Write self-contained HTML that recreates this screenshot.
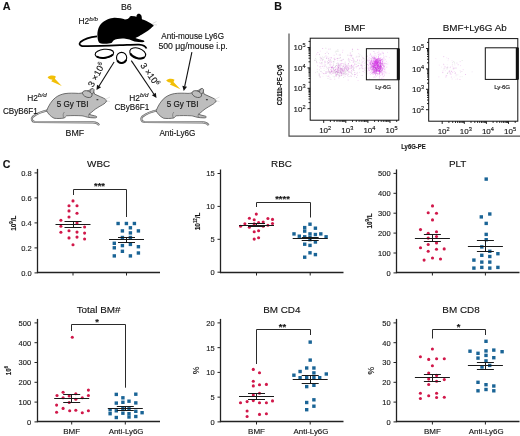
<!DOCTYPE html>
<html><head><meta charset="utf-8"><style>
html,body{margin:0;padding:0;background:#fff;}
svg{display:block;font-family:"Liberation Sans", sans-serif;-webkit-font-smoothing:antialiased;will-change:transform;}
svg text{stroke:#1a1a1a;stroke-width:0.14px;}
</style></head><body>
<svg width="520" height="436" viewBox="0 0 520 436">
<rect width="520" height="436" fill="#fff"/>
<text x="2.8" y="10.4" font-size="10.8" text-anchor="start" font-weight="bold" fill="#111" >A</text>
<text x="121" y="9.9" font-size="8.8" text-anchor="start" font-weight="normal" fill="#111" >B6</text>
<text x="78.5" y="24.0" font-size="8.4" text-anchor="start" font-weight="normal" fill="#111" >H2<tspan font-size="6.2" dy="-3.4" font-style="italic">b/b</tspan></text>
<path d="M99,42.5 C97,39 96.5,31 99.5,26 C102.5,21 108,18.6 113,17.9 C118,17.6 122,18.5 125,19.6
 C127,19.4 128.5,18.8 129.4,17.6 C129.8,16.6 130.3,16.2 131,16.1 L134.6,16.3 C135.4,16.4 135.9,16.6 136.3,16.9
 C136.4,15.8 136.8,14.9 137.4,14.3 C138,13.7 139.3,13.7 140.2,14.3 C141,14.8 141.6,15.8 141.7,17 L141.9,19.2
 C143.5,19.7 145,20.2 146,20.8 C148.5,22 151,23.5 153.1,24.8 C153.7,25.2 153.7,25.9 153.3,26.3
 C152.5,27 151.8,27.4 151.5,27.7 C150,29 149,29.9 147.5,30.9 C146,31.9 144.3,33 142.7,34.1 C141,35.2 139.8,35.8 138.6,36.5
 C137.5,37.1 136.3,37.6 135.4,38.1 C137,38.8 139.5,39.5 142,40 C143.5,40.3 144.5,40.8 144.4,41.6 C144.3,42.1 143.5,42.2 142.5,42.2
 C140,42.2 137,41.9 134.5,41.5 C131,40.2 128,39 124,38.6 C120,38.3 116,39 113.5,40.5 C112.5,41.5 112.2,42.5 111.5,43
 C109,43.8 104,43.8 101,43.5 C100,43.3 99.3,43 99,42.5 Z" fill="#000"/>
<path d="M97,36.3 C90,37 84,39 80.5,42 C78.8,43.8 79.5,45.6 82,46 C90,46.4 105,45.8 120,45.2 C128,44.9 135,44.4 139,44.6 C143,44.9 145.5,46.2 146.5,48.5" fill="none" stroke="#000" stroke-width="1.8"/>
<path d="M152.5,23.5 L156.5,21.5 M152.5,24.5 L157,25" stroke="#ccc" stroke-width="0.6"/>
<g transform="translate(104.4,53.6) rotate(-6)"><ellipse cx="0" cy="0" rx="9.3" ry="4.3" fill="#fff" stroke="#000" stroke-width="1.1"/><path d="M-7.905,2.15 A9.3,4.3 0 0 0 8.370000000000001,1.72" fill="none" stroke="#000" stroke-width="2"/></g>
<g transform="translate(121.6,57.8) rotate(0)"><ellipse cx="0" cy="0" rx="5.1" ry="5.4" fill="#fff" stroke="#000" stroke-width="1.1"/><path d="M-4.335,2.7 A5.1,5.4 0 0 0 4.59,2.16" fill="none" stroke="#000" stroke-width="2"/></g>
<g transform="translate(137.7,53.2) rotate(18)"><ellipse cx="0" cy="0" rx="8.2" ry="5.0" fill="#fff" stroke="#000" stroke-width="1.1"/><path d="M-6.969999999999999,2.5 A8.2,5.0 0 0 0 7.38,2.0" fill="none" stroke="#000" stroke-width="2"/></g>
<line x1="114.1" y1="62" x2="99.05442341704806" y2="85.93614456378718" stroke="#111" stroke-width="1.1"/>
<path d="M96.5,90 L97.02249569894164,84.65893285526315 L101.08635113515447,87.21335627231122 Z" fill="#111"/>
<line x1="131.3" y1="60.6" x2="153.81782162526298" y2="94.01930669781092" stroke="#111" stroke-width="1.1"/>
<path d="M156.5,98 L151.82747497416844,95.36039588517943 L155.80816827635752,92.67821751044241 Z" fill="#111"/>
<line x1="191.9" y1="52.1" x2="184.69006728292297" y2="86.30321740174345" stroke="#111" stroke-width="1.1"/>
<path d="M183.7,91 L182.3416759837947,85.80818376028196 L187.03845858205125,86.79825104320494 Z" fill="#111"/>
<text x="0" y="0" font-size="9" text-anchor="start" font-weight="normal" fill="#111" transform="translate(93,87.8) rotate(-62)">3 ×10<tspan font-size="6" dy="-3.4">6</tspan></text>
<text x="0" y="0" font-size="9" text-anchor="start" font-weight="normal" fill="#111" transform="translate(140,65.5) rotate(55)">3 ×10<tspan font-size="6" dy="-3.4">6</tspan></text>
<text transform="translate(161.2,38.8) scale(0.93,1)" font-size="8.8" text-anchor="start" font-weight="normal" fill="#111" >Anti-mouse Ly6G</text>
<text transform="translate(158.4,48.7) scale(0.99,1)" font-size="8.8" text-anchor="start" font-weight="normal" fill="#111" >500 μg/mouse i.p.</text>
<path transform="translate(47.6,75.8)" d="M0,1.6 C1.5,-0.4 6,-0.8 8.3,0.8 L7.3,2.9 L14.2,10.2 L3.6,5.5 L5,3.9 C3.3,3.7 1.4,3.1 0,1.6 Z" fill="#f2bf06"/>
<path transform="translate(166.2,79)" d="M0,1.6 C1.5,-0.4 6,-0.8 8.3,0.8 L7.3,2.9 L14.2,10.2 L3.6,5.5 L5,3.9 C3.3,3.7 1.4,3.1 0,1.6 Z" fill="#f2bf06"/>
<g><path d="M48,110.3 C41,111.8 36,114.2 33,116.6 C31,118.6 31.5,121.6 35,122 L93,122.4 C96,122.6 98.2,123.6 99,125.2" fill="none" stroke="#6a6a6a" stroke-width="2.1"/>
<path d="M48,110.3 C41,111.8 36,114.2 33,116.6 C31,118.6 31.5,121.6 35,122 L93,122.4 C96,122.6 98.2,123.6 99,125.2" fill="none" stroke="#c6c6c6" stroke-width="0.9"/>
<path d="M54,118.2 C50.5,116.5 48,113.5 46.6,110.8 C48.5,106 51.5,100.5 55.5,97.6 C58.5,95.3 62,94.1 65,93.6
 C69,93 74,93.1 78.5,93.4 C80.5,93.3 82,93 83,92.6 C86,91.5 88.5,90.5 89.6,90 C90,89.4 90.6,89.1 91.2,89.2
 C92.6,89.6 94,91.5 94.6,94.1 C96.5,95 98.5,95.8 100.6,96.8 C102.5,97.6 104,98.3 105.2,99.1
 C106.2,99.7 106.6,100.4 106.3,101.2 C105.9,102.6 104.5,103.6 102.8,104.6 C100.5,106 97.5,107.6 95.5,109
 C93.8,110.2 92.5,111.5 91.3,112.5 C90.5,113.2 89.6,113.7 88.9,114.2 C90.5,114.8 92.5,115.4 94.5,115.8
 C95.8,116 96.8,116.4 96.8,117 C96.8,117.6 95.8,117.9 94.5,117.9 C92,117.9 89.5,117.6 87.5,117.2
 C85,116.6 83.5,116 82,115.8 C77,115.5 71,115.5 66.5,115.8 C65.5,116.5 65.2,117.3 64.5,117.9
 C61,118.6 57,118.7 54,118.2 Z"
 fill="#bdbdbd" stroke="#4a4a4a" stroke-width="0.75"/>
<ellipse cx="92" cy="91.3" rx="1.9" ry="3" transform="rotate(20 92 91.3)" fill="#bdbdbd" stroke="#4a4a4a" stroke-width="0.7"/>
<ellipse cx="87.3" cy="94.1" rx="5" ry="3.1" transform="rotate(22 87.3 94.1)" fill="#bdbdbd" stroke="#4a4a4a" stroke-width="0.75"/>
<path d="M63.6,117.5 C62.8,115.5 63,113.5 64.4,112 M88.9,114.2 C88.3,115.4 88.5,116.6 89.5,117.5" fill="none" stroke="#555" stroke-width="0.5"/>
<ellipse cx="97.4" cy="99.7" rx="1.1" ry="0.65" fill="#333"/>
<path d="M105.8,100.6 L106.6,101.4" stroke="#222" stroke-width="1"/>
<path d="M105,99.5 L110,97 M105,100.5 L110,101.5" stroke="#c8c8c8" stroke-width="0.5"/></g>
<g transform="translate(109.5,0)"><path d="M48,110.3 C41,111.8 36,114.2 33,116.6 C31,118.6 31.5,121.6 35,122 L93,122.4 C96,122.6 98.2,123.6 99,125.2" fill="none" stroke="#6a6a6a" stroke-width="2.1"/>
<path d="M48,110.3 C41,111.8 36,114.2 33,116.6 C31,118.6 31.5,121.6 35,122 L93,122.4 C96,122.6 98.2,123.6 99,125.2" fill="none" stroke="#c6c6c6" stroke-width="0.9"/>
<path d="M54,118.2 C50.5,116.5 48,113.5 46.6,110.8 C48.5,106 51.5,100.5 55.5,97.6 C58.5,95.3 62,94.1 65,93.6
 C69,93 74,93.1 78.5,93.4 C80.5,93.3 82,93 83,92.6 C86,91.5 88.5,90.5 89.6,90 C90,89.4 90.6,89.1 91.2,89.2
 C92.6,89.6 94,91.5 94.6,94.1 C96.5,95 98.5,95.8 100.6,96.8 C102.5,97.6 104,98.3 105.2,99.1
 C106.2,99.7 106.6,100.4 106.3,101.2 C105.9,102.6 104.5,103.6 102.8,104.6 C100.5,106 97.5,107.6 95.5,109
 C93.8,110.2 92.5,111.5 91.3,112.5 C90.5,113.2 89.6,113.7 88.9,114.2 C90.5,114.8 92.5,115.4 94.5,115.8
 C95.8,116 96.8,116.4 96.8,117 C96.8,117.6 95.8,117.9 94.5,117.9 C92,117.9 89.5,117.6 87.5,117.2
 C85,116.6 83.5,116 82,115.8 C77,115.5 71,115.5 66.5,115.8 C65.5,116.5 65.2,117.3 64.5,117.9
 C61,118.6 57,118.7 54,118.2 Z"
 fill="#bdbdbd" stroke="#4a4a4a" stroke-width="0.75"/>
<ellipse cx="92" cy="91.3" rx="1.9" ry="3" transform="rotate(20 92 91.3)" fill="#bdbdbd" stroke="#4a4a4a" stroke-width="0.7"/>
<ellipse cx="87.3" cy="94.1" rx="5" ry="3.1" transform="rotate(22 87.3 94.1)" fill="#bdbdbd" stroke="#4a4a4a" stroke-width="0.75"/>
<path d="M63.6,117.5 C62.8,115.5 63,113.5 64.4,112 M88.9,114.2 C88.3,115.4 88.5,116.6 89.5,117.5" fill="none" stroke="#555" stroke-width="0.5"/>
<ellipse cx="97.4" cy="99.7" rx="1.1" ry="0.65" fill="#333"/>
<path d="M105.8,100.6 L106.6,101.4" stroke="#222" stroke-width="1"/>
<path d="M105,99.5 L110,97 M105,100.5 L110,101.5" stroke="#c8c8c8" stroke-width="0.5"/></g>
<text transform="translate(72.6,107.3) scale(0.91,1)" font-size="8.9" text-anchor="middle" font-weight="normal" fill="#111" >5 Gy TBI</text>
<text transform="translate(182.6,107.3) scale(0.91,1)" font-size="8.9" text-anchor="middle" font-weight="normal" fill="#111" >5 Gy TBI</text>
<text x="27.3" y="100.8" font-size="8.4" text-anchor="start" font-weight="normal" fill="#111" >H2<tspan font-size="6.2" dy="-3.4" font-style="italic">b/d</tspan></text>
<text transform="translate(2.9,113.6) scale(0.93,1)" font-size="8.8" text-anchor="start" font-weight="normal" fill="#111" >CByB6F1</text>
<text x="129.2" y="100.8" font-size="8.4" text-anchor="start" font-weight="normal" fill="#111" >H2<tspan font-size="6.2" dy="-3.4" font-style="italic">b/d</tspan></text>
<text transform="translate(114.4,110.4) scale(0.93,1)" font-size="8.8" text-anchor="start" font-weight="normal" fill="#111" >CByB6F1</text>
<text transform="translate(74.8,136.4) scale(1.0,1)" font-size="8.8" text-anchor="middle" font-weight="normal" fill="#111" >BMF</text>
<text transform="translate(177.4,136.4) scale(0.93,1)" font-size="8.8" text-anchor="middle" font-weight="normal" fill="#111" >Anti-Ly6G</text>
<text x="274.2" y="10.0" font-size="10.6" text-anchor="start" font-weight="bold" fill="#111" >B</text>
<text x="354.8" y="31.2" font-size="9.9" text-anchor="middle" font-weight="normal" fill="#111" >BMF</text>
<text x="474.7" y="31.2" font-size="9.9" text-anchor="middle" font-weight="normal" fill="#111" >BMF+Ly6G Ab</text>
<path d="M289,33.5 L289,136.2 L520,136.2" fill="none" stroke="#505050" stroke-width="1.2"/>
<text transform="translate(281.6,85) rotate(-90) scale(0.73,1)" font-size="8" text-anchor="middle" fill="#111" font-weight="bold">CD11b-PE-Cy5</text>
<text transform="translate(413.4,148.7) scale(0.74,1)" font-size="8" text-anchor="middle" fill="#111" font-weight="bold">Ly6G-PE</text>
<rect x="310.2" y="38.2" width="88.60000000000002" height="82.0" fill="#fff" stroke="#111" stroke-width="1"/>
<rect x="347.6" y="72.7" width="0.9" height="0.9" fill="#a08aa8" opacity="0.17"/>
<rect x="341.2" y="60.6" width="0.9" height="0.9" fill="#d24fd2" opacity="0.16"/>
<rect x="341.4" y="70.6" width="0.9" height="0.9" fill="#b070c0" opacity="0.28"/>
<rect x="320.8" y="63.5" width="0.9" height="0.9" fill="#d24fd2" opacity="0.22"/>
<rect x="335.3" y="70.9" width="0.9" height="0.9" fill="#d24fd2" opacity="0.44"/>
<rect x="342.4" y="68.2" width="0.9" height="0.9" fill="#b070c0" opacity="0.19"/>
<rect x="332.9" y="67.4" width="0.9" height="0.9" fill="#c040c8" opacity="0.20"/>
<rect x="348.2" y="74.2" width="0.9" height="0.9" fill="#b070c0" opacity="0.26"/>
<rect x="325.2" y="64.5" width="0.9" height="0.9" fill="#cc66cc" opacity="0.35"/>
<rect x="334.0" y="70.2" width="0.9" height="0.9" fill="#a08aa8" opacity="0.29"/>
<rect x="341.6" y="74.1" width="0.9" height="0.9" fill="#e28ae2" opacity="0.22"/>
<rect x="342.1" y="51.8" width="0.9" height="0.9" fill="#e28ae2" opacity="0.41"/>
<rect x="320.5" y="57.6" width="0.9" height="0.9" fill="#cc66cc" opacity="0.28"/>
<rect x="341.1" y="74.9" width="0.9" height="0.9" fill="#cc66cc" opacity="0.38"/>
<rect x="351.2" y="66.5" width="0.9" height="0.9" fill="#cc66cc" opacity="0.33"/>
<rect x="338.5" y="57.9" width="0.9" height="0.9" fill="#a08aa8" opacity="0.40"/>
<rect x="317.4" y="52.0" width="0.9" height="0.9" fill="#d24fd2" opacity="0.36"/>
<rect x="367.0" y="63.9" width="0.9" height="0.9" fill="#cc66cc" opacity="0.40"/>
<rect x="346.0" y="65.7" width="0.9" height="0.9" fill="#e070e0" opacity="0.16"/>
<rect x="341.7" y="70.6" width="0.9" height="0.9" fill="#d24fd2" opacity="0.17"/>
<rect x="335.0" y="65.8" width="0.9" height="0.9" fill="#a08aa8" opacity="0.41"/>
<rect x="328.6" y="71.7" width="0.9" height="0.9" fill="#9aa89a" opacity="0.42"/>
<rect x="360.2" y="65.0" width="0.9" height="0.9" fill="#e28ae2" opacity="0.23"/>
<rect x="351.1" y="65.0" width="0.9" height="0.9" fill="#c040c8" opacity="0.44"/>
<rect x="343.4" y="70.9" width="0.9" height="0.9" fill="#a08aa8" opacity="0.22"/>
<rect x="334.9" y="67.3" width="0.9" height="0.9" fill="#c040c8" opacity="0.15"/>
<rect x="345.8" y="66.5" width="0.9" height="0.9" fill="#c040c8" opacity="0.44"/>
<rect x="350.2" y="52.5" width="0.9" height="0.9" fill="#9aa89a" opacity="0.17"/>
<rect x="355.7" y="61.3" width="0.9" height="0.9" fill="#9aa89a" opacity="0.41"/>
<rect x="319.7" y="56.7" width="0.9" height="0.9" fill="#9aa89a" opacity="0.34"/>
<rect x="343.2" y="72.0" width="0.9" height="0.9" fill="#cc66cc" opacity="0.20"/>
<rect x="338.4" y="70.7" width="0.9" height="0.9" fill="#d24fd2" opacity="0.20"/>
<rect x="337.0" y="69.7" width="0.9" height="0.9" fill="#e28ae2" opacity="0.41"/>
<rect x="322.1" y="63.4" width="0.9" height="0.9" fill="#e28ae2" opacity="0.23"/>
<rect x="341.3" y="68.5" width="0.9" height="0.9" fill="#a08aa8" opacity="0.40"/>
<rect x="318.8" y="54.3" width="0.9" height="0.9" fill="#c040c8" opacity="0.18"/>
<rect x="336.8" y="70.6" width="0.9" height="0.9" fill="#b070c0" opacity="0.20"/>
<rect x="347.5" y="76.4" width="0.9" height="0.9" fill="#e070e0" opacity="0.19"/>
<rect x="315.6" y="59.6" width="0.9" height="0.9" fill="#9aa89a" opacity="0.31"/>
<rect x="328.1" y="69.3" width="0.9" height="0.9" fill="#b070c0" opacity="0.26"/>
<rect x="339.6" y="65.5" width="0.9" height="0.9" fill="#b070c0" opacity="0.38"/>
<rect x="340.7" y="65.3" width="0.9" height="0.9" fill="#cc66cc" opacity="0.45"/>
<rect x="357.1" y="74.8" width="0.9" height="0.9" fill="#e28ae2" opacity="0.40"/>
<rect x="333.1" y="63.4" width="0.9" height="0.9" fill="#cc66cc" opacity="0.16"/>
<rect x="337.1" y="74.0" width="0.9" height="0.9" fill="#c040c8" opacity="0.36"/>
<rect x="338.0" y="67.5" width="0.9" height="0.9" fill="#9aa89a" opacity="0.43"/>
<rect x="325.9" y="68.6" width="0.9" height="0.9" fill="#e070e0" opacity="0.22"/>
<rect x="341.4" y="68.7" width="0.9" height="0.9" fill="#a08aa8" opacity="0.42"/>
<rect x="339.7" y="71.6" width="0.9" height="0.9" fill="#cc66cc" opacity="0.35"/>
<rect x="362.6" y="71.1" width="0.9" height="0.9" fill="#c040c8" opacity="0.38"/>
<rect x="339.6" y="67.4" width="0.9" height="0.9" fill="#d24fd2" opacity="0.20"/>
<rect x="365.9" y="56.0" width="0.9" height="0.9" fill="#b070c0" opacity="0.27"/>
<rect x="350.3" y="75.3" width="0.9" height="0.9" fill="#cc66cc" opacity="0.20"/>
<rect x="348.3" y="67.8" width="0.9" height="0.9" fill="#cc66cc" opacity="0.39"/>
<rect x="348.6" y="76.1" width="0.9" height="0.9" fill="#a08aa8" opacity="0.35"/>
<rect x="334.2" y="60.8" width="0.9" height="0.9" fill="#cc66cc" opacity="0.15"/>
<rect x="348.8" y="61.1" width="0.9" height="0.9" fill="#a08aa8" opacity="0.31"/>
<rect x="358.2" y="49.2" width="0.9" height="0.9" fill="#d24fd2" opacity="0.21"/>
<rect x="336.6" y="72.6" width="0.9" height="0.9" fill="#d24fd2" opacity="0.33"/>
<rect x="334.5" y="72.3" width="0.9" height="0.9" fill="#c040c8" opacity="0.42"/>
<rect x="328.0" y="70.6" width="0.9" height="0.9" fill="#e28ae2" opacity="0.42"/>
<rect x="346.4" y="70.9" width="0.9" height="0.9" fill="#cc66cc" opacity="0.31"/>
<rect x="315.2" y="58.1" width="0.9" height="0.9" fill="#9aa89a" opacity="0.28"/>
<rect x="338.6" y="76.1" width="0.9" height="0.9" fill="#d24fd2" opacity="0.20"/>
<rect x="328.1" y="69.0" width="0.9" height="0.9" fill="#a08aa8" opacity="0.25"/>
<rect x="319.8" y="50.7" width="0.9" height="0.9" fill="#e28ae2" opacity="0.32"/>
<rect x="335.9" y="67.5" width="0.9" height="0.9" fill="#e070e0" opacity="0.30"/>
<rect x="354.6" y="74.1" width="0.9" height="0.9" fill="#e28ae2" opacity="0.42"/>
<rect x="332.0" y="66.5" width="0.9" height="0.9" fill="#e28ae2" opacity="0.30"/>
<rect x="339.6" y="53.9" width="0.9" height="0.9" fill="#a08aa8" opacity="0.43"/>
<rect x="360.8" y="64.7" width="0.9" height="0.9" fill="#c040c8" opacity="0.43"/>
<rect x="331.2" y="61.7" width="0.9" height="0.9" fill="#d24fd2" opacity="0.40"/>
<rect x="344.2" y="72.5" width="0.9" height="0.9" fill="#e070e0" opacity="0.17"/>
<rect x="343.5" y="74.5" width="0.9" height="0.9" fill="#e28ae2" opacity="0.39"/>
<rect x="349.3" y="68.5" width="0.9" height="0.9" fill="#9aa89a" opacity="0.19"/>
<rect x="365.7" y="71.4" width="0.9" height="0.9" fill="#d24fd2" opacity="0.22"/>
<rect x="366.9" y="55.7" width="0.9" height="0.9" fill="#b070c0" opacity="0.40"/>
<rect x="329.4" y="72.2" width="0.9" height="0.9" fill="#c040c8" opacity="0.25"/>
<rect x="332.9" y="71.5" width="0.9" height="0.9" fill="#e28ae2" opacity="0.16"/>
<rect x="337.6" y="72.4" width="0.9" height="0.9" fill="#c040c8" opacity="0.16"/>
<rect x="331.5" y="66.6" width="0.9" height="0.9" fill="#e070e0" opacity="0.17"/>
<rect x="319.8" y="66.7" width="0.9" height="0.9" fill="#e28ae2" opacity="0.23"/>
<rect x="339.4" y="60.4" width="0.9" height="0.9" fill="#b070c0" opacity="0.19"/>
<rect x="350.8" y="66.9" width="0.9" height="0.9" fill="#b070c0" opacity="0.23"/>
<rect x="347.3" y="66.2" width="0.9" height="0.9" fill="#c040c8" opacity="0.36"/>
<rect x="349.6" y="67.4" width="0.9" height="0.9" fill="#e28ae2" opacity="0.28"/>
<rect x="348.7" y="71.6" width="0.9" height="0.9" fill="#e28ae2" opacity="0.39"/>
<rect x="340.0" y="67.8" width="0.9" height="0.9" fill="#b070c0" opacity="0.41"/>
<rect x="332.8" y="68.7" width="0.9" height="0.9" fill="#e070e0" opacity="0.43"/>
<rect x="344.9" y="73.6" width="0.9" height="0.9" fill="#c040c8" opacity="0.22"/>
<rect x="339.6" y="72.9" width="0.9" height="0.9" fill="#a08aa8" opacity="0.21"/>
<rect x="333.6" y="70.7" width="0.9" height="0.9" fill="#9aa89a" opacity="0.24"/>
<rect x="323.7" y="73.3" width="0.9" height="0.9" fill="#cc66cc" opacity="0.25"/>
<rect x="339.6" y="69.7" width="0.9" height="0.9" fill="#e28ae2" opacity="0.37"/>
<rect x="363.9" y="65.1" width="0.9" height="0.9" fill="#a08aa8" opacity="0.18"/>
<rect x="337.2" y="69.6" width="0.9" height="0.9" fill="#d24fd2" opacity="0.30"/>
<rect x="350.8" y="55.7" width="0.9" height="0.9" fill="#cc66cc" opacity="0.44"/>
<rect x="344.4" y="72.4" width="0.9" height="0.9" fill="#a08aa8" opacity="0.34"/>
<rect x="336.7" y="64.8" width="0.9" height="0.9" fill="#9aa89a" opacity="0.19"/>
<rect x="337.8" y="70.7" width="0.9" height="0.9" fill="#9aa89a" opacity="0.20"/>
<rect x="347.0" y="66.9" width="0.9" height="0.9" fill="#e070e0" opacity="0.35"/>
<rect x="338.5" y="63.6" width="0.9" height="0.9" fill="#9aa89a" opacity="0.29"/>
<rect x="332.3" y="72.7" width="0.9" height="0.9" fill="#e070e0" opacity="0.44"/>
<rect x="343.3" y="64.0" width="0.9" height="0.9" fill="#e070e0" opacity="0.22"/>
<rect x="314.3" y="59.8" width="0.9" height="0.9" fill="#d24fd2" opacity="0.26"/>
<rect x="332.8" y="72.8" width="0.9" height="0.9" fill="#c040c8" opacity="0.30"/>
<rect x="337.9" y="69.7" width="0.9" height="0.9" fill="#cc66cc" opacity="0.27"/>
<rect x="344.9" y="71.3" width="0.9" height="0.9" fill="#9aa89a" opacity="0.22"/>
<rect x="342.4" y="63.0" width="0.9" height="0.9" fill="#d24fd2" opacity="0.38"/>
<rect x="334.9" y="59.1" width="0.9" height="0.9" fill="#d24fd2" opacity="0.25"/>
<rect x="322.2" y="48.1" width="0.9" height="0.9" fill="#c040c8" opacity="0.37"/>
<rect x="361.7" y="75.0" width="0.9" height="0.9" fill="#b070c0" opacity="0.34"/>
<rect x="357.4" y="65.8" width="0.9" height="0.9" fill="#d24fd2" opacity="0.19"/>
<rect x="357.0" y="48.9" width="0.9" height="0.9" fill="#cc66cc" opacity="0.40"/>
<rect x="361.7" y="61.8" width="0.9" height="0.9" fill="#c040c8" opacity="0.35"/>
<rect x="321.3" y="62.4" width="0.9" height="0.9" fill="#e28ae2" opacity="0.26"/>
<rect x="343.5" y="70.6" width="0.9" height="0.9" fill="#e28ae2" opacity="0.34"/>
<rect x="350.4" y="54.5" width="0.9" height="0.9" fill="#b070c0" opacity="0.30"/>
<rect x="325.5" y="71.5" width="0.9" height="0.9" fill="#b070c0" opacity="0.30"/>
<rect x="353.4" y="60.8" width="0.9" height="0.9" fill="#cc66cc" opacity="0.23"/>
<rect x="336.9" y="68.6" width="0.9" height="0.9" fill="#d24fd2" opacity="0.21"/>
<rect x="366.1" y="73.5" width="0.9" height="0.9" fill="#cc66cc" opacity="0.30"/>
<rect x="339.8" y="64.3" width="0.9" height="0.9" fill="#cc66cc" opacity="0.38"/>
<rect x="322.0" y="60.4" width="0.9" height="0.9" fill="#e28ae2" opacity="0.23"/>
<rect x="330.4" y="60.0" width="0.9" height="0.9" fill="#9aa89a" opacity="0.32"/>
<rect x="340.6" y="72.3" width="0.9" height="0.9" fill="#c040c8" opacity="0.35"/>
<rect x="341.7" y="59.6" width="0.9" height="0.9" fill="#c040c8" opacity="0.29"/>
<rect x="350.7" y="67.0" width="0.9" height="0.9" fill="#e070e0" opacity="0.21"/>
<rect x="364.0" y="72.2" width="0.9" height="0.9" fill="#cc66cc" opacity="0.16"/>
<rect x="319.2" y="73.7" width="0.9" height="0.9" fill="#b070c0" opacity="0.28"/>
<rect x="356.9" y="71.9" width="0.9" height="0.9" fill="#b070c0" opacity="0.21"/>
<rect x="364.9" y="67.6" width="0.9" height="0.9" fill="#b070c0" opacity="0.19"/>
<rect x="341.3" y="68.8" width="0.9" height="0.9" fill="#c040c8" opacity="0.42"/>
<rect x="340.1" y="63.9" width="0.9" height="0.9" fill="#d24fd2" opacity="0.16"/>
<rect x="329.5" y="77.3" width="0.9" height="0.9" fill="#b070c0" opacity="0.24"/>
<rect x="334.3" y="69.9" width="0.9" height="0.9" fill="#e070e0" opacity="0.40"/>
<rect x="338.3" y="72.3" width="0.9" height="0.9" fill="#9aa89a" opacity="0.19"/>
<rect x="352.1" y="48.8" width="0.9" height="0.9" fill="#cc66cc" opacity="0.42"/>
<rect x="343.9" y="67.2" width="0.9" height="0.9" fill="#b070c0" opacity="0.45"/>
<rect x="328.8" y="57.5" width="0.9" height="0.9" fill="#b070c0" opacity="0.16"/>
<rect x="341.5" y="72.6" width="0.9" height="0.9" fill="#e070e0" opacity="0.43"/>
<rect x="337.3" y="67.2" width="0.9" height="0.9" fill="#c040c8" opacity="0.21"/>
<rect x="354.2" y="74.0" width="0.9" height="0.9" fill="#b070c0" opacity="0.39"/>
<rect x="362.8" y="58.2" width="0.9" height="0.9" fill="#9aa89a" opacity="0.43"/>
<rect x="353.2" y="61.8" width="0.9" height="0.9" fill="#c040c8" opacity="0.29"/>
<rect x="348.5" y="60.0" width="0.9" height="0.9" fill="#cc66cc" opacity="0.24"/>
<rect x="336.3" y="71.4" width="0.9" height="0.9" fill="#cc66cc" opacity="0.29"/>
<rect x="350.7" y="68.0" width="0.9" height="0.9" fill="#d24fd2" opacity="0.44"/>
<rect x="332.6" y="68.0" width="0.9" height="0.9" fill="#9aa89a" opacity="0.32"/>
<rect x="342.3" y="70.8" width="0.9" height="0.9" fill="#cc66cc" opacity="0.21"/>
<rect x="362.4" y="57.3" width="0.9" height="0.9" fill="#d24fd2" opacity="0.45"/>
<rect x="341.5" y="69.7" width="0.9" height="0.9" fill="#cc66cc" opacity="0.18"/>
<rect x="343.2" y="71.5" width="0.9" height="0.9" fill="#c040c8" opacity="0.23"/>
<rect x="361.4" y="65.0" width="0.9" height="0.9" fill="#cc66cc" opacity="0.37"/>
<rect x="343.2" y="65.9" width="0.9" height="0.9" fill="#d24fd2" opacity="0.26"/>
<rect x="340.7" y="72.4" width="0.9" height="0.9" fill="#d24fd2" opacity="0.44"/>
<rect x="338.0" y="64.6" width="0.9" height="0.9" fill="#b070c0" opacity="0.41"/>
<rect x="344.2" y="69.3" width="0.9" height="0.9" fill="#d24fd2" opacity="0.27"/>
<rect x="333.8" y="76.4" width="0.9" height="0.9" fill="#9aa89a" opacity="0.41"/>
<rect x="340.7" y="75.2" width="0.9" height="0.9" fill="#cc66cc" opacity="0.42"/>
<rect x="338.1" y="69.6" width="0.9" height="0.9" fill="#cc66cc" opacity="0.27"/>
<rect x="365.9" y="68.5" width="0.9" height="0.9" fill="#d24fd2" opacity="0.22"/>
<rect x="343.7" y="63.4" width="0.9" height="0.9" fill="#9aa89a" opacity="0.35"/>
<rect x="352.6" y="69.2" width="0.9" height="0.9" fill="#a08aa8" opacity="0.34"/>
<rect x="316.3" y="53.7" width="0.9" height="0.9" fill="#d24fd2" opacity="0.38"/>
<rect x="348.3" y="70.9" width="0.9" height="0.9" fill="#e070e0" opacity="0.24"/>
<rect x="338.1" y="67.2" width="0.9" height="0.9" fill="#b070c0" opacity="0.36"/>
<rect x="347.0" y="74.8" width="0.9" height="0.9" fill="#d24fd2" opacity="0.32"/>
<rect x="340.0" y="71.6" width="0.9" height="0.9" fill="#b070c0" opacity="0.15"/>
<rect x="318.6" y="74.5" width="0.9" height="0.9" fill="#c040c8" opacity="0.34"/>
<rect x="339.5" y="66.5" width="0.9" height="0.9" fill="#c040c8" opacity="0.22"/>
<rect x="335.1" y="75.2" width="0.9" height="0.9" fill="#e070e0" opacity="0.24"/>
<rect x="338.3" y="64.3" width="0.9" height="0.9" fill="#e070e0" opacity="0.28"/>
<rect x="322.4" y="65.6" width="0.9" height="0.9" fill="#e070e0" opacity="0.22"/>
<rect x="345.3" y="67.7" width="0.9" height="0.9" fill="#e28ae2" opacity="0.35"/>
<rect x="325.7" y="71.4" width="0.9" height="0.9" fill="#c040c8" opacity="0.30"/>
<rect x="336.9" y="72.8" width="0.9" height="0.9" fill="#9aa89a" opacity="0.40"/>
<rect x="351.5" y="70.8" width="0.9" height="0.9" fill="#d24fd2" opacity="0.24"/>
<rect x="326.1" y="57.7" width="0.9" height="0.9" fill="#c040c8" opacity="0.28"/>
<rect x="364.7" y="62.3" width="0.9" height="0.9" fill="#d24fd2" opacity="0.19"/>
<rect x="359.2" y="71.9" width="0.9" height="0.9" fill="#c040c8" opacity="0.19"/>
<rect x="341.2" y="73.0" width="0.9" height="0.9" fill="#c040c8" opacity="0.42"/>
<rect x="363.8" y="59.6" width="0.9" height="0.9" fill="#d24fd2" opacity="0.25"/>
<rect x="350.4" y="57.3" width="0.9" height="0.9" fill="#a08aa8" opacity="0.16"/>
<rect x="334.3" y="57.7" width="0.9" height="0.9" fill="#b070c0" opacity="0.26"/>
<rect x="338.7" y="69.8" width="0.9" height="0.9" fill="#9aa89a" opacity="0.23"/>
<rect x="337.1" y="71.5" width="0.9" height="0.9" fill="#d24fd2" opacity="0.44"/>
<rect x="349.8" y="65.5" width="0.9" height="0.9" fill="#cc66cc" opacity="0.40"/>
<rect x="341.0" y="73.6" width="0.9" height="0.9" fill="#d24fd2" opacity="0.26"/>
<rect x="361.9" y="64.5" width="0.9" height="0.9" fill="#e070e0" opacity="0.16"/>
<rect x="343.4" y="72.9" width="0.9" height="0.9" fill="#b070c0" opacity="0.16"/>
<rect x="354.8" y="64.0" width="0.9" height="0.9" fill="#cc66cc" opacity="0.23"/>
<rect x="362.0" y="68.2" width="0.9" height="0.9" fill="#c040c8" opacity="0.25"/>
<rect x="335.3" y="74.5" width="0.9" height="0.9" fill="#cc66cc" opacity="0.23"/>
<rect x="314.4" y="59.9" width="0.9" height="0.9" fill="#9aa89a" opacity="0.38"/>
<rect x="347.9" y="67.3" width="0.9" height="0.9" fill="#c040c8" opacity="0.43"/>
<rect x="347.2" y="70.1" width="0.9" height="0.9" fill="#c040c8" opacity="0.44"/>
<rect x="337.1" y="58.2" width="0.9" height="0.9" fill="#e28ae2" opacity="0.30"/>
<rect x="323.9" y="65.7" width="0.9" height="0.9" fill="#c040c8" opacity="0.39"/>
<rect x="346.5" y="67.5" width="0.9" height="0.9" fill="#c040c8" opacity="0.25"/>
<rect x="329.2" y="64.1" width="0.9" height="0.9" fill="#cc66cc" opacity="0.17"/>
<rect x="338.3" y="74.5" width="0.9" height="0.9" fill="#c040c8" opacity="0.17"/>
<rect x="331.5" y="67.0" width="0.9" height="0.9" fill="#c040c8" opacity="0.44"/>
<rect x="366.8" y="60.2" width="0.9" height="0.9" fill="#e28ae2" opacity="0.23"/>
<rect x="343.6" y="73.2" width="0.9" height="0.9" fill="#a08aa8" opacity="0.36"/>
<rect x="346.5" y="70.1" width="0.9" height="0.9" fill="#a08aa8" opacity="0.34"/>
<rect x="349.5" y="62.0" width="0.9" height="0.9" fill="#a08aa8" opacity="0.19"/>
<rect x="329.8" y="48.6" width="0.9" height="0.9" fill="#a08aa8" opacity="0.32"/>
<rect x="332.9" y="69.5" width="0.9" height="0.9" fill="#e070e0" opacity="0.22"/>
<rect x="351.8" y="74.0" width="0.9" height="0.9" fill="#b070c0" opacity="0.32"/>
<rect x="353.4" y="60.8" width="0.9" height="0.9" fill="#e28ae2" opacity="0.30"/>
<rect x="327.3" y="71.6" width="0.9" height="0.9" fill="#cc66cc" opacity="0.45"/>
<rect x="340.5" y="63.1" width="0.9" height="0.9" fill="#d24fd2" opacity="0.40"/>
<rect x="320.5" y="67.9" width="0.9" height="0.9" fill="#c040c8" opacity="0.21"/>
<rect x="345.2" y="63.7" width="0.9" height="0.9" fill="#c040c8" opacity="0.43"/>
<rect x="331.7" y="72.3" width="0.9" height="0.9" fill="#d24fd2" opacity="0.23"/>
<rect x="345.9" y="65.3" width="0.9" height="0.9" fill="#c040c8" opacity="0.34"/>
<rect x="335.2" y="69.1" width="0.9" height="0.9" fill="#cc66cc" opacity="0.21"/>
<rect x="328.8" y="71.2" width="0.9" height="0.9" fill="#9aa89a" opacity="0.21"/>
<rect x="332.6" y="66.6" width="0.9" height="0.9" fill="#b070c0" opacity="0.21"/>
<rect x="342.3" y="74.5" width="0.9" height="0.9" fill="#9aa89a" opacity="0.31"/>
<rect x="344.7" y="75.8" width="0.9" height="0.9" fill="#cc66cc" opacity="0.32"/>
<rect x="319.0" y="66.4" width="0.9" height="0.9" fill="#c040c8" opacity="0.20"/>
<rect x="330.6" y="57.4" width="0.9" height="0.9" fill="#d24fd2" opacity="0.44"/>
<rect x="331.3" y="71.3" width="0.9" height="0.9" fill="#d24fd2" opacity="0.27"/>
<rect x="367.2" y="59.5" width="0.9" height="0.9" fill="#d24fd2" opacity="0.26"/>
<rect x="332.9" y="69.4" width="0.9" height="0.9" fill="#e070e0" opacity="0.15"/>
<rect x="335.8" y="50.7" width="0.9" height="0.9" fill="#9aa89a" opacity="0.41"/>
<rect x="338.9" y="72.8" width="0.9" height="0.9" fill="#d24fd2" opacity="0.32"/>
<rect x="362.6" y="63.2" width="0.9" height="0.9" fill="#e070e0" opacity="0.18"/>
<rect x="322.0" y="56.5" width="0.9" height="0.9" fill="#a08aa8" opacity="0.23"/>
<rect x="363.4" y="68.2" width="0.9" height="0.9" fill="#b070c0" opacity="0.18"/>
<rect x="318.5" y="72.9" width="0.9" height="0.9" fill="#a08aa8" opacity="0.21"/>
<rect x="330.6" y="78.9" width="0.9" height="0.9" fill="#e070e0" opacity="0.29"/>
<rect x="334.7" y="72.9" width="0.9" height="0.9" fill="#a08aa8" opacity="0.42"/>
<rect x="356.0" y="64.1" width="0.9" height="0.9" fill="#a08aa8" opacity="0.22"/>
<rect x="346.8" y="67.8" width="0.9" height="0.9" fill="#e28ae2" opacity="0.20"/>
<rect x="330.4" y="64.1" width="0.9" height="0.9" fill="#d24fd2" opacity="0.27"/>
<rect x="338.4" y="72.3" width="0.9" height="0.9" fill="#e28ae2" opacity="0.42"/>
<rect x="325.8" y="75.5" width="0.9" height="0.9" fill="#9aa89a" opacity="0.16"/>
<rect x="320.5" y="57.7" width="0.9" height="0.9" fill="#c040c8" opacity="0.33"/>
<rect x="336.5" y="58.0" width="0.9" height="0.9" fill="#e070e0" opacity="0.32"/>
<rect x="333.5" y="67.5" width="0.9" height="0.9" fill="#b070c0" opacity="0.28"/>
<rect x="331.4" y="66.4" width="0.9" height="0.9" fill="#e070e0" opacity="0.22"/>
<rect x="355.7" y="56.7" width="0.9" height="0.9" fill="#b070c0" opacity="0.29"/>
<rect x="338.8" y="68.0" width="0.9" height="0.9" fill="#e28ae2" opacity="0.19"/>
<rect x="342.9" y="73.0" width="0.9" height="0.9" fill="#a08aa8" opacity="0.30"/>
<rect x="335.7" y="68.7" width="0.9" height="0.9" fill="#cc66cc" opacity="0.37"/>
<rect x="341.0" y="59.9" width="0.9" height="0.9" fill="#d24fd2" opacity="0.26"/>
<rect x="321.4" y="62.0" width="0.9" height="0.9" fill="#9aa89a" opacity="0.41"/>
<rect x="324.5" y="60.8" width="0.9" height="0.9" fill="#d24fd2" opacity="0.44"/>
<rect x="355.4" y="63.1" width="0.9" height="0.9" fill="#e28ae2" opacity="0.20"/>
<rect x="363.7" y="58.0" width="0.9" height="0.9" fill="#cc66cc" opacity="0.17"/>
<rect x="333.5" y="69.8" width="0.9" height="0.9" fill="#e28ae2" opacity="0.42"/>
<rect x="334.1" y="70.5" width="0.9" height="0.9" fill="#e28ae2" opacity="0.30"/>
<rect x="341.1" y="63.6" width="0.9" height="0.9" fill="#d24fd2" opacity="0.25"/>
<rect x="340.2" y="72.4" width="0.9" height="0.9" fill="#cc66cc" opacity="0.43"/>
<rect x="361.8" y="66.0" width="0.9" height="0.9" fill="#e28ae2" opacity="0.20"/>
<rect x="348.1" y="68.7" width="0.9" height="0.9" fill="#c040c8" opacity="0.26"/>
<rect x="343.7" y="67.9" width="0.9" height="0.9" fill="#e070e0" opacity="0.32"/>
<rect x="347.7" y="79.6" width="0.9" height="0.9" fill="#c040c8" opacity="0.27"/>
<rect x="328.3" y="75.7" width="0.9" height="0.9" fill="#d24fd2" opacity="0.45"/>
<rect x="337.7" y="54.6" width="0.9" height="0.9" fill="#e28ae2" opacity="0.20"/>
<rect x="316.8" y="71.4" width="0.9" height="0.9" fill="#9aa89a" opacity="0.40"/>
<rect x="320.5" y="63.1" width="0.9" height="0.9" fill="#e28ae2" opacity="0.33"/>
<rect x="316.0" y="62.0" width="0.9" height="0.9" fill="#e28ae2" opacity="0.19"/>
<rect x="337.2" y="62.6" width="0.9" height="0.9" fill="#c040c8" opacity="0.30"/>
<rect x="348.9" y="65.6" width="0.9" height="0.9" fill="#c040c8" opacity="0.16"/>
<rect x="335.9" y="71.6" width="0.9" height="0.9" fill="#b070c0" opacity="0.26"/>
<rect x="329.0" y="71.0" width="0.9" height="0.9" fill="#e070e0" opacity="0.21"/>
<rect x="339.5" y="57.5" width="0.9" height="0.9" fill="#cc66cc" opacity="0.19"/>
<rect x="319.3" y="62.4" width="0.9" height="0.9" fill="#d24fd2" opacity="0.34"/>
<rect x="355.8" y="66.2" width="0.9" height="0.9" fill="#cc66cc" opacity="0.27"/>
<rect x="339.0" y="74.9" width="0.9" height="0.9" fill="#9aa89a" opacity="0.32"/>
<rect x="331.3" y="67.3" width="0.9" height="0.9" fill="#c040c8" opacity="0.43"/>
<rect x="316.5" y="62.3" width="0.9" height="0.9" fill="#cc66cc" opacity="0.31"/>
<rect x="338.4" y="77.5" width="0.9" height="0.9" fill="#cc66cc" opacity="0.38"/>
<rect x="320.1" y="70.9" width="0.9" height="0.9" fill="#a08aa8" opacity="0.19"/>
<rect x="330.8" y="67.0" width="0.9" height="0.9" fill="#d24fd2" opacity="0.34"/>
<rect x="323.5" y="57.0" width="0.9" height="0.9" fill="#a08aa8" opacity="0.24"/>
<rect x="343.2" y="76.9" width="0.9" height="0.9" fill="#9aa89a" opacity="0.38"/>
<rect x="353.8" y="75.7" width="0.9" height="0.9" fill="#c040c8" opacity="0.29"/>
<rect x="338.3" y="62.7" width="0.9" height="0.9" fill="#e070e0" opacity="0.22"/>
<rect x="340.4" y="69.8" width="0.9" height="0.9" fill="#b070c0" opacity="0.25"/>
<rect x="352.1" y="57.6" width="0.9" height="0.9" fill="#e070e0" opacity="0.23"/>
<rect x="337.4" y="49.5" width="0.9" height="0.9" fill="#a08aa8" opacity="0.39"/>
<rect x="365.5" y="61.2" width="0.9" height="0.9" fill="#9aa89a" opacity="0.22"/>
<rect x="315.0" y="72.2" width="0.9" height="0.9" fill="#cc66cc" opacity="0.23"/>
<rect x="319.0" y="69.4" width="0.9" height="0.9" fill="#e28ae2" opacity="0.37"/>
<rect x="333.3" y="72.0" width="0.9" height="0.9" fill="#a08aa8" opacity="0.22"/>
<rect x="349.6" y="54.9" width="0.9" height="0.9" fill="#d24fd2" opacity="0.44"/>
<rect x="344.8" y="65.7" width="0.9" height="0.9" fill="#c040c8" opacity="0.41"/>
<rect x="336.5" y="65.0" width="0.9" height="0.9" fill="#cc66cc" opacity="0.24"/>
<rect x="335.9" y="65.1" width="0.9" height="0.9" fill="#a08aa8" opacity="0.42"/>
<rect x="341.9" y="68.7" width="0.9" height="0.9" fill="#e070e0" opacity="0.43"/>
<rect x="339.4" y="70.0" width="0.9" height="0.9" fill="#c040c8" opacity="0.16"/>
<rect x="347.9" y="63.5" width="0.9" height="0.9" fill="#c040c8" opacity="0.36"/>
<rect x="333.5" y="70.8" width="0.9" height="0.9" fill="#9aa89a" opacity="0.40"/>
<rect x="361.6" y="66.0" width="0.9" height="0.9" fill="#a08aa8" opacity="0.17"/>
<rect x="319.9" y="76.6" width="0.9" height="0.9" fill="#c040c8" opacity="0.21"/>
<rect x="353.4" y="65.3" width="0.9" height="0.9" fill="#c040c8" opacity="0.39"/>
<rect x="358.1" y="65.1" width="0.9" height="0.9" fill="#c040c8" opacity="0.34"/>
<rect x="340.3" y="71.0" width="0.9" height="0.9" fill="#d24fd2" opacity="0.38"/>
<rect x="345.8" y="68.1" width="0.9" height="0.9" fill="#c040c8" opacity="0.16"/>
<rect x="350.6" y="68.5" width="0.9" height="0.9" fill="#e28ae2" opacity="0.26"/>
<rect x="336.1" y="73.9" width="0.9" height="0.9" fill="#c040c8" opacity="0.41"/>
<rect x="337.4" y="69.3" width="0.9" height="0.9" fill="#e070e0" opacity="0.38"/>
<rect x="335.4" y="70.4" width="0.9" height="0.9" fill="#c040c8" opacity="0.21"/>
<rect x="319.0" y="53.9" width="0.9" height="0.9" fill="#b070c0" opacity="0.40"/>
<rect x="338.2" y="72.1" width="0.9" height="0.9" fill="#a08aa8" opacity="0.38"/>
<rect x="340.3" y="70.3" width="0.9" height="0.9" fill="#b070c0" opacity="0.39"/>
<rect x="330.8" y="69.8" width="0.9" height="0.9" fill="#e070e0" opacity="0.40"/>
<rect x="344.3" y="69.8" width="0.9" height="0.9" fill="#c040c8" opacity="0.21"/>
<rect x="340.7" y="60.2" width="0.9" height="0.9" fill="#a08aa8" opacity="0.18"/>
<rect x="351.3" y="73.0" width="0.9" height="0.9" fill="#a08aa8" opacity="0.39"/>
<rect x="333.1" y="68.2" width="0.9" height="0.9" fill="#9aa89a" opacity="0.27"/>
<rect x="336.0" y="70.9" width="0.9" height="0.9" fill="#9aa89a" opacity="0.42"/>
<rect x="344.2" y="70.5" width="0.9" height="0.9" fill="#e070e0" opacity="0.42"/>
<rect x="326.6" y="51.7" width="0.9" height="0.9" fill="#b070c0" opacity="0.29"/>
<rect x="354.3" y="72.2" width="0.9" height="0.9" fill="#c040c8" opacity="0.38"/>
<rect x="322.5" y="58.6" width="0.9" height="0.9" fill="#b070c0" opacity="0.40"/>
<rect x="353.7" y="67.3" width="0.9" height="0.9" fill="#e28ae2" opacity="0.20"/>
<rect x="327.8" y="70.4" width="0.9" height="0.9" fill="#e28ae2" opacity="0.19"/>
<rect x="334.3" y="71.7" width="0.9" height="0.9" fill="#cc66cc" opacity="0.21"/>
<rect x="323.5" y="67.7" width="0.9" height="0.9" fill="#d24fd2" opacity="0.20"/>
<rect x="345.3" y="69.7" width="0.9" height="0.9" fill="#9aa89a" opacity="0.31"/>
<rect x="342.8" y="68.6" width="0.9" height="0.9" fill="#cc66cc" opacity="0.44"/>
<rect x="319.6" y="76.6" width="0.9" height="0.9" fill="#c040c8" opacity="0.27"/>
<rect x="356.5" y="72.9" width="0.9" height="0.9" fill="#cc66cc" opacity="0.37"/>
<rect x="349.0" y="71.4" width="0.9" height="0.9" fill="#e28ae2" opacity="0.18"/>
<rect x="339.6" y="69.0" width="0.9" height="0.9" fill="#e28ae2" opacity="0.27"/>
<rect x="347.8" y="59.3" width="0.9" height="0.9" fill="#a08aa8" opacity="0.29"/>
<rect x="331.7" y="65.7" width="0.9" height="0.9" fill="#d24fd2" opacity="0.37"/>
<rect x="337.1" y="57.9" width="0.9" height="0.9" fill="#cc66cc" opacity="0.32"/>
<rect x="352.6" y="57.8" width="0.9" height="0.9" fill="#c040c8" opacity="0.41"/>
<rect x="351.4" y="64.6" width="0.9" height="0.9" fill="#c040c8" opacity="0.41"/>
<rect x="330.9" y="57.3" width="0.9" height="0.9" fill="#e070e0" opacity="0.34"/>
<rect x="326.0" y="66.6" width="0.9" height="0.9" fill="#a08aa8" opacity="0.36"/>
<rect x="327.5" y="68.1" width="0.9" height="0.9" fill="#a08aa8" opacity="0.28"/>
<rect x="332.5" y="67.0" width="0.9" height="0.9" fill="#e070e0" opacity="0.35"/>
<rect x="355.6" y="66.4" width="0.9" height="0.9" fill="#d24fd2" opacity="0.27"/>
<rect x="340.4" y="74.5" width="0.9" height="0.9" fill="#e070e0" opacity="0.31"/>
<rect x="342.0" y="69.5" width="0.9" height="0.9" fill="#b070c0" opacity="0.31"/>
<rect x="329.3" y="61.3" width="0.9" height="0.9" fill="#c040c8" opacity="0.37"/>
<rect x="348.2" y="58.3" width="0.9" height="0.9" fill="#d24fd2" opacity="0.40"/>
<rect x="325.4" y="47.8" width="0.9" height="0.9" fill="#9aa89a" opacity="0.36"/>
<rect x="338.5" y="74.4" width="0.9" height="0.9" fill="#a08aa8" opacity="0.45"/>
<rect x="344.2" y="67.9" width="0.9" height="0.9" fill="#c040c8" opacity="0.27"/>
<rect x="330.9" y="70.7" width="0.9" height="0.9" fill="#cc66cc" opacity="0.36"/>
<rect x="337.7" y="71.5" width="0.9" height="0.9" fill="#d24fd2" opacity="0.37"/>
<rect x="342.2" y="67.2" width="0.9" height="0.9" fill="#c040c8" opacity="0.22"/>
<rect x="321.1" y="58.4" width="0.9" height="0.9" fill="#a08aa8" opacity="0.38"/>
<rect x="347.9" y="65.2" width="0.9" height="0.9" fill="#d24fd2" opacity="0.29"/>
<rect x="333.0" y="64.9" width="0.9" height="0.9" fill="#a08aa8" opacity="0.34"/>
<rect x="357.6" y="80.0" width="0.9" height="0.9" fill="#e070e0" opacity="0.29"/>
<rect x="337.0" y="67.9" width="0.9" height="0.9" fill="#e28ae2" opacity="0.40"/>
<rect x="333.1" y="71.4" width="0.9" height="0.9" fill="#e28ae2" opacity="0.26"/>
<rect x="340.5" y="67.6" width="0.9" height="0.9" fill="#e070e0" opacity="0.15"/>
<rect x="330.3" y="61.2" width="0.9" height="0.9" fill="#e070e0" opacity="0.29"/>
<rect x="330.6" y="72.3" width="0.9" height="0.9" fill="#e28ae2" opacity="0.26"/>
<rect x="359.7" y="54.4" width="0.9" height="0.9" fill="#a08aa8" opacity="0.17"/>
<rect x="321.7" y="72.4" width="0.9" height="0.9" fill="#e28ae2" opacity="0.40"/>
<rect x="315.0" y="55.4" width="0.9" height="0.9" fill="#e28ae2" opacity="0.15"/>
<rect x="319.6" y="59.2" width="0.9" height="0.9" fill="#e070e0" opacity="0.19"/>
<rect x="339.4" y="67.4" width="0.9" height="0.9" fill="#c040c8" opacity="0.20"/>
<rect x="356.3" y="55.8" width="0.9" height="0.9" fill="#cc66cc" opacity="0.20"/>
<rect x="349.8" y="52.7" width="0.9" height="0.9" fill="#e070e0" opacity="0.42"/>
<rect x="358.8" y="54.5" width="0.9" height="0.9" fill="#a08aa8" opacity="0.21"/>
<rect x="337.5" y="50.9" width="0.9" height="0.9" fill="#9aa89a" opacity="0.41"/>
<rect x="328.3" y="60.0" width="0.9" height="0.9" fill="#d24fd2" opacity="0.22"/>
<rect x="338.3" y="68.5" width="0.9" height="0.9" fill="#cc66cc" opacity="0.29"/>
<rect x="338.7" y="65.5" width="0.9" height="0.9" fill="#cc66cc" opacity="0.31"/>
<rect x="339.1" y="75.6" width="0.9" height="0.9" fill="#cc66cc" opacity="0.32"/>
<rect x="358.9" y="62.8" width="0.9" height="0.9" fill="#9aa89a" opacity="0.26"/>
<rect x="337.4" y="71.1" width="0.9" height="0.9" fill="#e28ae2" opacity="0.34"/>
<rect x="350.5" y="71.6" width="0.9" height="0.9" fill="#cc66cc" opacity="0.43"/>
<rect x="347.7" y="70.6" width="0.9" height="0.9" fill="#b070c0" opacity="0.30"/>
<rect x="316.0" y="61.2" width="0.9" height="0.9" fill="#a08aa8" opacity="0.37"/>
<rect x="333.7" y="54.8" width="0.9" height="0.9" fill="#d24fd2" opacity="0.29"/>
<rect x="355.2" y="74.0" width="0.9" height="0.9" fill="#d24fd2" opacity="0.21"/>
<rect x="343.0" y="65.7" width="0.9" height="0.9" fill="#c040c8" opacity="0.40"/>
<rect x="331.0" y="71.4" width="0.9" height="0.9" fill="#9aa89a" opacity="0.30"/>
<rect x="337.3" y="59.9" width="0.9" height="0.9" fill="#e28ae2" opacity="0.35"/>
<rect x="330.1" y="59.2" width="0.9" height="0.9" fill="#cc66cc" opacity="0.33"/>
<rect x="355.9" y="67.5" width="0.9" height="0.9" fill="#a08aa8" opacity="0.16"/>
<rect x="316.8" y="68.8" width="0.9" height="0.9" fill="#d24fd2" opacity="0.24"/>
<rect x="344.8" y="66.7" width="0.9" height="0.9" fill="#b070c0" opacity="0.33"/>
<rect x="356.2" y="76.9" width="0.9" height="0.9" fill="#b070c0" opacity="0.42"/>
<rect x="351.2" y="54.9" width="0.9" height="0.9" fill="#b070c0" opacity="0.33"/>
<rect x="325.5" y="55.6" width="0.9" height="0.9" fill="#c040c8" opacity="0.35"/>
<rect x="334.5" y="69.8" width="0.9" height="0.9" fill="#c040c8" opacity="0.20"/>
<rect x="320.7" y="70.9" width="0.9" height="0.9" fill="#b070c0" opacity="0.35"/>
<rect x="325.6" y="72.5" width="0.9" height="0.9" fill="#b070c0" opacity="0.32"/>
<rect x="346.1" y="68.5" width="0.9" height="0.9" fill="#c040c8" opacity="0.25"/>
<rect x="323.7" y="64.4" width="0.9" height="0.9" fill="#9aa89a" opacity="0.17"/>
<rect x="357.3" y="65.6" width="0.9" height="0.9" fill="#c040c8" opacity="0.32"/>
<rect x="338.0" y="63.1" width="0.9" height="0.9" fill="#b070c0" opacity="0.15"/>
<rect x="327.9" y="62.6" width="0.9" height="0.9" fill="#b070c0" opacity="0.44"/>
<rect x="340.1" y="68.3" width="0.9" height="0.9" fill="#e070e0" opacity="0.34"/>
<rect x="339.4" y="70.1" width="0.9" height="0.9" fill="#cc66cc" opacity="0.15"/>
<rect x="318.9" y="75.4" width="0.9" height="0.9" fill="#9aa89a" opacity="0.41"/>
<rect x="350.9" y="76.2" width="0.9" height="0.9" fill="#b070c0" opacity="0.22"/>
<rect x="324.2" y="63.4" width="0.9" height="0.9" fill="#d24fd2" opacity="0.17"/>
<rect x="353.0" y="59.1" width="0.9" height="0.9" fill="#c040c8" opacity="0.18"/>
<rect x="351.9" y="48.8" width="0.9" height="0.9" fill="#cc66cc" opacity="0.29"/>
<rect x="352.4" y="61.7" width="0.9" height="0.9" fill="#c040c8" opacity="0.15"/>
<rect x="329.6" y="79.0" width="0.9" height="0.9" fill="#a08aa8" opacity="0.17"/>
<rect x="337.6" y="64.3" width="0.9" height="0.9" fill="#e28ae2" opacity="0.41"/>
<rect x="345.3" y="67.5" width="0.9" height="0.9" fill="#b070c0" opacity="0.32"/>
<rect x="336.2" y="71.0" width="0.9" height="0.9" fill="#b070c0" opacity="0.39"/>
<rect x="331.3" y="67.9" width="0.9" height="0.9" fill="#cc66cc" opacity="0.28"/>
<rect x="342.5" y="65.7" width="0.9" height="0.9" fill="#e28ae2" opacity="0.39"/>
<rect x="336.2" y="75.2" width="0.9" height="0.9" fill="#d24fd2" opacity="0.40"/>
<rect x="324.6" y="61.9" width="0.9" height="0.9" fill="#c040c8" opacity="0.40"/>
<rect x="361.4" y="59.5" width="0.9" height="0.9" fill="#cc66cc" opacity="0.26"/>
<rect x="346.2" y="69.1" width="0.9" height="0.9" fill="#b070c0" opacity="0.42"/>
<rect x="328.2" y="62.1" width="0.9" height="0.9" fill="#cc66cc" opacity="0.28"/>
<rect x="357.6" y="62.6" width="0.9" height="0.9" fill="#9aa89a" opacity="0.42"/>
<rect x="325.5" y="73.0" width="0.9" height="0.9" fill="#c040c8" opacity="0.41"/>
<rect x="357.1" y="60.2" width="0.9" height="0.9" fill="#d24fd2" opacity="0.36"/>
<rect x="332.7" y="75.7" width="0.9" height="0.9" fill="#9aa89a" opacity="0.18"/>
<rect x="354.1" y="63.6" width="0.9" height="0.9" fill="#d24fd2" opacity="0.43"/>
<rect x="328.8" y="67.4" width="0.9" height="0.9" fill="#cc66cc" opacity="0.29"/>
<rect x="337.8" y="66.3" width="0.9" height="0.9" fill="#e070e0" opacity="0.39"/>
<rect x="350.6" y="75.7" width="0.9" height="0.9" fill="#e28ae2" opacity="0.38"/>
<rect x="323.2" y="73.1" width="0.9" height="0.9" fill="#cc66cc" opacity="0.42"/>
<rect x="339.6" y="55.0" width="0.9" height="0.9" fill="#c040c8" opacity="0.33"/>
<rect x="342.9" y="70.5" width="0.9" height="0.9" fill="#c040c8" opacity="0.36"/>
<rect x="335.0" y="66.3" width="0.9" height="0.9" fill="#b070c0" opacity="0.31"/>
<rect x="345.2" y="73.7" width="0.9" height="0.9" fill="#a08aa8" opacity="0.39"/>
<rect x="334.0" y="67.0" width="0.9" height="0.9" fill="#b070c0" opacity="0.31"/>
<rect x="328.1" y="53.2" width="0.9" height="0.9" fill="#b070c0" opacity="0.38"/>
<rect x="351.1" y="70.1" width="0.9" height="0.9" fill="#e070e0" opacity="0.40"/>
<rect x="327.7" y="58.3" width="0.9" height="0.9" fill="#c040c8" opacity="0.16"/>
<rect x="341.2" y="70.3" width="0.9" height="0.9" fill="#b070c0" opacity="0.17"/>
<rect x="364.6" y="67.5" width="0.9" height="0.9" fill="#e28ae2" opacity="0.42"/>
<rect x="331.6" y="66.8" width="0.9" height="0.9" fill="#c040c8" opacity="0.19"/>
<rect x="327.9" y="58.1" width="0.9" height="0.9" fill="#cc66cc" opacity="0.32"/>
<rect x="335.1" y="72.2" width="0.9" height="0.9" fill="#a08aa8" opacity="0.28"/>
<rect x="362.4" y="68.3" width="0.9" height="0.9" fill="#e28ae2" opacity="0.22"/>
<rect x="337.9" y="67.3" width="0.9" height="0.9" fill="#c040c8" opacity="0.42"/>
<rect x="358.7" y="68.7" width="0.9" height="0.9" fill="#c040c8" opacity="0.16"/>
<rect x="366.6" y="59.7" width="0.9" height="0.9" fill="#b070c0" opacity="0.17"/>
<rect x="338.8" y="64.7" width="0.9" height="0.9" fill="#b070c0" opacity="0.35"/>
<rect x="326.9" y="61.2" width="0.9" height="0.9" fill="#a08aa8" opacity="0.18"/>
<rect x="338.0" y="66.4" width="0.9" height="0.9" fill="#e070e0" opacity="0.29"/>
<rect x="338.5" y="71.6" width="0.9" height="0.9" fill="#d24fd2" opacity="0.35"/>
<rect x="337.1" y="71.7" width="0.9" height="0.9" fill="#d24fd2" opacity="0.16"/>
<rect x="325.9" y="57.7" width="0.9" height="0.9" fill="#b070c0" opacity="0.43"/>
<rect x="338.0" y="65.1" width="0.9" height="0.9" fill="#d24fd2" opacity="0.18"/>
<rect x="359.0" y="59.7" width="0.9" height="0.9" fill="#cc66cc" opacity="0.34"/>
<rect x="350.8" y="66.1" width="0.9" height="0.9" fill="#b070c0" opacity="0.29"/>
<rect x="317.2" y="65.3" width="0.9" height="0.9" fill="#e070e0" opacity="0.36"/>
<rect x="321.9" y="66.1" width="0.9" height="0.9" fill="#e28ae2" opacity="0.41"/>
<rect x="340.6" y="67.9" width="0.9" height="0.9" fill="#e070e0" opacity="0.23"/>
<rect x="340.3" y="60.1" width="0.9" height="0.9" fill="#9aa89a" opacity="0.25"/>
<rect x="320.3" y="65.9" width="0.9" height="0.9" fill="#e28ae2" opacity="0.44"/>
<rect x="330.9" y="73.9" width="0.9" height="0.9" fill="#d24fd2" opacity="0.21"/>
<rect x="344.2" y="69.1" width="0.9" height="0.9" fill="#e28ae2" opacity="0.21"/>
<rect x="361.9" y="66.9" width="0.9" height="0.9" fill="#e070e0" opacity="0.17"/>
<rect x="329.8" y="65.5" width="0.9" height="0.9" fill="#cc66cc" opacity="0.44"/>
<rect x="331.4" y="70.9" width="0.9" height="0.9" fill="#d24fd2" opacity="0.19"/>
<rect x="329.7" y="71.9" width="0.9" height="0.9" fill="#b070c0" opacity="0.21"/>
<rect x="335.3" y="71.8" width="0.9" height="0.9" fill="#c040c8" opacity="0.32"/>
<rect x="350.6" y="72.3" width="0.9" height="0.9" fill="#b070c0" opacity="0.36"/>
<rect x="339.8" y="71.1" width="0.9" height="0.9" fill="#cc66cc" opacity="0.33"/>
<rect x="343.6" y="69.3" width="0.9" height="0.9" fill="#d24fd2" opacity="0.33"/>
<rect x="325.0" y="65.7" width="0.9" height="0.9" fill="#a08aa8" opacity="0.17"/>
<rect x="335.9" y="53.6" width="0.9" height="0.9" fill="#b070c0" opacity="0.37"/>
<rect x="331.5" y="70.9" width="0.9" height="0.9" fill="#e070e0" opacity="0.40"/>
<rect x="362.6" y="61.0" width="0.9" height="0.9" fill="#cc66cc" opacity="0.29"/>
<rect x="328.4" y="62.3" width="0.9" height="0.9" fill="#a08aa8" opacity="0.21"/>
<rect x="333.9" y="59.4" width="0.9" height="0.9" fill="#e28ae2" opacity="0.33"/>
<rect x="329.6" y="71.3" width="0.9" height="0.9" fill="#cc66cc" opacity="0.30"/>
<rect x="334.9" y="69.2" width="0.9" height="0.9" fill="#c040c8" opacity="0.41"/>
<rect x="336.3" y="63.2" width="0.9" height="0.9" fill="#9aa89a" opacity="0.38"/>
<rect x="352.0" y="66.3" width="0.9" height="0.9" fill="#d24fd2" opacity="0.30"/>
<rect x="342.4" y="49.7" width="0.9" height="0.9" fill="#e070e0" opacity="0.31"/>
<rect x="337.0" y="72.2" width="0.9" height="0.9" fill="#d24fd2" opacity="0.20"/>
<rect x="352.9" y="69.7" width="0.9" height="0.9" fill="#e28ae2" opacity="0.16"/>
<rect x="333.2" y="69.0" width="0.9" height="0.9" fill="#b070c0" opacity="0.16"/>
<rect x="351.6" y="54.6" width="0.9" height="0.9" fill="#cc66cc" opacity="0.18"/>
<rect x="352.3" y="58.3" width="0.9" height="0.9" fill="#c040c8" opacity="0.16"/>
<rect x="338.6" y="65.5" width="0.9" height="0.9" fill="#b070c0" opacity="0.23"/>
<rect x="340.6" y="68.1" width="0.9" height="0.9" fill="#e28ae2" opacity="0.33"/>
<rect x="353.9" y="67.7" width="0.9" height="0.9" fill="#b070c0" opacity="0.20"/>
<rect x="364.1" y="69.5" width="0.9" height="0.9" fill="#cc66cc" opacity="0.27"/>
<rect x="329.9" y="72.0" width="0.9" height="0.9" fill="#cc66cc" opacity="0.27"/>
<rect x="327.0" y="63.3" width="0.9" height="0.9" fill="#cc66cc" opacity="0.25"/>
<rect x="352.6" y="66.5" width="0.9" height="0.9" fill="#b070c0" opacity="0.42"/>
<rect x="359.3" y="60.7" width="0.9" height="0.9" fill="#cc66cc" opacity="0.17"/>
<rect x="327.5" y="78.0" width="0.9" height="0.9" fill="#a08aa8" opacity="0.28"/>
<rect x="333.6" y="57.9" width="0.9" height="0.9" fill="#b070c0" opacity="0.31"/>
<rect x="342.1" y="65.8" width="0.9" height="0.9" fill="#a08aa8" opacity="0.16"/>
<rect x="335.6" y="75.8" width="0.9" height="0.9" fill="#cc66cc" opacity="0.43"/>
<rect x="361.3" y="67.5" width="0.9" height="0.9" fill="#e28ae2" opacity="0.16"/>
<rect x="328.3" y="48.7" width="0.9" height="0.9" fill="#d24fd2" opacity="0.35"/>
<rect x="333.4" y="61.8" width="0.9" height="0.9" fill="#9aa89a" opacity="0.34"/>
<rect x="337.1" y="65.9" width="0.9" height="0.9" fill="#e070e0" opacity="0.44"/>
<rect x="349.1" y="67.9" width="0.9" height="0.9" fill="#e28ae2" opacity="0.19"/>
<rect x="328.5" y="70.3" width="0.9" height="0.9" fill="#9aa89a" opacity="0.29"/>
<rect x="322.1" y="59.9" width="0.9" height="0.9" fill="#d24fd2" opacity="0.19"/>
<rect x="346.1" y="68.7" width="0.9" height="0.9" fill="#e28ae2" opacity="0.24"/>
<rect x="343.5" y="73.6" width="0.9" height="0.9" fill="#e070e0" opacity="0.40"/>
<rect x="324.9" y="53.0" width="0.9" height="0.9" fill="#cc66cc" opacity="0.36"/>
<rect x="327.7" y="67.5" width="0.9" height="0.9" fill="#d24fd2" opacity="0.29"/>
<rect x="338.5" y="68.2" width="0.9" height="0.9" fill="#e070e0" opacity="0.30"/>
<rect x="337.1" y="72.2" width="0.9" height="0.9" fill="#a08aa8" opacity="0.26"/>
<rect x="326.9" y="61.6" width="0.9" height="0.9" fill="#b070c0" opacity="0.32"/>
<rect x="361.3" y="67.4" width="0.9" height="0.9" fill="#b070c0" opacity="0.24"/>
<rect x="360.6" y="63.6" width="0.9" height="0.9" fill="#9aa89a" opacity="0.28"/>
<rect x="331.6" y="70.8" width="0.9" height="0.9" fill="#e070e0" opacity="0.37"/>
<rect x="341.3" y="72.2" width="0.9" height="0.9" fill="#a08aa8" opacity="0.37"/>
<rect x="334.3" y="78.7" width="0.9" height="0.9" fill="#cc66cc" opacity="0.35"/>
<rect x="359.4" y="67.8" width="0.9" height="0.9" fill="#c040c8" opacity="0.40"/>
<rect x="354.6" y="61.4" width="0.9" height="0.9" fill="#a08aa8" opacity="0.29"/>
<rect x="351.9" y="50.7" width="0.9" height="0.9" fill="#9aa89a" opacity="0.42"/>
<rect x="337.7" y="69.9" width="0.9" height="0.9" fill="#e070e0" opacity="0.38"/>
<rect x="341.6" y="69.8" width="0.9" height="0.9" fill="#e070e0" opacity="0.33"/>
<rect x="329.7" y="62.6" width="0.9" height="0.9" fill="#e070e0" opacity="0.37"/>
<rect x="330.3" y="70.9" width="0.9" height="0.9" fill="#e28ae2" opacity="0.27"/>
<rect x="341.8" y="72.6" width="0.9" height="0.9" fill="#d24fd2" opacity="0.30"/>
<rect x="340.9" y="62.9" width="0.9" height="0.9" fill="#e070e0" opacity="0.19"/>
<rect x="345.1" y="67.7" width="0.9" height="0.9" fill="#cc66cc" opacity="0.18"/>
<rect x="358.8" y="56.2" width="0.9" height="0.9" fill="#9aa89a" opacity="0.44"/>
<rect x="322.5" y="75.9" width="0.9" height="0.9" fill="#e070e0" opacity="0.15"/>
<rect x="329.6" y="73.2" width="0.9" height="0.9" fill="#c040c8" opacity="0.43"/>
<rect x="342.8" y="58.9" width="0.9" height="0.9" fill="#b070c0" opacity="0.45"/>
<rect x="334.9" y="51.6" width="0.9" height="0.9" fill="#9aa89a" opacity="0.26"/>
<rect x="332.9" y="61.0" width="0.9" height="0.9" fill="#a08aa8" opacity="0.43"/>
<rect x="334.1" y="59.0" width="0.9" height="0.9" fill="#cc66cc" opacity="0.27"/>
<rect x="344.7" y="61.7" width="0.9" height="0.9" fill="#e070e0" opacity="0.41"/>
<rect x="347.4" y="54.7" width="0.9" height="0.9" fill="#a08aa8" opacity="0.45"/>
<rect x="323.7" y="70.0" width="0.9" height="0.9" fill="#9aa89a" opacity="0.20"/>
<rect x="353.0" y="68.5" width="0.9" height="0.9" fill="#c040c8" opacity="0.30"/>
<rect x="347.8" y="68.8" width="0.9" height="0.9" fill="#d24fd2" opacity="0.40"/>
<rect x="361.4" y="55.6" width="0.9" height="0.9" fill="#9aa89a" opacity="0.28"/>
<rect x="347.5" y="68.6" width="0.9" height="0.9" fill="#c040c8" opacity="0.30"/>
<rect x="348.5" y="71.8" width="0.9" height="0.9" fill="#d24fd2" opacity="0.33"/>
<rect x="337.8" y="74.8" width="0.9" height="0.9" fill="#a08aa8" opacity="0.16"/>
<rect x="331.5" y="70.4" width="0.9" height="0.9" fill="#c040c8" opacity="0.36"/>
<rect x="352.7" y="67.4" width="0.9" height="0.9" fill="#a08aa8" opacity="0.33"/>
<rect x="343.6" y="64.9" width="0.9" height="0.9" fill="#e070e0" opacity="0.23"/>
<rect x="342.5" y="70.0" width="0.9" height="0.9" fill="#e070e0" opacity="0.45"/>
<rect x="322.5" y="59.2" width="0.9" height="0.9" fill="#9aa89a" opacity="0.38"/>
<rect x="342.2" y="70.7" width="0.9" height="0.9" fill="#c040c8" opacity="0.31"/>
<rect x="346.8" y="64.7" width="0.9" height="0.9" fill="#9aa89a" opacity="0.39"/>
<rect x="339.3" y="75.9" width="0.9" height="0.9" fill="#a08aa8" opacity="0.25"/>
<rect x="328.4" y="59.6" width="0.9" height="0.9" fill="#c040c8" opacity="0.18"/>
<rect x="345.2" y="65.6" width="0.9" height="0.9" fill="#b070c0" opacity="0.25"/>
<rect x="340.0" y="68.8" width="0.9" height="0.9" fill="#cc66cc" opacity="0.42"/>
<rect x="347.2" y="69.5" width="0.9" height="0.9" fill="#b070c0" opacity="0.22"/>
<rect x="352.5" y="68.7" width="0.9" height="0.9" fill="#e28ae2" opacity="0.24"/>
<rect x="357.6" y="56.4" width="0.9" height="0.9" fill="#cc66cc" opacity="0.24"/>
<rect x="364.7" y="70.1" width="0.9" height="0.9" fill="#9aa89a" opacity="0.22"/>
<rect x="337.1" y="68.7" width="0.9" height="0.9" fill="#c040c8" opacity="0.24"/>
<rect x="340.0" y="57.3" width="0.9" height="0.9" fill="#a08aa8" opacity="0.39"/>
<rect x="344.9" y="71.3" width="0.9" height="0.9" fill="#9aa89a" opacity="0.21"/>
<rect x="320.3" y="59.9" width="0.9" height="0.9" fill="#e070e0" opacity="0.31"/>
<rect x="335.8" y="74.2" width="0.9" height="0.9" fill="#a08aa8" opacity="0.19"/>
<rect x="332.9" y="63.7" width="0.9" height="0.9" fill="#cc66cc" opacity="0.22"/>
<rect x="344.0" y="69.1" width="0.9" height="0.9" fill="#9aa89a" opacity="0.16"/>
<rect x="351.8" y="60.0" width="0.9" height="0.9" fill="#e28ae2" opacity="0.18"/>
<rect x="340.3" y="71.5" width="0.9" height="0.9" fill="#a08aa8" opacity="0.28"/>
<rect x="357.0" y="59.0" width="0.9" height="0.9" fill="#c040c8" opacity="0.20"/>
<rect x="330.5" y="69.1" width="0.9" height="0.9" fill="#d24fd2" opacity="0.44"/>
<rect x="335.3" y="73.8" width="0.9" height="0.9" fill="#b070c0" opacity="0.22"/>
<rect x="347.4" y="73.5" width="0.9" height="0.9" fill="#cc66cc" opacity="0.23"/>
<rect x="327.3" y="56.5" width="0.9" height="0.9" fill="#e28ae2" opacity="0.33"/>
<rect x="341.0" y="67.9" width="0.9" height="0.9" fill="#d24fd2" opacity="0.30"/>
<rect x="328.6" y="59.6" width="0.9" height="0.9" fill="#b070c0" opacity="0.38"/>
<rect x="329.5" y="67.1" width="0.9" height="0.9" fill="#b070c0" opacity="0.24"/>
<rect x="340.8" y="71.6" width="0.9" height="0.9" fill="#e28ae2" opacity="0.41"/>
<rect x="334.9" y="68.8" width="0.9" height="0.9" fill="#e070e0" opacity="0.32"/>
<rect x="338.2" y="66.7" width="0.9" height="0.9" fill="#b070c0" opacity="0.17"/>
<rect x="342.3" y="70.0" width="0.9" height="0.9" fill="#e28ae2" opacity="0.37"/>
<rect x="348.2" y="63.2" width="0.9" height="0.9" fill="#cc66cc" opacity="0.38"/>
<rect x="328.9" y="64.6" width="0.9" height="0.9" fill="#9aa89a" opacity="0.16"/>
<rect x="349.5" y="59.3" width="0.9" height="0.9" fill="#c040c8" opacity="0.26"/>
<rect x="327.8" y="66.7" width="0.9" height="0.9" fill="#cc66cc" opacity="0.22"/>
<rect x="323.9" y="56.3" width="0.9" height="0.9" fill="#9aa89a" opacity="0.18"/>
<rect x="353.3" y="70.1" width="0.9" height="0.9" fill="#9aa89a" opacity="0.36"/>
<rect x="339.4" y="71.8" width="0.9" height="0.9" fill="#e070e0" opacity="0.21"/>
<rect x="339.7" y="69.0" width="0.9" height="0.9" fill="#cc66cc" opacity="0.24"/>
<rect x="344.5" y="67.9" width="0.9" height="0.9" fill="#e28ae2" opacity="0.36"/>
<rect x="327.1" y="75.9" width="0.9" height="0.9" fill="#e28ae2" opacity="0.25"/>
<rect x="345.2" y="71.9" width="0.9" height="0.9" fill="#9aa89a" opacity="0.24"/>
<rect x="344.9" y="64.3" width="0.9" height="0.9" fill="#b070c0" opacity="0.16"/>
<rect x="349.0" y="65.8" width="0.9" height="0.9" fill="#e28ae2" opacity="0.21"/>
<rect x="354.1" y="70.2" width="0.9" height="0.9" fill="#e070e0" opacity="0.18"/>
<rect x="358.3" y="53.1" width="0.9" height="0.9" fill="#cc66cc" opacity="0.23"/>
<rect x="346.1" y="73.4" width="0.9" height="0.9" fill="#cc66cc" opacity="0.43"/>
<rect x="353.5" y="59.8" width="0.9" height="0.9" fill="#a08aa8" opacity="0.40"/>
<rect x="351.3" y="60.0" width="0.9" height="0.9" fill="#c040c8" opacity="0.28"/>
<rect x="376.8" y="52.4" width="0.9" height="0.9" fill="#d630e6" opacity="0.20"/>
<rect x="375.6" y="71.8" width="0.9" height="0.9" fill="#b848c8" opacity="0.49"/>
<rect x="381.8" y="73.6" width="0.9" height="0.9" fill="#e040f0" opacity="0.20"/>
<rect x="378.3" y="66.7" width="0.9" height="0.9" fill="#e060f0" opacity="0.66"/>
<rect x="373.2" y="51.0" width="0.9" height="0.9" fill="#b848c8" opacity="0.20"/>
<rect x="373.1" y="60.6" width="0.9" height="0.9" fill="#e060f0" opacity="0.51"/>
<rect x="372.2" y="65.2" width="0.9" height="0.9" fill="#d630e6" opacity="0.56"/>
<rect x="377.9" y="61.6" width="0.9" height="0.9" fill="#e060f0" opacity="0.62"/>
<rect x="379.9" y="66.7" width="0.9" height="0.9" fill="#b848c8" opacity="0.59"/>
<rect x="380.0" y="70.9" width="0.9" height="0.9" fill="#e060f0" opacity="0.44"/>
<rect x="381.6" y="63.2" width="0.9" height="0.9" fill="#c838d8" opacity="0.47"/>
<rect x="373.6" y="65.6" width="0.9" height="0.9" fill="#b848c8" opacity="0.64"/>
<rect x="381.7" y="52.9" width="0.9" height="0.9" fill="#b848c8" opacity="0.20"/>
<rect x="379.9" y="62.4" width="0.9" height="0.9" fill="#c838d8" opacity="0.57"/>
<rect x="379.4" y="67.5" width="0.9" height="0.9" fill="#c838d8" opacity="0.61"/>
<rect x="374.8" y="60.5" width="0.9" height="0.9" fill="#e060f0" opacity="0.58"/>
<rect x="374.9" y="68.0" width="0.9" height="0.9" fill="#c838d8" opacity="0.64"/>
<rect x="371.3" y="65.4" width="0.9" height="0.9" fill="#e040f0" opacity="0.50"/>
<rect x="373.7" y="61.4" width="0.9" height="0.9" fill="#e060f0" opacity="0.58"/>
<rect x="371.3" y="55.9" width="0.9" height="0.9" fill="#d630e6" opacity="0.20"/>
<rect x="378.2" y="66.5" width="0.9" height="0.9" fill="#e040f0" opacity="0.67"/>
<rect x="374.5" y="63.9" width="0.9" height="0.9" fill="#e060f0" opacity="0.66"/>
<rect x="380.4" y="65.7" width="0.9" height="0.9" fill="#c838d8" opacity="0.57"/>
<rect x="377.9" y="64.5" width="0.9" height="0.9" fill="#d630e6" opacity="0.68"/>
<rect x="379.3" y="63.4" width="0.9" height="0.9" fill="#c838d8" opacity="0.62"/>
<rect x="371.8" y="69.0" width="0.9" height="0.9" fill="#b848c8" opacity="0.47"/>
<rect x="378.9" y="60.0" width="0.9" height="0.9" fill="#e040f0" opacity="0.52"/>
<rect x="377.2" y="66.3" width="0.9" height="0.9" fill="#e040f0" opacity="0.69"/>
<rect x="377.3" y="65.2" width="0.9" height="0.9" fill="#b848c8" opacity="0.69"/>
<rect x="374.6" y="62.0" width="0.9" height="0.9" fill="#e040f0" opacity="0.62"/>
<rect x="364.3" y="62.7" width="0.9" height="0.9" fill="#c838d8" opacity="0.20"/>
<rect x="375.6" y="59.2" width="0.9" height="0.9" fill="#c838d8" opacity="0.52"/>
<rect x="376.7" y="67.8" width="0.9" height="0.9" fill="#c838d8" opacity="0.67"/>
<rect x="381.5" y="77.8" width="0.9" height="0.9" fill="#e040f0" opacity="0.20"/>
<rect x="376.9" y="60.4" width="0.9" height="0.9" fill="#d630e6" opacity="0.59"/>
<rect x="371.5" y="72.7" width="0.9" height="0.9" fill="#b848c8" opacity="0.25"/>
<rect x="373.9" y="65.2" width="0.9" height="0.9" fill="#e060f0" opacity="0.65"/>
<rect x="379.7" y="66.1" width="0.9" height="0.9" fill="#b848c8" opacity="0.61"/>
<rect x="377.2" y="66.8" width="0.9" height="0.9" fill="#d630e6" opacity="0.68"/>
<rect x="368.1" y="64.2" width="0.9" height="0.9" fill="#e040f0" opacity="0.20"/>
<rect x="379.1" y="58.2" width="0.9" height="0.9" fill="#d630e6" opacity="0.41"/>
<rect x="369.9" y="68.2" width="0.9" height="0.9" fill="#b848c8" opacity="0.33"/>
<rect x="375.2" y="67.5" width="0.9" height="0.9" fill="#b848c8" opacity="0.66"/>
<rect x="368.3" y="65.0" width="0.9" height="0.9" fill="#e060f0" opacity="0.20"/>
<rect x="372.5" y="69.4" width="0.9" height="0.9" fill="#b848c8" opacity="0.50"/>
<rect x="383.9" y="62.9" width="0.9" height="0.9" fill="#c838d8" opacity="0.24"/>
<rect x="380.2" y="60.1" width="0.9" height="0.9" fill="#d630e6" opacity="0.46"/>
<rect x="375.1" y="67.2" width="0.9" height="0.9" fill="#d630e6" opacity="0.67"/>
<rect x="373.6" y="72.2" width="0.9" height="0.9" fill="#d630e6" opacity="0.40"/>
<rect x="377.9" y="58.0" width="0.9" height="0.9" fill="#e040f0" opacity="0.44"/>
<rect x="370.5" y="61.9" width="0.9" height="0.9" fill="#d630e6" opacity="0.38"/>
<rect x="367.2" y="71.4" width="0.9" height="0.9" fill="#e040f0" opacity="0.20"/>
<rect x="374.7" y="61.9" width="0.9" height="0.9" fill="#d630e6" opacity="0.63"/>
<rect x="376.4" y="62.9" width="0.9" height="0.9" fill="#e040f0" opacity="0.68"/>
<rect x="381.9" y="72.7" width="0.9" height="0.9" fill="#e040f0" opacity="0.20"/>
<rect x="379.6" y="68.3" width="0.9" height="0.9" fill="#e040f0" opacity="0.57"/>
<rect x="380.5" y="67.6" width="0.9" height="0.9" fill="#c838d8" opacity="0.54"/>
<rect x="376.0" y="71.0" width="0.9" height="0.9" fill="#e040f0" opacity="0.54"/>
<rect x="377.6" y="68.5" width="0.9" height="0.9" fill="#d630e6" opacity="0.64"/>
<rect x="383.0" y="75.9" width="0.9" height="0.9" fill="#d630e6" opacity="0.20"/>
<rect x="376.5" y="71.3" width="0.9" height="0.9" fill="#d630e6" opacity="0.52"/>
<rect x="370.3" y="61.1" width="0.9" height="0.9" fill="#d630e6" opacity="0.33"/>
<rect x="378.0" y="61.7" width="0.9" height="0.9" fill="#d630e6" opacity="0.62"/>
<rect x="371.9" y="60.7" width="0.9" height="0.9" fill="#e040f0" opacity="0.45"/>
<rect x="378.3" y="57.5" width="0.9" height="0.9" fill="#e040f0" opacity="0.39"/>
<rect x="378.8" y="70.8" width="0.9" height="0.9" fill="#e060f0" opacity="0.50"/>
<rect x="367.9" y="67.6" width="0.9" height="0.9" fill="#c838d8" opacity="0.20"/>
<rect x="379.6" y="58.4" width="0.9" height="0.9" fill="#d630e6" opacity="0.40"/>
<rect x="378.4" y="63.1" width="0.9" height="0.9" fill="#b848c8" opacity="0.65"/>
<rect x="378.8" y="69.5" width="0.9" height="0.9" fill="#c838d8" opacity="0.57"/>
<rect x="378.4" y="50.7" width="0.9" height="0.9" fill="#c838d8" opacity="0.20"/>
<rect x="379.3" y="74.6" width="0.9" height="0.9" fill="#c838d8" opacity="0.21"/>
<rect x="374.6" y="57.7" width="0.9" height="0.9" fill="#e060f0" opacity="0.41"/>
<rect x="370.9" y="73.0" width="0.9" height="0.9" fill="#e060f0" opacity="0.20"/>
<rect x="378.8" y="61.6" width="0.9" height="0.9" fill="#c838d8" opacity="0.59"/>
<rect x="374.1" y="52.7" width="0.9" height="0.9" fill="#c838d8" opacity="0.20"/>
<rect x="371.7" y="57.2" width="0.9" height="0.9" fill="#d630e6" opacity="0.22"/>
<rect x="377.2" y="63.6" width="0.9" height="0.9" fill="#d630e6" opacity="0.68"/>
<rect x="380.2" y="66.2" width="0.9" height="0.9" fill="#c838d8" opacity="0.58"/>
<rect x="375.7" y="68.4" width="0.9" height="0.9" fill="#e040f0" opacity="0.65"/>
<rect x="382.5" y="63.0" width="0.9" height="0.9" fill="#c838d8" opacity="0.38"/>
<rect x="377.0" y="62.3" width="0.9" height="0.9" fill="#d630e6" opacity="0.66"/>
<rect x="372.8" y="60.1" width="0.9" height="0.9" fill="#d630e6" opacity="0.48"/>
<rect x="374.2" y="58.1" width="0.9" height="0.9" fill="#b848c8" opacity="0.42"/>
<rect x="375.3" y="63.0" width="0.9" height="0.9" fill="#d630e6" opacity="0.67"/>
<rect x="377.7" y="70.2" width="0.9" height="0.9" fill="#c838d8" opacity="0.57"/>
<rect x="384.8" y="62.6" width="0.9" height="0.9" fill="#e040f0" opacity="0.20"/>
<rect x="375.8" y="68.0" width="0.9" height="0.9" fill="#c838d8" opacity="0.66"/>
<rect x="373.8" y="70.9" width="0.9" height="0.9" fill="#c838d8" opacity="0.49"/>
<rect x="379.4" y="65.1" width="0.9" height="0.9" fill="#b848c8" opacity="0.63"/>
<rect x="381.5" y="61.4" width="0.9" height="0.9" fill="#e060f0" opacity="0.43"/>
<rect x="375.3" y="62.7" width="0.9" height="0.9" fill="#e040f0" opacity="0.66"/>
<rect x="375.4" y="57.8" width="0.9" height="0.9" fill="#e040f0" opacity="0.43"/>
<rect x="375.9" y="70.2" width="0.9" height="0.9" fill="#b848c8" opacity="0.58"/>
<rect x="378.6" y="70.6" width="0.9" height="0.9" fill="#b848c8" opacity="0.52"/>
<rect x="378.5" y="69.8" width="0.9" height="0.9" fill="#d630e6" opacity="0.56"/>
<rect x="372.2" y="63.1" width="0.9" height="0.9" fill="#e040f0" opacity="0.54"/>
<rect x="369.2" y="78.1" width="0.9" height="0.9" fill="#e060f0" opacity="0.20"/>
<rect x="385.3" y="64.7" width="0.9" height="0.9" fill="#e060f0" opacity="0.20"/>
<rect x="374.4" y="67.9" width="0.9" height="0.9" fill="#c838d8" opacity="0.63"/>
<rect x="372.6" y="71.9" width="0.9" height="0.9" fill="#d630e6" opacity="0.37"/>
<rect x="386.2" y="56.3" width="0.9" height="0.9" fill="#e040f0" opacity="0.20"/>
<rect x="373.5" y="71.5" width="0.9" height="0.9" fill="#c838d8" opacity="0.44"/>
<rect x="382.2" y="69.1" width="0.9" height="0.9" fill="#d630e6" opacity="0.37"/>
<rect x="377.5" y="64.5" width="0.9" height="0.9" fill="#e060f0" opacity="0.69"/>
<rect x="377.0" y="62.0" width="0.9" height="0.9" fill="#d630e6" opacity="0.65"/>
<rect x="374.7" y="62.5" width="0.9" height="0.9" fill="#d630e6" opacity="0.64"/>
<rect x="383.0" y="54.7" width="0.9" height="0.9" fill="#b848c8" opacity="0.20"/>
<rect x="380.5" y="57.0" width="0.9" height="0.9" fill="#e040f0" opacity="0.24"/>
<rect x="370.2" y="53.7" width="0.9" height="0.9" fill="#e040f0" opacity="0.20"/>
<rect x="372.6" y="67.5" width="0.9" height="0.9" fill="#e060f0" opacity="0.56"/>
<rect x="374.5" y="65.1" width="0.9" height="0.9" fill="#e060f0" opacity="0.67"/>
<rect x="372.4" y="65.9" width="0.9" height="0.9" fill="#e040f0" opacity="0.57"/>
<rect x="369.8" y="66.5" width="0.9" height="0.9" fill="#b848c8" opacity="0.35"/>
<rect x="374.4" y="58.8" width="0.9" height="0.9" fill="#d630e6" opacity="0.47"/>
<rect x="381.5" y="73.7" width="0.9" height="0.9" fill="#e060f0" opacity="0.20"/>
<rect x="374.1" y="72.5" width="0.9" height="0.9" fill="#b848c8" opacity="0.40"/>
<rect x="378.0" y="70.9" width="0.9" height="0.9" fill="#e060f0" opacity="0.52"/>
<rect x="379.7" y="66.1" width="0.9" height="0.9" fill="#e040f0" opacity="0.61"/>
<rect x="374.4" y="72.7" width="0.9" height="0.9" fill="#d630e6" opacity="0.40"/>
<rect x="373.4" y="65.1" width="0.9" height="0.9" fill="#e040f0" opacity="0.63"/>
<rect x="379.3" y="55.1" width="0.9" height="0.9" fill="#b848c8" opacity="0.20"/>
<rect x="379.2" y="62.8" width="0.9" height="0.9" fill="#e040f0" opacity="0.61"/>
<rect x="375.3" y="67.9" width="0.9" height="0.9" fill="#d630e6" opacity="0.66"/>
<rect x="376.7" y="66.3" width="0.9" height="0.9" fill="#e060f0" opacity="0.69"/>
<rect x="373.7" y="60.8" width="0.9" height="0.9" fill="#e040f0" opacity="0.55"/>
<rect x="375.2" y="63.1" width="0.9" height="0.9" fill="#c838d8" opacity="0.67"/>
<rect x="372.4" y="72.2" width="0.9" height="0.9" fill="#b848c8" opacity="0.34"/>
<rect x="383.5" y="56.9" width="0.9" height="0.9" fill="#e060f0" opacity="0.20"/>
<rect x="374.8" y="70.1" width="0.9" height="0.9" fill="#b848c8" opacity="0.57"/>
<rect x="366.4" y="70.3" width="0.9" height="0.9" fill="#b848c8" opacity="0.20"/>
<rect x="376.7" y="69.1" width="0.9" height="0.9" fill="#c838d8" opacity="0.63"/>
<rect x="380.6" y="72.2" width="0.9" height="0.9" fill="#d630e6" opacity="0.33"/>
<rect x="370.7" y="68.7" width="0.9" height="0.9" fill="#d630e6" opacity="0.39"/>
<rect x="377.0" y="68.7" width="0.9" height="0.9" fill="#e040f0" opacity="0.64"/>
<rect x="370.4" y="60.2" width="0.9" height="0.9" fill="#d630e6" opacity="0.30"/>
<rect x="379.5" y="71.1" width="0.9" height="0.9" fill="#e040f0" opacity="0.46"/>
<rect x="383.5" y="56.3" width="0.9" height="0.9" fill="#b848c8" opacity="0.20"/>
<rect x="381.9" y="63.5" width="0.9" height="0.9" fill="#c838d8" opacity="0.45"/>
<rect x="375.3" y="63.3" width="0.9" height="0.9" fill="#e040f0" opacity="0.67"/>
<rect x="379.1" y="71.1" width="0.9" height="0.9" fill="#e060f0" opacity="0.48"/>
<rect x="372.8" y="68.5" width="0.9" height="0.9" fill="#b848c8" opacity="0.55"/>
<rect x="377.1" y="61.2" width="0.9" height="0.9" fill="#e040f0" opacity="0.62"/>
<rect x="380.2" y="60.3" width="0.9" height="0.9" fill="#e040f0" opacity="0.47"/>
<rect x="374.4" y="64.8" width="0.9" height="0.9" fill="#e040f0" opacity="0.67"/>
<rect x="376.8" y="60.8" width="0.9" height="0.9" fill="#c838d8" opacity="0.60"/>
<rect x="374.5" y="71.4" width="0.9" height="0.9" fill="#c838d8" opacity="0.49"/>
<rect x="377.0" y="66.9" width="0.9" height="0.9" fill="#e040f0" opacity="0.68"/>
<rect x="376.3" y="70.3" width="0.9" height="0.9" fill="#e040f0" opacity="0.58"/>
<rect x="381.6" y="64.6" width="0.9" height="0.9" fill="#d630e6" opacity="0.49"/>
<rect x="379.9" y="60.8" width="0.9" height="0.9" fill="#e040f0" opacity="0.51"/>
<rect x="376.4" y="59.0" width="0.9" height="0.9" fill="#e060f0" opacity="0.51"/>
<rect x="372.7" y="72.2" width="0.9" height="0.9" fill="#c838d8" opacity="0.36"/>
<rect x="377.6" y="66.7" width="0.9" height="0.9" fill="#c838d8" opacity="0.68"/>
<rect x="367.5" y="66.4" width="0.9" height="0.9" fill="#e060f0" opacity="0.20"/>
<rect x="370.2" y="61.7" width="0.9" height="0.9" fill="#c838d8" opacity="0.35"/>
<rect x="373.3" y="63.2" width="0.9" height="0.9" fill="#b848c8" opacity="0.61"/>
<rect x="384.1" y="74.4" width="0.9" height="0.9" fill="#c838d8" opacity="0.20"/>
<rect x="368.9" y="63.2" width="0.9" height="0.9" fill="#d630e6" opacity="0.25"/>
<rect x="373.0" y="66.0" width="0.9" height="0.9" fill="#b848c8" opacity="0.61"/>
<rect x="369.2" y="57.3" width="0.9" height="0.9" fill="#c838d8" opacity="0.20"/>
<rect x="376.1" y="61.0" width="0.9" height="0.9" fill="#d630e6" opacity="0.62"/>
<rect x="380.9" y="63.6" width="0.9" height="0.9" fill="#c838d8" opacity="0.53"/>
<rect x="377.3" y="62.6" width="0.9" height="0.9" fill="#d630e6" opacity="0.66"/>
<rect x="379.7" y="71.6" width="0.9" height="0.9" fill="#c838d8" opacity="0.42"/>
<rect x="376.0" y="62.4" width="0.9" height="0.9" fill="#b848c8" opacity="0.66"/>
<rect x="378.8" y="65.7" width="0.9" height="0.9" fill="#e040f0" opacity="0.65"/>
<rect x="380.5" y="65.6" width="0.9" height="0.9" fill="#e040f0" opacity="0.57"/>
<rect x="376.8" y="69.4" width="0.9" height="0.9" fill="#e040f0" opacity="0.61"/>
<rect x="372.9" y="58.4" width="0.9" height="0.9" fill="#e040f0" opacity="0.38"/>
<rect x="378.3" y="64.1" width="0.9" height="0.9" fill="#e060f0" opacity="0.67"/>
<rect x="378.9" y="69.5" width="0.9" height="0.9" fill="#d630e6" opacity="0.56"/>
<rect x="377.9" y="62.0" width="0.9" height="0.9" fill="#e040f0" opacity="0.63"/>
<rect x="383.0" y="52.7" width="0.9" height="0.9" fill="#c838d8" opacity="0.20"/>
<rect x="373.1" y="58.4" width="0.9" height="0.9" fill="#d630e6" opacity="0.40"/>
<rect x="384.8" y="63.2" width="0.9" height="0.9" fill="#b848c8" opacity="0.20"/>
<rect x="375.5" y="68.4" width="0.9" height="0.9" fill="#b848c8" opacity="0.64"/>
<rect x="381.6" y="70.4" width="0.9" height="0.9" fill="#c838d8" opacity="0.36"/>
<rect x="376.1" y="66.1" width="0.9" height="0.9" fill="#e060f0" opacity="0.70"/>
<rect x="371.8" y="66.6" width="0.9" height="0.9" fill="#b848c8" opacity="0.53"/>
<rect x="375.2" y="53.3" width="0.9" height="0.9" fill="#c838d8" opacity="0.20"/>
<rect x="377.3" y="64.5" width="0.9" height="0.9" fill="#d630e6" opacity="0.69"/>
<rect x="379.8" y="68.5" width="0.9" height="0.9" fill="#d630e6" opacity="0.56"/>
<rect x="376.8" y="64.2" width="0.9" height="0.9" fill="#d630e6" opacity="0.69"/>
<rect x="383.2" y="66.3" width="0.9" height="0.9" fill="#b848c8" opacity="0.33"/>
<rect x="380.8" y="67.5" width="0.9" height="0.9" fill="#e060f0" opacity="0.53"/>
<rect x="382.1" y="70.5" width="0.9" height="0.9" fill="#e060f0" opacity="0.31"/>
<rect x="371.6" y="68.2" width="0.9" height="0.9" fill="#e060f0" opacity="0.48"/>
<rect x="383.2" y="72.6" width="0.9" height="0.9" fill="#d630e6" opacity="0.20"/>
<rect x="375.0" y="74.2" width="0.9" height="0.9" fill="#c838d8" opacity="0.30"/>
<rect x="380.2" y="68.8" width="0.9" height="0.9" fill="#b848c8" opacity="0.52"/>
<rect x="373.6" y="67.6" width="0.9" height="0.9" fill="#e040f0" opacity="0.61"/>
<rect x="378.6" y="54.1" width="0.9" height="0.9" fill="#e060f0" opacity="0.20"/>
<rect x="374.3" y="57.1" width="0.9" height="0.9" fill="#c838d8" opacity="0.35"/>
<rect x="368.7" y="66.4" width="0.9" height="0.9" fill="#e060f0" opacity="0.24"/>
<rect x="380.2" y="65.2" width="0.9" height="0.9" fill="#e060f0" opacity="0.59"/>
<rect x="370.0" y="58.2" width="0.9" height="0.9" fill="#c838d8" opacity="0.20"/>
<rect x="380.1" y="64.2" width="0.9" height="0.9" fill="#b848c8" opacity="0.59"/>
<rect x="377.7" y="63.7" width="0.9" height="0.9" fill="#e060f0" opacity="0.68"/>
<rect x="377.1" y="61.7" width="0.9" height="0.9" fill="#c838d8" opacity="0.64"/>
<rect x="373.6" y="57.6" width="0.9" height="0.9" fill="#b848c8" opacity="0.36"/>
<rect x="376.6" y="64.9" width="0.9" height="0.9" fill="#d630e6" opacity="0.70"/>
<rect x="381.3" y="77.9" width="0.9" height="0.9" fill="#d630e6" opacity="0.20"/>
<rect x="371.3" y="72.5" width="0.9" height="0.9" fill="#e060f0" opacity="0.25"/>
<rect x="378.5" y="64.4" width="0.9" height="0.9" fill="#d630e6" opacity="0.66"/>
<rect x="372.5" y="67.9" width="0.9" height="0.9" fill="#c838d8" opacity="0.55"/>
<rect x="377.8" y="71.2" width="0.9" height="0.9" fill="#e040f0" opacity="0.51"/>
<rect x="382.3" y="73.9" width="0.9" height="0.9" fill="#d630e6" opacity="0.20"/>
<rect x="380.7" y="59.0" width="0.9" height="0.9" fill="#b848c8" opacity="0.37"/>
<rect x="378.9" y="59.1" width="0.9" height="0.9" fill="#e040f0" opacity="0.47"/>
<rect x="373.4" y="61.0" width="0.9" height="0.9" fill="#d630e6" opacity="0.55"/>
<rect x="371.4" y="60.7" width="0.9" height="0.9" fill="#e060f0" opacity="0.41"/>
<rect x="382.7" y="64.8" width="0.9" height="0.9" fill="#b848c8" opacity="0.39"/>
<rect x="383.3" y="66.0" width="0.9" height="0.9" fill="#d630e6" opacity="0.32"/>
<rect x="368.8" y="61.7" width="0.9" height="0.9" fill="#c838d8" opacity="0.20"/>
<rect x="383.5" y="71.3" width="0.9" height="0.9" fill="#d630e6" opacity="0.20"/>
<rect x="375.7" y="64.0" width="0.9" height="0.9" fill="#c838d8" opacity="0.69"/>
<rect x="381.7" y="68.0" width="0.9" height="0.9" fill="#e060f0" opacity="0.45"/>
<rect x="375.6" y="71.6" width="0.9" height="0.9" fill="#b848c8" opacity="0.50"/>
<rect x="376.7" y="59.8" width="0.9" height="0.9" fill="#d630e6" opacity="0.56"/>
<rect x="370.1" y="54.2" width="0.9" height="0.9" fill="#e040f0" opacity="0.20"/>
<rect x="386.5" y="66.5" width="0.9" height="0.9" fill="#e060f0" opacity="0.20"/>
<rect x="383.7" y="66.3" width="0.9" height="0.9" fill="#d630e6" opacity="0.28"/>
<rect x="377.0" y="66.5" width="0.9" height="0.9" fill="#d630e6" opacity="0.69"/>
<rect x="377.6" y="58.1" width="0.9" height="0.9" fill="#d630e6" opacity="0.45"/>
<rect x="376.3" y="70.7" width="0.9" height="0.9" fill="#c838d8" opacity="0.55"/>
<rect x="385.9" y="63.1" width="0.9" height="0.9" fill="#e040f0" opacity="0.20"/>
<rect x="378.3" y="69.2" width="0.9" height="0.9" fill="#b848c8" opacity="0.60"/>
<rect x="382.9" y="68.1" width="0.9" height="0.9" fill="#d630e6" opacity="0.34"/>
<rect x="375.2" y="74.8" width="0.9" height="0.9" fill="#d630e6" opacity="0.25"/>
<rect x="377.8" y="65.9" width="0.9" height="0.9" fill="#c838d8" opacity="0.68"/>
<rect x="388.9" y="57.2" width="0.9" height="0.9" fill="#e040f0" opacity="0.20"/>
<rect x="376.4" y="59.6" width="0.9" height="0.9" fill="#b848c8" opacity="0.55"/>
<rect x="383.0" y="60.4" width="0.9" height="0.9" fill="#b848c8" opacity="0.26"/>
<rect x="377.4" y="67.4" width="0.9" height="0.9" fill="#e060f0" opacity="0.67"/>
<rect x="375.2" y="65.0" width="0.9" height="0.9" fill="#e040f0" opacity="0.69"/>
<rect x="374.8" y="61.7" width="0.9" height="0.9" fill="#e040f0" opacity="0.62"/>
<rect x="372.9" y="66.5" width="0.9" height="0.9" fill="#e040f0" opacity="0.60"/>
<rect x="375.2" y="59.9" width="0.9" height="0.9" fill="#e060f0" opacity="0.56"/>
<rect x="374.6" y="77.0" width="0.9" height="0.9" fill="#e060f0" opacity="0.20"/>
<rect x="371.2" y="62.4" width="0.9" height="0.9" fill="#c838d8" opacity="0.46"/>
<rect x="374.2" y="65.1" width="0.9" height="0.9" fill="#c838d8" opacity="0.66"/>
<rect x="379.8" y="61.5" width="0.9" height="0.9" fill="#d630e6" opacity="0.54"/>
<rect x="377.7" y="67.9" width="0.9" height="0.9" fill="#e040f0" opacity="0.65"/>
<rect x="383.5" y="62.3" width="0.9" height="0.9" fill="#e060f0" opacity="0.27"/>
<rect x="373.5" y="69.1" width="0.9" height="0.9" fill="#b848c8" opacity="0.56"/>
<rect x="376.3" y="62.2" width="0.9" height="0.9" fill="#d630e6" opacity="0.66"/>
<rect x="375.3" y="72.6" width="0.9" height="0.9" fill="#d630e6" opacity="0.43"/>
<rect x="369.7" y="64.2" width="0.9" height="0.9" fill="#c838d8" opacity="0.34"/>
<rect x="383.7" y="67.2" width="0.9" height="0.9" fill="#e060f0" opacity="0.27"/>
<rect x="373.2" y="62.0" width="0.9" height="0.9" fill="#e060f0" opacity="0.57"/>
<rect x="380.8" y="67.8" width="0.9" height="0.9" fill="#e040f0" opacity="0.52"/>
<rect x="374.7" y="62.1" width="0.9" height="0.9" fill="#e040f0" opacity="0.63"/>
<rect x="371.0" y="58.1" width="0.9" height="0.9" fill="#b848c8" opacity="0.24"/>
<rect x="378.1" y="68.0" width="0.9" height="0.9" fill="#c838d8" opacity="0.64"/>
<rect x="374.4" y="69.1" width="0.9" height="0.9" fill="#e060f0" opacity="0.59"/>
<rect x="373.6" y="67.3" width="0.9" height="0.9" fill="#e060f0" opacity="0.62"/>
<rect x="367.8" y="69.8" width="0.9" height="0.9" fill="#e040f0" opacity="0.20"/>
<rect x="384.4" y="69.9" width="0.9" height="0.9" fill="#e040f0" opacity="0.20"/>
<rect x="376.3" y="67.9" width="0.9" height="0.9" fill="#e040f0" opacity="0.67"/>
<rect x="376.7" y="66.0" width="0.9" height="0.9" fill="#e060f0" opacity="0.70"/>
<rect x="376.3" y="67.9" width="0.9" height="0.9" fill="#d630e6" opacity="0.66"/>
<rect x="375.1" y="65.0" width="0.9" height="0.9" fill="#b848c8" opacity="0.69"/>
<rect x="374.4" y="69.3" width="0.9" height="0.9" fill="#c838d8" opacity="0.59"/>
<rect x="382.2" y="69.5" width="0.9" height="0.9" fill="#e040f0" opacity="0.35"/>
<rect x="378.6" y="72.9" width="0.9" height="0.9" fill="#d630e6" opacity="0.38"/>
<rect x="373.0" y="76.7" width="0.9" height="0.9" fill="#c838d8" opacity="0.20"/>
<rect x="368.1" y="69.2" width="0.9" height="0.9" fill="#b848c8" opacity="0.20"/>
<rect x="377.1" y="67.4" width="0.9" height="0.9" fill="#e060f0" opacity="0.67"/>
<rect x="369.9" y="71.7" width="0.9" height="0.9" fill="#e040f0" opacity="0.20"/>
<rect x="377.6" y="65.9" width="0.9" height="0.9" fill="#b848c8" opacity="0.69"/>
<rect x="381.0" y="66.1" width="0.9" height="0.9" fill="#c838d8" opacity="0.53"/>
<rect x="376.9" y="70.1" width="0.9" height="0.9" fill="#c838d8" opacity="0.58"/>
<rect x="376.2" y="67.3" width="0.9" height="0.9" fill="#e040f0" opacity="0.68"/>
<rect x="374.9" y="62.2" width="0.9" height="0.9" fill="#c838d8" opacity="0.64"/>
<rect x="376.6" y="62.0" width="0.9" height="0.9" fill="#e040f0" opacity="0.65"/>
<rect x="377.6" y="63.9" width="0.9" height="0.9" fill="#e060f0" opacity="0.68"/>
<rect x="374.1" y="64.7" width="0.9" height="0.9" fill="#d630e6" opacity="0.66"/>
<rect x="371.2" y="69.2" width="0.9" height="0.9" fill="#d630e6" opacity="0.42"/>
<rect x="379.1" y="52.7" width="0.9" height="0.9" fill="#e040f0" opacity="0.20"/>
<rect x="376.6" y="62.9" width="0.9" height="0.9" fill="#b848c8" opacity="0.67"/>
<rect x="378.9" y="76.6" width="0.9" height="0.9" fill="#c838d8" opacity="0.20"/>
<rect x="374.6" y="64.7" width="0.9" height="0.9" fill="#d630e6" opacity="0.67"/>
<rect x="372.9" y="67.1" width="0.9" height="0.9" fill="#c838d8" opacity="0.59"/>
<rect x="379.5" y="66.7" width="0.9" height="0.9" fill="#b848c8" opacity="0.61"/>
<rect x="376.9" y="59.5" width="0.9" height="0.9" fill="#d630e6" opacity="0.54"/>
<rect x="376.2" y="60.2" width="0.9" height="0.9" fill="#d630e6" opacity="0.58"/>
<rect x="374.9" y="73.7" width="0.9" height="0.9" fill="#c838d8" opacity="0.34"/>
<rect x="376.8" y="61.2" width="0.9" height="0.9" fill="#e040f0" opacity="0.62"/>
<rect x="371.9" y="57.0" width="0.9" height="0.9" fill="#c838d8" opacity="0.22"/>
<rect x="374.4" y="76.5" width="0.9" height="0.9" fill="#c838d8" opacity="0.20"/>
<rect x="375.4" y="64.1" width="0.9" height="0.9" fill="#c838d8" opacity="0.69"/>
<rect x="372.0" y="62.8" width="0.9" height="0.9" fill="#c838d8" opacity="0.53"/>
<rect x="380.6" y="70.7" width="0.9" height="0.9" fill="#c838d8" opacity="0.42"/>
<rect x="375.7" y="60.9" width="0.9" height="0.9" fill="#b848c8" opacity="0.61"/>
<rect x="379.4" y="77.7" width="0.9" height="0.9" fill="#c838d8" opacity="0.20"/>
<rect x="388.7" y="72.9" width="0.9" height="0.9" fill="#e060f0" opacity="0.20"/>
<rect x="376.6" y="69.0" width="0.9" height="0.9" fill="#e060f0" opacity="0.63"/>
<rect x="374.9" y="61.0" width="0.9" height="0.9" fill="#c838d8" opacity="0.60"/>
<rect x="373.7" y="65.4" width="0.9" height="0.9" fill="#d630e6" opacity="0.64"/>
<rect x="379.3" y="73.2" width="0.9" height="0.9" fill="#e040f0" opacity="0.33"/>
<rect x="382.0" y="67.8" width="0.9" height="0.9" fill="#d630e6" opacity="0.42"/>
<rect x="367.0" y="73.4" width="0.9" height="0.9" fill="#e060f0" opacity="0.20"/>
<rect x="378.5" y="61.6" width="0.9" height="0.9" fill="#b848c8" opacity="0.60"/>
<rect x="382.1" y="60.6" width="0.9" height="0.9" fill="#e040f0" opacity="0.35"/>
<rect x="375.2" y="65.4" width="0.9" height="0.9" fill="#d630e6" opacity="0.69"/>
<rect x="376.4" y="64.9" width="0.9" height="0.9" fill="#e040f0" opacity="0.70"/>
<rect x="367.8" y="57.7" width="0.9" height="0.9" fill="#e040f0" opacity="0.20"/>
<rect x="376.0" y="69.3" width="0.9" height="0.9" fill="#c838d8" opacity="0.62"/>
<rect x="376.3" y="58.9" width="0.9" height="0.9" fill="#c838d8" opacity="0.51"/>
<rect x="371.1" y="58.8" width="0.9" height="0.9" fill="#b848c8" opacity="0.29"/>
<rect x="381.2" y="59.8" width="0.9" height="0.9" fill="#c838d8" opacity="0.38"/>
<rect x="379.7" y="58.8" width="0.9" height="0.9" fill="#e060f0" opacity="0.42"/>
<rect x="372.1" y="61.7" width="0.9" height="0.9" fill="#e060f0" opacity="0.50"/>
<rect x="382.0" y="61.4" width="0.9" height="0.9" fill="#c838d8" opacity="0.39"/>
<rect x="375.6" y="61.9" width="0.9" height="0.9" fill="#e040f0" opacity="0.64"/>
<rect x="374.2" y="70.5" width="0.9" height="0.9" fill="#e040f0" opacity="0.53"/>
<rect x="373.7" y="64.0" width="0.9" height="0.9" fill="#b848c8" opacity="0.64"/>
<rect x="371.1" y="61.3" width="0.9" height="0.9" fill="#c838d8" opacity="0.41"/>
<rect x="376.9" y="73.2" width="0.9" height="0.9" fill="#d630e6" opacity="0.39"/>
<rect x="384.2" y="58.5" width="0.9" height="0.9" fill="#c838d8" opacity="0.20"/>
<rect x="375.4" y="55.1" width="0.9" height="0.9" fill="#e040f0" opacity="0.20"/>
<rect x="375.0" y="65.4" width="0.9" height="0.9" fill="#c838d8" opacity="0.68"/>
<rect x="379.1" y="67.9" width="0.9" height="0.9" fill="#e040f0" opacity="0.61"/>
<rect x="372.0" y="58.5" width="0.9" height="0.9" fill="#b848c8" opacity="0.34"/>
<rect x="370.0" y="74.1" width="0.9" height="0.9" fill="#d630e6" opacity="0.20"/>
<rect x="370.9" y="70.5" width="0.9" height="0.9" fill="#b848c8" opacity="0.33"/>
<rect x="377.6" y="70.3" width="0.9" height="0.9" fill="#e060f0" opacity="0.57"/>
<rect x="369.3" y="67.5" width="0.9" height="0.9" fill="#c838d8" opacity="0.29"/>
<rect x="378.2" y="65.2" width="0.9" height="0.9" fill="#e060f0" opacity="0.68"/>
<rect x="378.4" y="58.9" width="0.9" height="0.9" fill="#e060f0" opacity="0.48"/>
<rect x="382.6" y="59.1" width="0.9" height="0.9" fill="#e040f0" opacity="0.22"/>
<rect x="375.8" y="70.0" width="0.9" height="0.9" fill="#c838d8" opacity="0.59"/>
<rect x="378.7" y="73.8" width="0.9" height="0.9" fill="#c838d8" opacity="0.30"/>
<rect x="376.3" y="59.1" width="0.9" height="0.9" fill="#e040f0" opacity="0.52"/>
<rect x="378.0" y="68.0" width="0.9" height="0.9" fill="#d630e6" opacity="0.64"/>
<rect x="369.3" y="70.2" width="0.9" height="0.9" fill="#d630e6" opacity="0.20"/>
<rect x="381.8" y="60.6" width="0.9" height="0.9" fill="#d630e6" opacity="0.38"/>
<rect x="380.4" y="65.6" width="0.9" height="0.9" fill="#c838d8" opacity="0.58"/>
<rect x="380.6" y="62.3" width="0.9" height="0.9" fill="#d630e6" opacity="0.52"/>
<rect x="380.0" y="68.9" width="0.9" height="0.9" fill="#d630e6" opacity="0.53"/>
<rect x="376.7" y="63.5" width="0.9" height="0.9" fill="#e040f0" opacity="0.68"/>
<rect x="375.7" y="69.1" width="0.9" height="0.9" fill="#c838d8" opacity="0.62"/>
<rect x="382.7" y="64.4" width="0.9" height="0.9" fill="#d630e6" opacity="0.39"/>
<rect x="380.2" y="65.7" width="0.9" height="0.9" fill="#b848c8" opacity="0.58"/>
<rect x="384.7" y="71.9" width="0.9" height="0.9" fill="#d630e6" opacity="0.20"/>
<rect x="379.8" y="67.6" width="0.9" height="0.9" fill="#e060f0" opacity="0.58"/>
<rect x="374.1" y="56.4" width="0.9" height="0.9" fill="#d630e6" opacity="0.29"/>
<rect x="380.0" y="61.2" width="0.9" height="0.9" fill="#e040f0" opacity="0.52"/>
<rect x="373.5" y="71.0" width="0.9" height="0.9" fill="#e060f0" opacity="0.47"/>
<rect x="377.7" y="59.3" width="0.9" height="0.9" fill="#e060f0" opacity="0.52"/>
<rect x="381.5" y="63.6" width="0.9" height="0.9" fill="#c838d8" opacity="0.48"/>
<rect x="380.7" y="59.1" width="0.9" height="0.9" fill="#e060f0" opacity="0.38"/>
<rect x="370.0" y="61.9" width="0.9" height="0.9" fill="#e060f0" opacity="0.33"/>
<rect x="379.9" y="54.0" width="0.9" height="0.9" fill="#c838d8" opacity="0.20"/>
<rect x="371.6" y="70.6" width="0.9" height="0.9" fill="#b848c8" opacity="0.39"/>
<rect x="387.3" y="63.9" width="0.9" height="0.9" fill="#e060f0" opacity="0.20"/>
<rect x="372.3" y="62.7" width="0.9" height="0.9" fill="#c838d8" opacity="0.54"/>
<rect x="373.0" y="73.7" width="0.9" height="0.9" fill="#c838d8" opacity="0.27"/>
<rect x="379.6" y="60.2" width="0.9" height="0.9" fill="#c838d8" opacity="0.50"/>
<rect x="380.1" y="53.2" width="0.9" height="0.9" fill="#c838d8" opacity="0.20"/>
<rect x="376.6" y="65.3" width="0.9" height="0.9" fill="#b848c8" opacity="0.70"/>
<rect x="375.4" y="60.0" width="0.9" height="0.9" fill="#d630e6" opacity="0.56"/>
<rect x="373.7" y="54.8" width="0.9" height="0.9" fill="#b848c8" opacity="0.20"/>
<rect x="378.4" y="59.7" width="0.9" height="0.9" fill="#b848c8" opacity="0.53"/>
<rect x="378.9" y="69.9" width="0.9" height="0.9" fill="#b848c8" opacity="0.55"/>
<rect x="373.4" y="58.5" width="0.9" height="0.9" fill="#d630e6" opacity="0.42"/>
<rect x="376.7" y="69.0" width="0.9" height="0.9" fill="#e060f0" opacity="0.63"/>
<rect x="370.6" y="64.9" width="0.9" height="0.9" fill="#e060f0" opacity="0.43"/>
<rect x="371.9" y="73.4" width="0.9" height="0.9" fill="#e060f0" opacity="0.23"/>
<rect x="378.1" y="56.2" width="0.9" height="0.9" fill="#d630e6" opacity="0.29"/>
<rect x="373.9" y="65.5" width="0.9" height="0.9" fill="#e040f0" opacity="0.65"/>
<rect x="374.2" y="65.6" width="0.9" height="0.9" fill="#e040f0" opacity="0.66"/>
<rect x="378.1" y="66.3" width="0.9" height="0.9" fill="#e040f0" opacity="0.67"/>
<rect x="374.5" y="73.2" width="0.9" height="0.9" fill="#c838d8" opacity="0.37"/>
<rect x="380.3" y="63.5" width="0.9" height="0.9" fill="#b848c8" opacity="0.57"/>
<rect x="375.8" y="61.5" width="0.9" height="0.9" fill="#c838d8" opacity="0.63"/>
<rect x="370.1" y="63.3" width="0.9" height="0.9" fill="#d630e6" opacity="0.38"/>
<rect x="376.6" y="63.1" width="0.9" height="0.9" fill="#b848c8" opacity="0.68"/>
<rect x="368.6" y="69.8" width="0.9" height="0.9" fill="#d630e6" opacity="0.20"/>
<rect x="368.3" y="68.3" width="0.9" height="0.9" fill="#e060f0" opacity="0.20"/>
<rect x="379.5" y="64.6" width="0.9" height="0.9" fill="#b848c8" opacity="0.62"/>
<rect x="376.3" y="69.7" width="0.9" height="0.9" fill="#b848c8" opacity="0.60"/>
<rect x="376.1" y="64.8" width="0.9" height="0.9" fill="#e060f0" opacity="0.70"/>
<rect x="380.2" y="64.9" width="0.9" height="0.9" fill="#d630e6" opacity="0.59"/>
<rect x="385.1" y="58.9" width="0.9" height="0.9" fill="#e040f0" opacity="0.20"/>
<rect x="374.6" y="63.6" width="0.9" height="0.9" fill="#e060f0" opacity="0.66"/>
<rect x="377.1" y="61.4" width="0.9" height="0.9" fill="#d630e6" opacity="0.63"/>
<rect x="384.7" y="68.7" width="0.9" height="0.9" fill="#e040f0" opacity="0.20"/>
<rect x="368.2" y="65.0" width="0.9" height="0.9" fill="#b848c8" opacity="0.20"/>
<rect x="379.4" y="71.8" width="0.9" height="0.9" fill="#c838d8" opacity="0.43"/>
<rect x="378.2" y="60.8" width="0.9" height="0.9" fill="#b848c8" opacity="0.58"/>
<rect x="379.9" y="57.8" width="0.9" height="0.9" fill="#c838d8" opacity="0.34"/>
<rect x="376.8" y="58.5" width="0.9" height="0.9" fill="#d630e6" opacity="0.48"/>
<rect x="382.3" y="69.1" width="0.9" height="0.9" fill="#e040f0" opacity="0.36"/>
<rect x="385.8" y="63.5" width="0.9" height="0.9" fill="#b848c8" opacity="0.20"/>
<rect x="375.9" y="62.5" width="0.9" height="0.9" fill="#d630e6" opacity="0.66"/>
<rect x="381.4" y="59.1" width="0.9" height="0.9" fill="#e040f0" opacity="0.33"/>
<rect x="379.5" y="63.2" width="0.9" height="0.9" fill="#c838d8" opacity="0.61"/>
<rect x="379.5" y="66.5" width="0.9" height="0.9" fill="#e060f0" opacity="0.61"/>
<rect x="372.9" y="62.7" width="0.9" height="0.9" fill="#e040f0" opacity="0.58"/>
<rect x="368.7" y="60.0" width="0.9" height="0.9" fill="#e060f0" opacity="0.20"/>
<rect x="373.8" y="70.8" width="0.9" height="0.9" fill="#d630e6" opacity="0.50"/>
<rect x="374.5" y="66.6" width="0.9" height="0.9" fill="#e060f0" opacity="0.66"/>
<rect x="375.3" y="57.9" width="0.9" height="0.9" fill="#e040f0" opacity="0.44"/>
<rect x="378.9" y="75.8" width="0.9" height="0.9" fill="#c838d8" opacity="0.20"/>
<rect x="379.1" y="72.0" width="0.9" height="0.9" fill="#c838d8" opacity="0.43"/>
<rect x="379.0" y="70.6" width="0.9" height="0.9" fill="#c838d8" opacity="0.51"/>
<rect x="385.4" y="55.9" width="0.9" height="0.9" fill="#b848c8" opacity="0.20"/>
<rect x="373.4" y="56.8" width="0.9" height="0.9" fill="#e040f0" opacity="0.30"/>
<rect x="376.5" y="63.1" width="0.9" height="0.9" fill="#e060f0" opacity="0.68"/>
<rect x="373.1" y="67.8" width="0.9" height="0.9" fill="#b848c8" opacity="0.58"/>
<rect x="384.5" y="72.8" width="0.9" height="0.9" fill="#b848c8" opacity="0.20"/>
<rect x="384.2" y="65.9" width="0.9" height="0.9" fill="#d630e6" opacity="0.23"/>
<rect x="378.4" y="73.3" width="0.9" height="0.9" fill="#e040f0" opacity="0.36"/>
<rect x="380.7" y="70.7" width="0.9" height="0.9" fill="#b848c8" opacity="0.41"/>
<rect x="375.0" y="62.9" width="0.9" height="0.9" fill="#e060f0" opacity="0.66"/>
<rect x="373.5" y="72.3" width="0.9" height="0.9" fill="#b848c8" opacity="0.40"/>
<rect x="372.7" y="66.3" width="0.9" height="0.9" fill="#e040f0" opacity="0.59"/>
<rect x="377.6" y="64.7" width="0.9" height="0.9" fill="#e040f0" opacity="0.69"/>
<rect x="375.2" y="67.6" width="0.9" height="0.9" fill="#d630e6" opacity="0.66"/>
<rect x="373.3" y="66.0" width="0.9" height="0.9" fill="#b848c8" opacity="0.62"/>
<rect x="382.2" y="62.2" width="0.9" height="0.9" fill="#d630e6" opacity="0.40"/>
<rect x="381.5" y="72.2" width="0.9" height="0.9" fill="#b848c8" opacity="0.26"/>
<rect x="384.4" y="60.4" width="0.9" height="0.9" fill="#c838d8" opacity="0.20"/>
<rect x="383.9" y="71.0" width="0.9" height="0.9" fill="#d630e6" opacity="0.20"/>
<rect x="382.8" y="70.7" width="0.9" height="0.9" fill="#d630e6" opacity="0.23"/>
<rect x="375.9" y="70.6" width="0.9" height="0.9" fill="#e040f0" opacity="0.56"/>
<rect x="377.3" y="62.7" width="0.9" height="0.9" fill="#b848c8" opacity="0.66"/>
<rect x="374.0" y="62.8" width="0.9" height="0.9" fill="#d630e6" opacity="0.63"/>
<rect x="375.8" y="56.4" width="0.9" height="0.9" fill="#b848c8" opacity="0.33"/>
<rect x="378.0" y="57.6" width="0.9" height="0.9" fill="#e040f0" opacity="0.40"/>
<rect x="379.2" y="73.1" width="0.9" height="0.9" fill="#b848c8" opacity="0.34"/>
<rect x="381.8" y="74.3" width="0.9" height="0.9" fill="#e060f0" opacity="0.20"/>
<rect x="383.3" y="78.5" width="0.9" height="0.9" fill="#e040f0" opacity="0.20"/>
<rect x="376.1" y="60.6" width="0.9" height="0.9" fill="#b848c8" opacity="0.60"/>
<rect x="375.8" y="59.8" width="0.9" height="0.9" fill="#e040f0" opacity="0.56"/>
<rect x="382.4" y="52.3" width="0.9" height="0.9" fill="#e040f0" opacity="0.20"/>
<rect x="376.6" y="70.6" width="0.9" height="0.9" fill="#e040f0" opacity="0.56"/>
<rect x="379.2" y="70.2" width="0.9" height="0.9" fill="#e060f0" opacity="0.52"/>
<rect x="371.9" y="62.9" width="0.9" height="0.9" fill="#d630e6" opacity="0.52"/>
<rect x="375.9" y="68.0" width="0.9" height="0.9" fill="#e060f0" opacity="0.66"/>
<rect x="379.1" y="73.7" width="0.9" height="0.9" fill="#e040f0" opacity="0.30"/>
<rect x="371.1" y="67.0" width="0.9" height="0.9" fill="#b848c8" opacity="0.47"/>
<rect x="386.3" y="72.6" width="0.9" height="0.9" fill="#c838d8" opacity="0.20"/>
<rect x="377.6" y="70.2" width="0.9" height="0.9" fill="#b848c8" opacity="0.57"/>
<rect x="375.6" y="72.9" width="0.9" height="0.9" fill="#c838d8" opacity="0.41"/>
<rect x="374.2" y="70.0" width="0.9" height="0.9" fill="#e040f0" opacity="0.55"/>
<rect x="377.6" y="61.2" width="0.9" height="0.9" fill="#e060f0" opacity="0.61"/>
<rect x="377.4" y="65.0" width="0.9" height="0.9" fill="#e040f0" opacity="0.69"/>
<rect x="373.6" y="66.3" width="0.9" height="0.9" fill="#b848c8" opacity="0.64"/>
<rect x="372.8" y="71.7" width="0.9" height="0.9" fill="#e060f0" opacity="0.40"/>
<rect x="378.8" y="71.0" width="0.9" height="0.9" fill="#d630e6" opacity="0.49"/>
<rect x="379.6" y="67.0" width="0.9" height="0.9" fill="#d630e6" opacity="0.61"/>
<rect x="370.6" y="63.8" width="0.9" height="0.9" fill="#d630e6" opacity="0.43"/>
<rect x="376.7" y="62.7" width="0.9" height="0.9" fill="#c838d8" opacity="0.67"/>
<rect x="376.2" y="63.4" width="0.9" height="0.9" fill="#e040f0" opacity="0.68"/>
<rect x="374.5" y="60.6" width="0.9" height="0.9" fill="#e040f0" opacity="0.57"/>
<rect x="374.5" y="59.4" width="0.9" height="0.9" fill="#b848c8" opacity="0.51"/>
<rect x="381.0" y="67.0" width="0.9" height="0.9" fill="#c838d8" opacity="0.52"/>
<rect x="378.7" y="69.9" width="0.9" height="0.9" fill="#e040f0" opacity="0.55"/>
<rect x="375.0" y="71.4" width="0.9" height="0.9" fill="#b848c8" opacity="0.50"/>
<rect x="368.9" y="62.0" width="0.9" height="0.9" fill="#e040f0" opacity="0.22"/>
<rect x="376.7" y="74.8" width="0.9" height="0.9" fill="#e040f0" opacity="0.26"/>
<rect x="381.4" y="70.1" width="0.9" height="0.9" fill="#b848c8" opacity="0.39"/>
<rect x="379.9" y="62.5" width="0.9" height="0.9" fill="#e040f0" opacity="0.57"/>
<rect x="375.9" y="61.9" width="0.9" height="0.9" fill="#e040f0" opacity="0.65"/>
<rect x="376.9" y="58.7" width="0.9" height="0.9" fill="#b848c8" opacity="0.50"/>
<rect x="375.2" y="62.7" width="0.9" height="0.9" fill="#d630e6" opacity="0.66"/>
<rect x="378.6" y="62.1" width="0.9" height="0.9" fill="#e060f0" opacity="0.62"/>
<rect x="378.1" y="68.1" width="0.9" height="0.9" fill="#b848c8" opacity="0.64"/>
<rect x="378.7" y="69.8" width="0.9" height="0.9" fill="#e040f0" opacity="0.56"/>
<rect x="372.6" y="66.0" width="0.9" height="0.9" fill="#c838d8" opacity="0.59"/>
<rect x="375.9" y="71.3" width="0.9" height="0.9" fill="#e060f0" opacity="0.52"/>
<rect x="374.6" y="67.1" width="0.9" height="0.9" fill="#b848c8" opacity="0.66"/>
<rect x="370.9" y="63.7" width="0.9" height="0.9" fill="#d630e6" opacity="0.45"/>
<rect x="373.5" y="65.2" width="0.9" height="0.9" fill="#e060f0" opacity="0.63"/>
<rect x="373.9" y="65.1" width="0.9" height="0.9" fill="#d630e6" opacity="0.65"/>
<rect x="377.5" y="59.9" width="0.9" height="0.9" fill="#e060f0" opacity="0.56"/>
<rect x="379.7" y="62.1" width="0.9" height="0.9" fill="#d630e6" opacity="0.57"/>
<rect x="385.3" y="71.6" width="0.9" height="0.9" fill="#d630e6" opacity="0.20"/>
<rect x="379.3" y="66.0" width="0.9" height="0.9" fill="#b848c8" opacity="0.63"/>
<rect x="382.3" y="67.1" width="0.9" height="0.9" fill="#e060f0" opacity="0.41"/>
<rect x="369.6" y="69.1" width="0.9" height="0.9" fill="#e040f0" opacity="0.27"/>
<rect x="377.7" y="52.2" width="0.9" height="0.9" fill="#c838d8" opacity="0.20"/>
<rect x="369.1" y="72.7" width="0.9" height="0.9" fill="#e060f0" opacity="0.20"/>
<rect x="378.0" y="61.5" width="0.9" height="0.9" fill="#e040f0" opacity="0.62"/>
<rect x="368.9" y="59.6" width="0.9" height="0.9" fill="#e040f0" opacity="0.20"/>
<rect x="383.1" y="52.9" width="0.9" height="0.9" fill="#b848c8" opacity="0.20"/>
<rect x="378.8" y="78.5" width="0.9" height="0.9" fill="#c838d8" opacity="0.20"/>
<rect x="377.1" y="60.3" width="0.9" height="0.9" fill="#e060f0" opacity="0.58"/>
<rect x="378.8" y="68.8" width="0.9" height="0.9" fill="#e040f0" opacity="0.60"/>
<rect x="378.1" y="64.3" width="0.9" height="0.9" fill="#e040f0" opacity="0.67"/>
<rect x="369.8" y="68.2" width="0.9" height="0.9" fill="#e040f0" opacity="0.32"/>
<rect x="379.7" y="67.6" width="0.9" height="0.9" fill="#e040f0" opacity="0.59"/>
<rect x="378.7" y="66.2" width="0.9" height="0.9" fill="#e060f0" opacity="0.66"/>
<rect x="374.1" y="66.9" width="0.9" height="0.9" fill="#c838d8" opacity="0.65"/>
<rect x="371.5" y="55.5" width="0.9" height="0.9" fill="#b848c8" opacity="0.20"/>
<rect x="376.5" y="73.0" width="0.9" height="0.9" fill="#e060f0" opacity="0.41"/>
<rect x="372.4" y="62.8" width="0.9" height="0.9" fill="#c838d8" opacity="0.55"/>
<rect x="374.2" y="57.6" width="0.9" height="0.9" fill="#c838d8" opacity="0.38"/>
<rect x="370.4" y="65.8" width="0.9" height="0.9" fill="#e040f0" opacity="0.42"/>
<rect x="374.5" y="64.1" width="0.9" height="0.9" fill="#e040f0" opacity="0.67"/>
<rect x="372.4" y="72.8" width="0.9" height="0.9" fill="#e060f0" opacity="0.30"/>
<rect x="386.1" y="60.9" width="0.9" height="0.9" fill="#d630e6" opacity="0.20"/>
<rect x="370.0" y="72.2" width="0.9" height="0.9" fill="#e040f0" opacity="0.20"/>
<rect x="382.6" y="76.4" width="0.9" height="0.9" fill="#e040f0" opacity="0.20"/>
<rect x="372.7" y="64.9" width="0.9" height="0.9" fill="#b848c8" opacity="0.59"/>
<rect x="368.1" y="67.6" width="0.9" height="0.9" fill="#c838d8" opacity="0.20"/>
<rect x="370.8" y="55.6" width="0.9" height="0.9" fill="#d630e6" opacity="0.20"/>
<rect x="379.6" y="67.6" width="0.9" height="0.9" fill="#b848c8" opacity="0.59"/>
<rect x="367.7" y="60.9" width="0.9" height="0.9" fill="#c838d8" opacity="0.20"/>
<rect x="387.1" y="51.9" width="0.9" height="0.9" fill="#e040f0" opacity="0.20"/>
<rect x="374.3" y="76.2" width="0.9" height="0.9" fill="#e060f0" opacity="0.20"/>
<rect x="384.1" y="66.2" width="0.9" height="0.9" fill="#e060f0" opacity="0.24"/>
<rect x="373.1" y="67.3" width="0.9" height="0.9" fill="#e060f0" opacity="0.60"/>
<rect x="373.7" y="67.2" width="0.9" height="0.9" fill="#b848c8" opacity="0.62"/>
<rect x="381.0" y="65.7" width="0.9" height="0.9" fill="#e060f0" opacity="0.53"/>
<rect x="381.5" y="72.3" width="0.9" height="0.9" fill="#e060f0" opacity="0.25"/>
<rect x="372.7" y="63.8" width="0.9" height="0.9" fill="#c838d8" opacity="0.59"/>
<rect x="372.1" y="67.3" width="0.9" height="0.9" fill="#e060f0" opacity="0.54"/>
<rect x="368.8" y="59.7" width="0.9" height="0.9" fill="#b848c8" opacity="0.20"/>
<rect x="366.8" y="67.8" width="0.9" height="0.9" fill="#e040f0" opacity="0.20"/>
<rect x="372.4" y="72.2" width="0.9" height="0.9" fill="#e060f0" opacity="0.35"/>
<rect x="379.7" y="67.8" width="0.9" height="0.9" fill="#b848c8" opacity="0.58"/>
<rect x="373.0" y="56.4" width="0.9" height="0.9" fill="#b848c8" opacity="0.24"/>
<rect x="371.7" y="65.3" width="0.9" height="0.9" fill="#e040f0" opacity="0.53"/>
<rect x="376.0" y="64.2" width="0.9" height="0.9" fill="#b848c8" opacity="0.69"/>
<rect x="376.5" y="73.1" width="0.9" height="0.9" fill="#e040f0" opacity="0.40"/>
<rect x="381.6" y="58.5" width="0.9" height="0.9" fill="#e040f0" opacity="0.28"/>
<rect x="379.3" y="60.3" width="0.9" height="0.9" fill="#d630e6" opacity="0.52"/>
<rect x="377.4" y="66.4" width="0.9" height="0.9" fill="#c838d8" opacity="0.68"/>
<rect x="380.4" y="69.6" width="0.9" height="0.9" fill="#e060f0" opacity="0.49"/>
<rect x="371.3" y="64.6" width="0.9" height="0.9" fill="#d630e6" opacity="0.50"/>
<rect x="378.2" y="64.1" width="0.9" height="0.9" fill="#e060f0" opacity="0.67"/>
<rect x="383.2" y="57.5" width="0.9" height="0.9" fill="#d630e6" opacity="0.20"/>
<rect x="378.7" y="66.2" width="0.9" height="0.9" fill="#c838d8" opacity="0.65"/>
<rect x="374.3" y="64.5" width="0.9" height="0.9" fill="#e060f0" opacity="0.66"/>
<rect x="375.2" y="66.8" width="0.9" height="0.9" fill="#c838d8" opacity="0.68"/>
<rect x="373.9" y="63.3" width="0.9" height="0.9" fill="#c838d8" opacity="0.63"/>
<rect x="387.4" y="62.6" width="0.9" height="0.9" fill="#e060f0" opacity="0.20"/>
<rect x="378.8" y="71.1" width="0.9" height="0.9" fill="#e040f0" opacity="0.49"/>
<rect x="372.5" y="69.6" width="0.9" height="0.9" fill="#e060f0" opacity="0.49"/>
<rect x="373.7" y="51.2" width="0.9" height="0.9" fill="#b848c8" opacity="0.20"/>
<rect x="375.8" y="69.1" width="0.9" height="0.9" fill="#b848c8" opacity="0.62"/>
<rect x="384.1" y="68.8" width="0.9" height="0.9" fill="#d630e6" opacity="0.20"/>
<rect x="381.0" y="68.7" width="0.9" height="0.9" fill="#d630e6" opacity="0.48"/>
<rect x="376.4" y="71.0" width="0.9" height="0.9" fill="#e060f0" opacity="0.54"/>
<rect x="374.8" y="66.8" width="0.9" height="0.9" fill="#c838d8" opacity="0.67"/>
<rect x="373.3" y="63.7" width="0.9" height="0.9" fill="#b848c8" opacity="0.61"/>
<rect x="378.0" y="54.7" width="0.9" height="0.9" fill="#e060f0" opacity="0.20"/>
<rect x="373.6" y="59.8" width="0.9" height="0.9" fill="#e060f0" opacity="0.50"/>
<rect x="376.0" y="75.9" width="0.9" height="0.9" fill="#b848c8" opacity="0.20"/>
<rect x="372.4" y="64.1" width="0.9" height="0.9" fill="#c838d8" opacity="0.57"/>
<rect x="374.9" y="60.9" width="0.9" height="0.9" fill="#e040f0" opacity="0.59"/>
<rect x="373.0" y="70.3" width="0.9" height="0.9" fill="#b848c8" opacity="0.49"/>
<rect x="375.3" y="61.0" width="0.9" height="0.9" fill="#d630e6" opacity="0.61"/>
<rect x="371.1" y="60.4" width="0.9" height="0.9" fill="#e040f0" opacity="0.37"/>
<rect x="380.2" y="59.8" width="0.9" height="0.9" fill="#c838d8" opacity="0.45"/>
<rect x="367.8" y="59.9" width="0.9" height="0.9" fill="#e060f0" opacity="0.20"/>
<rect x="376.4" y="67.1" width="0.9" height="0.9" fill="#c838d8" opacity="0.68"/>
<rect x="376.2" y="69.5" width="0.9" height="0.9" fill="#b848c8" opacity="0.61"/>
<rect x="370.7" y="59.5" width="0.9" height="0.9" fill="#b848c8" opacity="0.29"/>
<rect x="374.7" y="65.3" width="0.9" height="0.9" fill="#e040f0" opacity="0.68"/>
<rect x="367.1" y="64.0" width="0.9" height="0.9" fill="#c838d8" opacity="0.20"/>
<rect x="369.1" y="70.0" width="0.9" height="0.9" fill="#e040f0" opacity="0.20"/>
<rect x="377.3" y="74.2" width="0.9" height="0.9" fill="#b848c8" opacity="0.30"/>
<rect x="384.7" y="67.6" width="0.9" height="0.9" fill="#b848c8" opacity="0.20"/>
<rect x="374.8" y="58.9" width="0.9" height="0.9" fill="#e060f0" opacity="0.49"/>
<rect x="373.4" y="70.5" width="0.9" height="0.9" fill="#e040f0" opacity="0.49"/>
<rect x="377.7" y="65.1" width="0.9" height="0.9" fill="#c838d8" opacity="0.69"/>
<rect x="370.1" y="63.4" width="0.9" height="0.9" fill="#d630e6" opacity="0.38"/>
<rect x="383.7" y="63.4" width="0.9" height="0.9" fill="#e040f0" opacity="0.27"/>
<rect x="381.7" y="51.6" width="0.9" height="0.9" fill="#d630e6" opacity="0.20"/>
<rect x="382.2" y="59.2" width="0.9" height="0.9" fill="#b848c8" opacity="0.27"/>
<rect x="370.0" y="62.8" width="0.9" height="0.9" fill="#c838d8" opacity="0.35"/>
<rect x="372.5" y="73.8" width="0.9" height="0.9" fill="#e060f0" opacity="0.23"/>
<rect x="374.8" y="63.6" width="0.9" height="0.9" fill="#e060f0" opacity="0.67"/>
<rect x="373.1" y="69.1" width="0.9" height="0.9" fill="#e060f0" opacity="0.54"/>
<rect x="381.3" y="69.8" width="0.9" height="0.9" fill="#c838d8" opacity="0.41"/>
<rect x="369.5" y="63.4" width="0.9" height="0.9" fill="#c838d8" opacity="0.31"/>
<rect x="378.4" y="53.8" width="0.9" height="0.9" fill="#b848c8" opacity="0.20"/>
<rect x="375.5" y="70.0" width="0.9" height="0.9" fill="#d630e6" opacity="0.58"/>
<rect x="382.5" y="67.5" width="0.9" height="0.9" fill="#c838d8" opacity="0.38"/>
<rect x="379.7" y="69.6" width="0.9" height="0.9" fill="#b848c8" opacity="0.52"/>
<rect x="377.6" y="54.4" width="0.9" height="0.9" fill="#b848c8" opacity="0.20"/>
<rect x="384.1" y="68.7" width="0.9" height="0.9" fill="#c838d8" opacity="0.20"/>
<rect x="375.7" y="60.3" width="0.9" height="0.9" fill="#e060f0" opacity="0.58"/>
<rect x="386.2" y="66.8" width="0.9" height="0.9" fill="#d630e6" opacity="0.20"/>
<rect x="380.1" y="62.7" width="0.9" height="0.9" fill="#c838d8" opacity="0.57"/>
<rect x="377.2" y="64.8" width="0.9" height="0.9" fill="#c838d8" opacity="0.69"/>
<rect x="380.8" y="54.4" width="0.9" height="0.9" fill="#e060f0" opacity="0.20"/>
<rect x="383.9" y="64.8" width="0.9" height="0.9" fill="#b848c8" opacity="0.27"/>
<rect x="379.4" y="70.3" width="0.9" height="0.9" fill="#b848c8" opacity="0.51"/>
<rect x="373.8" y="69.3" width="0.9" height="0.9" fill="#b848c8" opacity="0.56"/>
<rect x="371.1" y="66.1" width="0.9" height="0.9" fill="#c838d8" opacity="0.47"/>
<rect x="372.6" y="70.6" width="0.9" height="0.9" fill="#d630e6" opacity="0.45"/>
<rect x="382.4" y="58.2" width="0.9" height="0.9" fill="#c838d8" opacity="0.20"/>
<rect x="377.4" y="60.7" width="0.9" height="0.9" fill="#e060f0" opacity="0.60"/>
<rect x="369.9" y="64.4" width="0.9" height="0.9" fill="#d630e6" opacity="0.37"/>
<rect x="380.5" y="71.2" width="0.9" height="0.9" fill="#c838d8" opacity="0.40"/>
<rect x="373.7" y="63.3" width="0.9" height="0.9" fill="#b848c8" opacity="0.63"/>
<rect x="382.4" y="64.6" width="0.9" height="0.9" fill="#d630e6" opacity="0.42"/>
<rect x="383.9" y="75.3" width="0.9" height="0.9" fill="#c838d8" opacity="0.20"/>
<rect x="378.5" y="60.4" width="0.9" height="0.9" fill="#c838d8" opacity="0.56"/>
<rect x="374.7" y="69.3" width="0.9" height="0.9" fill="#c838d8" opacity="0.60"/>
<rect x="375.1" y="65.3" width="0.9" height="0.9" fill="#e060f0" opacity="0.69"/>
<rect x="378.1" y="56.3" width="0.9" height="0.9" fill="#e040f0" opacity="0.30"/>
<rect x="374.2" y="62.7" width="0.9" height="0.9" fill="#e060f0" opacity="0.63"/>
<rect x="372.3" y="66.2" width="0.9" height="0.9" fill="#d630e6" opacity="0.57"/>
<rect x="374.4" y="62.4" width="0.9" height="0.9" fill="#d630e6" opacity="0.63"/>
<rect x="382.3" y="73.0" width="0.9" height="0.9" fill="#e040f0" opacity="0.20"/>
<rect x="375.1" y="61.8" width="0.9" height="0.9" fill="#e040f0" opacity="0.63"/>
<rect x="369.3" y="54.7" width="0.9" height="0.9" fill="#d630e6" opacity="0.20"/>
<rect x="382.8" y="65.0" width="0.9" height="0.9" fill="#e040f0" opacity="0.38"/>
<rect x="372.4" y="57.3" width="0.9" height="0.9" fill="#e040f0" opacity="0.28"/>
<rect x="381.4" y="63.1" width="0.9" height="0.9" fill="#c838d8" opacity="0.49"/>
<rect x="378.7" y="70.0" width="0.9" height="0.9" fill="#e040f0" opacity="0.55"/>
<rect x="372.5" y="56.9" width="0.9" height="0.9" fill="#e040f0" opacity="0.26"/>
<rect x="375.5" y="67.6" width="0.9" height="0.9" fill="#d630e6" opacity="0.67"/>
<rect x="375.0" y="64.1" width="0.9" height="0.9" fill="#e060f0" opacity="0.68"/>
<rect x="377.8" y="59.5" width="0.9" height="0.9" fill="#c838d8" opacity="0.53"/>
<rect x="379.1" y="70.2" width="0.9" height="0.9" fill="#d630e6" opacity="0.53"/>
<rect x="371.2" y="60.2" width="0.9" height="0.9" fill="#d630e6" opacity="0.37"/>
<rect x="374.3" y="61.2" width="0.9" height="0.9" fill="#e040f0" opacity="0.59"/>
<rect x="374.8" y="70.7" width="0.9" height="0.9" fill="#b848c8" opacity="0.53"/>
<rect x="370.0" y="66.9" width="0.9" height="0.9" fill="#b848c8" opacity="0.37"/>
<rect x="374.3" y="60.8" width="0.9" height="0.9" fill="#d630e6" opacity="0.57"/>
<rect x="369.9" y="53.2" width="0.9" height="0.9" fill="#e040f0" opacity="0.20"/>
<rect x="376.4" y="72.6" width="0.9" height="0.9" fill="#e060f0" opacity="0.44"/>
<rect x="372.1" y="68.7" width="0.9" height="0.9" fill="#e040f0" opacity="0.50"/>
<rect x="370.7" y="67.3" width="0.9" height="0.9" fill="#d630e6" opacity="0.42"/>
<rect x="374.8" y="62.7" width="0.9" height="0.9" fill="#e060f0" opacity="0.65"/>
<rect x="369.8" y="61.8" width="0.9" height="0.9" fill="#e060f0" opacity="0.31"/>
<rect x="374.1" y="72.1" width="0.9" height="0.9" fill="#e060f0" opacity="0.43"/>
<rect x="378.9" y="67.2" width="0.9" height="0.9" fill="#d630e6" opacity="0.63"/>
<rect x="373.3" y="66.1" width="0.9" height="0.9" fill="#e040f0" opacity="0.62"/>
<rect x="379.4" y="72.2" width="0.9" height="0.9" fill="#b848c8" opacity="0.39"/>
<rect x="380.1" y="75.2" width="0.9" height="0.9" fill="#e040f0" opacity="0.20"/>
<rect x="375.2" y="59.7" width="0.9" height="0.9" fill="#c838d8" opacity="0.54"/>
<rect x="381.7" y="74.8" width="0.9" height="0.9" fill="#d630e6" opacity="0.20"/>
<rect x="380.1" y="65.0" width="0.9" height="0.9" fill="#d630e6" opacity="0.59"/>
<rect x="376.7" y="63.1" width="0.9" height="0.9" fill="#d630e6" opacity="0.68"/>
<rect x="366.4" y="48.7" width="32.400000000000034" height="31.099999999999994" fill="none" stroke="#111" stroke-width="1"/>
<rect x="396.8" y="48.7" width="3" height="31.099999999999994" fill="#111"/>
<text x="383.1" y="89.3" font-size="6.2" text-anchor="middle" font-weight="normal" fill="#111" style="letter-spacing:-0.2px">Ly-6G</text>
<line x1="307.5" y1="108.7" x2="310.2" y2="108.7" stroke="#111" stroke-width="0.95"/>
<line x1="308.5" y1="102.6" x2="310.2" y2="102.6" stroke="#111" stroke-width="0.95"/>
<line x1="308.5" y1="99.0" x2="310.2" y2="99.0" stroke="#111" stroke-width="0.95"/>
<line x1="308.5" y1="96.4" x2="310.2" y2="96.4" stroke="#111" stroke-width="0.95"/>
<line x1="308.5" y1="94.4" x2="310.2" y2="94.4" stroke="#111" stroke-width="0.95"/>
<line x1="308.5" y1="92.8" x2="310.2" y2="92.8" stroke="#111" stroke-width="0.95"/>
<line x1="308.5" y1="91.5" x2="310.2" y2="91.5" stroke="#111" stroke-width="0.95"/>
<line x1="308.5" y1="90.3" x2="310.2" y2="90.3" stroke="#111" stroke-width="0.95"/>
<line x1="308.5" y1="89.2" x2="310.2" y2="89.2" stroke="#111" stroke-width="0.95"/>
<line x1="307.5" y1="88.3" x2="310.2" y2="88.3" stroke="#111" stroke-width="0.95"/>
<line x1="308.5" y1="82.2" x2="310.2" y2="82.2" stroke="#111" stroke-width="0.95"/>
<line x1="308.5" y1="78.6" x2="310.2" y2="78.6" stroke="#111" stroke-width="0.95"/>
<line x1="308.5" y1="76.0" x2="310.2" y2="76.0" stroke="#111" stroke-width="0.95"/>
<line x1="308.5" y1="74.0" x2="310.2" y2="74.0" stroke="#111" stroke-width="0.95"/>
<line x1="308.5" y1="72.4" x2="310.2" y2="72.4" stroke="#111" stroke-width="0.95"/>
<line x1="308.5" y1="71.1" x2="310.2" y2="71.1" stroke="#111" stroke-width="0.95"/>
<line x1="308.5" y1="69.9" x2="310.2" y2="69.9" stroke="#111" stroke-width="0.95"/>
<line x1="308.5" y1="68.8" x2="310.2" y2="68.8" stroke="#111" stroke-width="0.95"/>
<line x1="307.5" y1="67.9" x2="310.2" y2="67.9" stroke="#111" stroke-width="0.95"/>
<line x1="308.5" y1="61.8" x2="310.2" y2="61.8" stroke="#111" stroke-width="0.95"/>
<line x1="308.5" y1="58.2" x2="310.2" y2="58.2" stroke="#111" stroke-width="0.95"/>
<line x1="308.5" y1="55.6" x2="310.2" y2="55.6" stroke="#111" stroke-width="0.95"/>
<line x1="308.5" y1="53.6" x2="310.2" y2="53.6" stroke="#111" stroke-width="0.95"/>
<line x1="308.5" y1="52.0" x2="310.2" y2="52.0" stroke="#111" stroke-width="0.95"/>
<line x1="308.5" y1="50.7" x2="310.2" y2="50.7" stroke="#111" stroke-width="0.95"/>
<line x1="308.5" y1="49.5" x2="310.2" y2="49.5" stroke="#111" stroke-width="0.95"/>
<line x1="308.5" y1="48.4" x2="310.2" y2="48.4" stroke="#111" stroke-width="0.95"/>
<line x1="307.5" y1="47.5" x2="310.2" y2="47.5" stroke="#111" stroke-width="0.95"/>
<line x1="308.5" y1="41.4" x2="310.2" y2="41.4" stroke="#111" stroke-width="0.95"/>
<line x1="323.7" y1="120.2" x2="323.7" y2="122.9" stroke="#111" stroke-width="0.95"/>
<line x1="330.4" y1="120.2" x2="330.4" y2="121.9" stroke="#111" stroke-width="0.95"/>
<line x1="334.2" y1="120.2" x2="334.2" y2="121.9" stroke="#111" stroke-width="0.95"/>
<line x1="337.0" y1="120.2" x2="337.0" y2="121.9" stroke="#111" stroke-width="0.95"/>
<line x1="339.1" y1="120.2" x2="339.1" y2="121.9" stroke="#111" stroke-width="0.95"/>
<line x1="340.9" y1="120.2" x2="340.9" y2="121.9" stroke="#111" stroke-width="0.95"/>
<line x1="342.4" y1="120.2" x2="342.4" y2="121.9" stroke="#111" stroke-width="0.95"/>
<line x1="343.7" y1="120.2" x2="343.7" y2="121.9" stroke="#111" stroke-width="0.95"/>
<line x1="344.8" y1="120.2" x2="344.8" y2="121.9" stroke="#111" stroke-width="0.95"/>
<line x1="345.8" y1="120.2" x2="345.8" y2="122.9" stroke="#111" stroke-width="0.95"/>
<line x1="352.5" y1="120.2" x2="352.5" y2="121.9" stroke="#111" stroke-width="0.95"/>
<line x1="356.3" y1="120.2" x2="356.3" y2="121.9" stroke="#111" stroke-width="0.95"/>
<line x1="359.1" y1="120.2" x2="359.1" y2="121.9" stroke="#111" stroke-width="0.95"/>
<line x1="361.2" y1="120.2" x2="361.2" y2="121.9" stroke="#111" stroke-width="0.95"/>
<line x1="363.0" y1="120.2" x2="363.0" y2="121.9" stroke="#111" stroke-width="0.95"/>
<line x1="364.5" y1="120.2" x2="364.5" y2="121.9" stroke="#111" stroke-width="0.95"/>
<line x1="365.8" y1="120.2" x2="365.8" y2="121.9" stroke="#111" stroke-width="0.95"/>
<line x1="366.9" y1="120.2" x2="366.9" y2="121.9" stroke="#111" stroke-width="0.95"/>
<line x1="367.9" y1="120.2" x2="367.9" y2="122.9" stroke="#111" stroke-width="0.95"/>
<line x1="374.6" y1="120.2" x2="374.6" y2="121.9" stroke="#111" stroke-width="0.95"/>
<line x1="378.4" y1="120.2" x2="378.4" y2="121.9" stroke="#111" stroke-width="0.95"/>
<line x1="381.2" y1="120.2" x2="381.2" y2="121.9" stroke="#111" stroke-width="0.95"/>
<line x1="383.3" y1="120.2" x2="383.3" y2="121.9" stroke="#111" stroke-width="0.95"/>
<line x1="385.1" y1="120.2" x2="385.1" y2="121.9" stroke="#111" stroke-width="0.95"/>
<line x1="386.6" y1="120.2" x2="386.6" y2="121.9" stroke="#111" stroke-width="0.95"/>
<line x1="387.9" y1="120.2" x2="387.9" y2="121.9" stroke="#111" stroke-width="0.95"/>
<line x1="389.0" y1="120.2" x2="389.0" y2="121.9" stroke="#111" stroke-width="0.95"/>
<line x1="390.0" y1="120.2" x2="390.0" y2="122.9" stroke="#111" stroke-width="0.95"/>
<line x1="396.7" y1="120.2" x2="396.7" y2="121.9" stroke="#111" stroke-width="0.95"/>
<text x="305.59999999999997" y="111.5" font-size="8" text-anchor="end" font-weight="normal" fill="#111" >10<tspan font-size="5.6" dy="-3">2</tspan></text>
<text x="325.2" y="133.2" font-size="8" text-anchor="middle" font-weight="normal" fill="#111" >10<tspan font-size="5.6" dy="-3">2</tspan></text>
<text x="305.59999999999997" y="91.10000000000001" font-size="8" text-anchor="end" font-weight="normal" fill="#111" >10<tspan font-size="5.6" dy="-3">3</tspan></text>
<text x="347.3" y="133.2" font-size="8" text-anchor="middle" font-weight="normal" fill="#111" >10<tspan font-size="5.6" dy="-3">3</tspan></text>
<text x="305.59999999999997" y="70.7" font-size="8" text-anchor="end" font-weight="normal" fill="#111" >10<tspan font-size="5.6" dy="-3">4</tspan></text>
<text x="369.4" y="133.2" font-size="8" text-anchor="middle" font-weight="normal" fill="#111" >10<tspan font-size="5.6" dy="-3">4</tspan></text>
<text x="305.59999999999997" y="50.300000000000004" font-size="8" text-anchor="end" font-weight="normal" fill="#111" >10<tspan font-size="5.6" dy="-3">5</tspan></text>
<text x="391.5" y="133.2" font-size="8" text-anchor="middle" font-weight="normal" fill="#111" >10<tspan font-size="5.6" dy="-3">5</tspan></text>
<rect x="428.7" y="38.6" width="89.09999999999997" height="82.6" fill="#fff" stroke="#111" stroke-width="1"/>
<rect x="448.9" y="70.4" width="0.9" height="0.9" fill="#e28ae2" opacity="0.20"/>
<rect x="453.4" y="68.6" width="0.9" height="0.9" fill="#e28ae2" opacity="0.23"/>
<rect x="447.7" y="72.2" width="0.9" height="0.9" fill="#e070e0" opacity="0.20"/>
<rect x="454.6" y="72.7" width="0.9" height="0.9" fill="#e28ae2" opacity="0.15"/>
<rect x="450.0" y="72.4" width="0.9" height="0.9" fill="#e28ae2" opacity="0.21"/>
<rect x="446.8" y="64.2" width="0.9" height="0.9" fill="#a08aa8" opacity="0.13"/>
<rect x="454.4" y="64.6" width="0.9" height="0.9" fill="#e070e0" opacity="0.16"/>
<rect x="438.4" y="76.5" width="0.9" height="0.9" fill="#e070e0" opacity="0.26"/>
<rect x="443.9" y="66.6" width="0.9" height="0.9" fill="#e070e0" opacity="0.26"/>
<rect x="445.4" y="76.8" width="0.9" height="0.9" fill="#e070e0" opacity="0.25"/>
<rect x="444.8" y="70.2" width="0.9" height="0.9" fill="#e070e0" opacity="0.22"/>
<rect x="450.9" y="76.6" width="0.9" height="0.9" fill="#c040c8" opacity="0.27"/>
<rect x="453.1" y="66.8" width="0.9" height="0.9" fill="#c040c8" opacity="0.13"/>
<rect x="451.4" y="71.0" width="0.9" height="0.9" fill="#e070e0" opacity="0.23"/>
<rect x="443.5" y="68.5" width="0.9" height="0.9" fill="#a08aa8" opacity="0.27"/>
<rect x="447.9" y="58.3" width="0.9" height="0.9" fill="#c040c8" opacity="0.28"/>
<rect x="451.7" y="78.5" width="0.9" height="0.9" fill="#b070c0" opacity="0.20"/>
<rect x="446.6" y="68.7" width="0.9" height="0.9" fill="#9aa89a" opacity="0.21"/>
<rect x="447.3" y="67.3" width="0.9" height="0.9" fill="#b070c0" opacity="0.23"/>
<rect x="446.3" y="57.4" width="0.9" height="0.9" fill="#d24fd2" opacity="0.16"/>
<rect x="442.3" y="72.2" width="0.9" height="0.9" fill="#d24fd2" opacity="0.35"/>
<rect x="448.9" y="71.4" width="0.9" height="0.9" fill="#cc66cc" opacity="0.26"/>
<rect x="461.7" y="76.2" width="0.9" height="0.9" fill="#9aa89a" opacity="0.20"/>
<rect x="451.9" y="65.6" width="0.9" height="0.9" fill="#e070e0" opacity="0.30"/>
<rect x="444.7" y="66.2" width="0.9" height="0.9" fill="#cc66cc" opacity="0.25"/>
<rect x="459.5" y="79.0" width="0.9" height="0.9" fill="#d24fd2" opacity="0.35"/>
<rect x="447.6" y="60.2" width="0.9" height="0.9" fill="#cc66cc" opacity="0.13"/>
<rect x="452.4" y="67.7" width="0.9" height="0.9" fill="#e28ae2" opacity="0.22"/>
<rect x="453.0" y="68.0" width="0.9" height="0.9" fill="#cc66cc" opacity="0.28"/>
<rect x="459.7" y="76.3" width="0.9" height="0.9" fill="#c040c8" opacity="0.15"/>
<rect x="452.0" y="62.3" width="0.9" height="0.9" fill="#b070c0" opacity="0.26"/>
<rect x="461.7" y="60.1" width="0.9" height="0.9" fill="#9aa89a" opacity="0.31"/>
<rect x="457.4" y="74.4" width="0.9" height="0.9" fill="#9aa89a" opacity="0.20"/>
<rect x="455.4" y="78.8" width="0.9" height="0.9" fill="#e28ae2" opacity="0.19"/>
<rect x="454.7" y="73.1" width="0.9" height="0.9" fill="#b070c0" opacity="0.30"/>
<rect x="453.8" y="71.2" width="0.9" height="0.9" fill="#d24fd2" opacity="0.24"/>
<rect x="459.7" y="61.2" width="0.9" height="0.9" fill="#cc66cc" opacity="0.28"/>
<rect x="449.7" y="67.2" width="0.9" height="0.9" fill="#d24fd2" opacity="0.27"/>
<rect x="447.2" y="66.5" width="0.9" height="0.9" fill="#b070c0" opacity="0.28"/>
<rect x="461.4" y="71.1" width="0.9" height="0.9" fill="#cc66cc" opacity="0.31"/>
<rect x="451.1" y="71.2" width="0.9" height="0.9" fill="#d24fd2" opacity="0.26"/>
<rect x="446.3" y="75.0" width="0.9" height="0.9" fill="#e070e0" opacity="0.34"/>
<rect x="443.1" y="63.8" width="0.9" height="0.9" fill="#cc66cc" opacity="0.32"/>
<rect x="462.7" y="69.2" width="0.9" height="0.9" fill="#c040c8" opacity="0.22"/>
<rect x="460.0" y="71.6" width="0.9" height="0.9" fill="#a08aa8" opacity="0.30"/>
<rect x="452.2" y="72.2" width="0.9" height="0.9" fill="#c040c8" opacity="0.26"/>
<rect x="448.4" y="71.1" width="0.9" height="0.9" fill="#e28ae2" opacity="0.19"/>
<rect x="449.7" y="73.3" width="0.9" height="0.9" fill="#c040c8" opacity="0.34"/>
<rect x="443.6" y="64.4" width="0.9" height="0.9" fill="#e28ae2" opacity="0.27"/>
<rect x="442.4" y="71.6" width="0.9" height="0.9" fill="#c040c8" opacity="0.16"/>
<rect x="447.1" y="72.6" width="0.9" height="0.9" fill="#9aa89a" opacity="0.32"/>
<rect x="448.9" y="70.2" width="0.9" height="0.9" fill="#a08aa8" opacity="0.13"/>
<rect x="457.1" y="78.6" width="0.9" height="0.9" fill="#c040c8" opacity="0.19"/>
<rect x="471.7" y="71.4" width="0.9" height="0.9" fill="#b070c0" opacity="0.21"/>
<rect x="451.6" y="60.3" width="0.9" height="0.9" fill="#cc66cc" opacity="0.17"/>
<rect x="438.8" y="64.7" width="0.9" height="0.9" fill="#e070e0" opacity="0.19"/>
<rect x="455.7" y="74.2" width="0.9" height="0.9" fill="#e070e0" opacity="0.27"/>
<rect x="454.3" y="63.5" width="0.9" height="0.9" fill="#a08aa8" opacity="0.17"/>
<rect x="452.7" y="69.3" width="0.9" height="0.9" fill="#9aa89a" opacity="0.15"/>
<rect x="460.2" y="65.2" width="0.9" height="0.9" fill="#e28ae2" opacity="0.33"/>
<rect x="465.1" y="74.1" width="0.9" height="0.9" fill="#c040c8" opacity="0.33"/>
<rect x="447.0" y="67.5" width="0.9" height="0.9" fill="#9aa89a" opacity="0.23"/>
<rect x="450.5" y="74.0" width="0.9" height="0.9" fill="#e070e0" opacity="0.20"/>
<rect x="450.7" y="73.6" width="0.9" height="0.9" fill="#d24fd2" opacity="0.15"/>
<rect x="455.6" y="75.4" width="0.9" height="0.9" fill="#b070c0" opacity="0.19"/>
<rect x="450.1" y="66.4" width="0.9" height="0.9" fill="#c040c8" opacity="0.16"/>
<rect x="459.7" y="70.2" width="0.9" height="0.9" fill="#e070e0" opacity="0.23"/>
<rect x="445.6" y="74.9" width="0.9" height="0.9" fill="#d24fd2" opacity="0.20"/>
<rect x="449.6" y="71.7" width="0.9" height="0.9" fill="#a08aa8" opacity="0.28"/>
<rect x="435.4" y="58.2" width="0.9" height="0.9" fill="#d24fd2" opacity="0.17"/>
<rect x="453.6" y="76.7" width="0.9" height="0.9" fill="#e28ae2" opacity="0.16"/>
<rect x="449.0" y="70.8" width="0.9" height="0.9" fill="#d24fd2" opacity="0.19"/>
<rect x="455.9" y="67.6" width="0.9" height="0.9" fill="#c040c8" opacity="0.25"/>
<rect x="441.0" y="66.6" width="0.9" height="0.9" fill="#cc66cc" opacity="0.14"/>
<rect x="454.0" y="62.3" width="0.9" height="0.9" fill="#9aa89a" opacity="0.29"/>
<rect x="450.7" y="69.8" width="0.9" height="0.9" fill="#e070e0" opacity="0.19"/>
<rect x="455.1" y="72.2" width="0.9" height="0.9" fill="#cc66cc" opacity="0.25"/>
<rect x="454.4" y="67.7" width="0.9" height="0.9" fill="#cc66cc" opacity="0.34"/>
<rect x="446.9" y="73.1" width="0.9" height="0.9" fill="#9aa89a" opacity="0.33"/>
<rect x="454.7" y="67.5" width="0.9" height="0.9" fill="#a08aa8" opacity="0.20"/>
<rect x="443.8" y="68.1" width="0.9" height="0.9" fill="#b070c0" opacity="0.16"/>
<rect x="443.3" y="56.2" width="0.9" height="0.9" fill="#c040c8" opacity="0.33"/>
<rect x="442.5" y="70.2" width="0.9" height="0.9" fill="#cc66cc" opacity="0.15"/>
<rect x="456.5" y="62.6" width="0.9" height="0.9" fill="#b070c0" opacity="0.34"/>
<rect x="445.8" y="67.4" width="0.9" height="0.9" fill="#d24fd2" opacity="0.35"/>
<rect x="445.6" y="76.2" width="0.9" height="0.9" fill="#cc66cc" opacity="0.28"/>
<rect x="453.3" y="61.2" width="0.9" height="0.9" fill="#9aa89a" opacity="0.33"/>
<rect x="457.7" y="64.3" width="0.9" height="0.9" fill="#c040c8" opacity="0.32"/>
<rect x="451.0" y="70.8" width="0.9" height="0.9" fill="#cc66cc" opacity="0.13"/>
<rect x="451.9" y="64.1" width="0.9" height="0.9" fill="#9aa89a" opacity="0.21"/>
<rect x="485.3" y="47.8" width="32.49999999999994" height="31.60000000000001" fill="none" stroke="#111" stroke-width="1"/>
<rect x="515.8" y="47.8" width="3" height="31.60000000000001" fill="#111"/>
<text x="502.04999999999995" y="88.9" font-size="6.2" text-anchor="middle" font-weight="normal" fill="#111" style="letter-spacing:-0.2px">Ly-6G</text>
<line x1="426.0" y1="109.7" x2="428.7" y2="109.7" stroke="#111" stroke-width="0.95"/>
<line x1="427.0" y1="103.6" x2="428.7" y2="103.6" stroke="#111" stroke-width="0.95"/>
<line x1="427.0" y1="100.0" x2="428.7" y2="100.0" stroke="#111" stroke-width="0.95"/>
<line x1="427.0" y1="97.4" x2="428.7" y2="97.4" stroke="#111" stroke-width="0.95"/>
<line x1="427.0" y1="95.4" x2="428.7" y2="95.4" stroke="#111" stroke-width="0.95"/>
<line x1="427.0" y1="93.8" x2="428.7" y2="93.8" stroke="#111" stroke-width="0.95"/>
<line x1="427.0" y1="92.5" x2="428.7" y2="92.5" stroke="#111" stroke-width="0.95"/>
<line x1="427.0" y1="91.3" x2="428.7" y2="91.3" stroke="#111" stroke-width="0.95"/>
<line x1="427.0" y1="90.2" x2="428.7" y2="90.2" stroke="#111" stroke-width="0.95"/>
<line x1="426.0" y1="89.3" x2="428.7" y2="89.3" stroke="#111" stroke-width="0.95"/>
<line x1="427.0" y1="83.2" x2="428.7" y2="83.2" stroke="#111" stroke-width="0.95"/>
<line x1="427.0" y1="79.6" x2="428.7" y2="79.6" stroke="#111" stroke-width="0.95"/>
<line x1="427.0" y1="77.0" x2="428.7" y2="77.0" stroke="#111" stroke-width="0.95"/>
<line x1="427.0" y1="75.0" x2="428.7" y2="75.0" stroke="#111" stroke-width="0.95"/>
<line x1="427.0" y1="73.4" x2="428.7" y2="73.4" stroke="#111" stroke-width="0.95"/>
<line x1="427.0" y1="72.1" x2="428.7" y2="72.1" stroke="#111" stroke-width="0.95"/>
<line x1="427.0" y1="70.9" x2="428.7" y2="70.9" stroke="#111" stroke-width="0.95"/>
<line x1="427.0" y1="69.8" x2="428.7" y2="69.8" stroke="#111" stroke-width="0.95"/>
<line x1="426.0" y1="68.9" x2="428.7" y2="68.9" stroke="#111" stroke-width="0.95"/>
<line x1="427.0" y1="62.8" x2="428.7" y2="62.8" stroke="#111" stroke-width="0.95"/>
<line x1="427.0" y1="59.2" x2="428.7" y2="59.2" stroke="#111" stroke-width="0.95"/>
<line x1="427.0" y1="56.6" x2="428.7" y2="56.6" stroke="#111" stroke-width="0.95"/>
<line x1="427.0" y1="54.6" x2="428.7" y2="54.6" stroke="#111" stroke-width="0.95"/>
<line x1="427.0" y1="53.0" x2="428.7" y2="53.0" stroke="#111" stroke-width="0.95"/>
<line x1="427.0" y1="51.7" x2="428.7" y2="51.7" stroke="#111" stroke-width="0.95"/>
<line x1="427.0" y1="50.5" x2="428.7" y2="50.5" stroke="#111" stroke-width="0.95"/>
<line x1="427.0" y1="49.4" x2="428.7" y2="49.4" stroke="#111" stroke-width="0.95"/>
<line x1="426.0" y1="48.5" x2="428.7" y2="48.5" stroke="#111" stroke-width="0.95"/>
<line x1="427.0" y1="42.4" x2="428.7" y2="42.4" stroke="#111" stroke-width="0.95"/>
<line x1="442.2" y1="121.2" x2="442.2" y2="123.9" stroke="#111" stroke-width="0.95"/>
<line x1="448.9" y1="121.2" x2="448.9" y2="122.9" stroke="#111" stroke-width="0.95"/>
<line x1="452.7" y1="121.2" x2="452.7" y2="122.9" stroke="#111" stroke-width="0.95"/>
<line x1="455.5" y1="121.2" x2="455.5" y2="122.9" stroke="#111" stroke-width="0.95"/>
<line x1="457.6" y1="121.2" x2="457.6" y2="122.9" stroke="#111" stroke-width="0.95"/>
<line x1="459.4" y1="121.2" x2="459.4" y2="122.9" stroke="#111" stroke-width="0.95"/>
<line x1="460.9" y1="121.2" x2="460.9" y2="122.9" stroke="#111" stroke-width="0.95"/>
<line x1="462.2" y1="121.2" x2="462.2" y2="122.9" stroke="#111" stroke-width="0.95"/>
<line x1="463.3" y1="121.2" x2="463.3" y2="122.9" stroke="#111" stroke-width="0.95"/>
<line x1="464.3" y1="121.2" x2="464.3" y2="123.9" stroke="#111" stroke-width="0.95"/>
<line x1="471.0" y1="121.2" x2="471.0" y2="122.9" stroke="#111" stroke-width="0.95"/>
<line x1="474.8" y1="121.2" x2="474.8" y2="122.9" stroke="#111" stroke-width="0.95"/>
<line x1="477.6" y1="121.2" x2="477.6" y2="122.9" stroke="#111" stroke-width="0.95"/>
<line x1="479.7" y1="121.2" x2="479.7" y2="122.9" stroke="#111" stroke-width="0.95"/>
<line x1="481.5" y1="121.2" x2="481.5" y2="122.9" stroke="#111" stroke-width="0.95"/>
<line x1="483.0" y1="121.2" x2="483.0" y2="122.9" stroke="#111" stroke-width="0.95"/>
<line x1="484.3" y1="121.2" x2="484.3" y2="122.9" stroke="#111" stroke-width="0.95"/>
<line x1="485.4" y1="121.2" x2="485.4" y2="122.9" stroke="#111" stroke-width="0.95"/>
<line x1="486.4" y1="121.2" x2="486.4" y2="123.9" stroke="#111" stroke-width="0.95"/>
<line x1="493.1" y1="121.2" x2="493.1" y2="122.9" stroke="#111" stroke-width="0.95"/>
<line x1="496.9" y1="121.2" x2="496.9" y2="122.9" stroke="#111" stroke-width="0.95"/>
<line x1="499.7" y1="121.2" x2="499.7" y2="122.9" stroke="#111" stroke-width="0.95"/>
<line x1="501.8" y1="121.2" x2="501.8" y2="122.9" stroke="#111" stroke-width="0.95"/>
<line x1="503.6" y1="121.2" x2="503.6" y2="122.9" stroke="#111" stroke-width="0.95"/>
<line x1="505.1" y1="121.2" x2="505.1" y2="122.9" stroke="#111" stroke-width="0.95"/>
<line x1="506.4" y1="121.2" x2="506.4" y2="122.9" stroke="#111" stroke-width="0.95"/>
<line x1="507.5" y1="121.2" x2="507.5" y2="122.9" stroke="#111" stroke-width="0.95"/>
<line x1="508.5" y1="121.2" x2="508.5" y2="123.9" stroke="#111" stroke-width="0.95"/>
<line x1="515.2" y1="121.2" x2="515.2" y2="122.9" stroke="#111" stroke-width="0.95"/>
<text x="424.09999999999997" y="112.5" font-size="8" text-anchor="end" font-weight="normal" fill="#111" >10<tspan font-size="5.6" dy="-3">2</tspan></text>
<text x="443.7" y="134.2" font-size="8" text-anchor="middle" font-weight="normal" fill="#111" >10<tspan font-size="5.6" dy="-3">2</tspan></text>
<text x="424.09999999999997" y="92.10000000000001" font-size="8" text-anchor="end" font-weight="normal" fill="#111" >10<tspan font-size="5.6" dy="-3">3</tspan></text>
<text x="465.8" y="134.2" font-size="8" text-anchor="middle" font-weight="normal" fill="#111" >10<tspan font-size="5.6" dy="-3">3</tspan></text>
<text x="424.09999999999997" y="71.7" font-size="8" text-anchor="end" font-weight="normal" fill="#111" >10<tspan font-size="5.6" dy="-3">4</tspan></text>
<text x="487.9" y="134.2" font-size="8" text-anchor="middle" font-weight="normal" fill="#111" >10<tspan font-size="5.6" dy="-3">4</tspan></text>
<text x="424.09999999999997" y="51.300000000000004" font-size="8" text-anchor="end" font-weight="normal" fill="#111" >10<tspan font-size="5.6" dy="-3">5</tspan></text>
<text x="510.0" y="134.2" font-size="8" text-anchor="middle" font-weight="normal" fill="#111" >10<tspan font-size="5.6" dy="-3">5</tspan></text>
<text x="2.7" y="168.2" font-size="10.6" text-anchor="start" font-weight="bold" fill="#111" >C</text>
<line x1="37.5" y1="168.89999999999998" x2="37.5" y2="273.1" stroke="#222" stroke-width="1.3"/>
<line x1="36.9" y1="272.5" x2="160" y2="272.5" stroke="#222" stroke-width="1.3"/>
<line x1="34.5" y1="272.90" x2="37.5" y2="272.90" stroke="#222" stroke-width="1"/>
<text x="31.6" y="275.79999999999995" font-size="7.5" text-anchor="end" font-weight="normal" fill="#222" >0.0</text>
<line x1="34.5" y1="247.90" x2="37.5" y2="247.90" stroke="#222" stroke-width="1"/>
<text x="31.6" y="250.79999999999998" font-size="7.5" text-anchor="end" font-weight="normal" fill="#222" >0.2</text>
<line x1="34.5" y1="222.90" x2="37.5" y2="222.90" stroke="#222" stroke-width="1"/>
<text x="31.6" y="225.79999999999998" font-size="7.5" text-anchor="end" font-weight="normal" fill="#222" >0.4</text>
<line x1="34.5" y1="197.90" x2="37.5" y2="197.90" stroke="#222" stroke-width="1"/>
<text x="31.6" y="200.79999999999998" font-size="7.5" text-anchor="end" font-weight="normal" fill="#222" >0.6</text>
<line x1="34.5" y1="172.90" x2="37.5" y2="172.90" stroke="#222" stroke-width="1"/>
<text x="31.6" y="175.79999999999998" font-size="7.5" text-anchor="end" font-weight="normal" fill="#222" >0.8</text>
<line x1="73" y1="272.5" x2="73" y2="275.5" stroke="#222" stroke-width="1"/>
<line x1="126.5" y1="272.5" x2="126.5" y2="275.5" stroke="#222" stroke-width="1"/>
<text x="98.6" y="166.5" font-size="9.9" text-anchor="middle" font-weight="normal" fill="#111" >WBC</text>
<text transform="translate(15.9,223.2) rotate(-90) scale(0.8,1)" font-size="8" text-anchor="middle" fill="#111" font-weight="bold">10<tspan font-size="5.2" dy="-3">9</tspan><tspan dy="3">/L</tspan></text>
<path d="M73.5,195 L73.5,189.5 L126.5,189.5 L126.5,217" fill="none" stroke="#2a2a2a" stroke-width="1"/>
<text x="99.5" y="189.39999999999998" font-size="9.4" text-anchor="middle" font-weight="bold" fill="#111" >***</text>
<circle cx="73.0" cy="200.9" r="1.55" fill="#d1184a"/>
<circle cx="69.0" cy="205.8" r="1.55" fill="#d1184a"/>
<circle cx="77.0" cy="205.8" r="1.55" fill="#d1184a"/>
<circle cx="69.0" cy="210.9" r="1.55" fill="#d1184a"/>
<circle cx="77.0" cy="213.3" r="1.55" fill="#d1184a"/>
<circle cx="69.0" cy="217.0" r="1.55" fill="#d1184a"/>
<circle cx="60.9" cy="220.2" r="1.55" fill="#d1184a"/>
<circle cx="77.0" cy="223.0" r="1.55" fill="#d1184a"/>
<circle cx="60.9" cy="226.2" r="1.55" fill="#d1184a"/>
<circle cx="84.6" cy="227.0" r="1.55" fill="#d1184a"/>
<circle cx="60.9" cy="232.3" r="1.55" fill="#d1184a"/>
<circle cx="69.0" cy="230.7" r="1.55" fill="#d1184a"/>
<circle cx="77.0" cy="232.1" r="1.55" fill="#d1184a"/>
<circle cx="84.6" cy="233.1" r="1.55" fill="#d1184a"/>
<circle cx="69.0" cy="237.9" r="1.55" fill="#d1184a"/>
<circle cx="77.0" cy="237.1" r="1.55" fill="#d1184a"/>
<circle cx="84.6" cy="239.0" r="1.55" fill="#d1184a"/>
<circle cx="73.0" cy="244.7" r="1.55" fill="#d1184a"/>
<rect x="116.40" y="221.80" width="3.4" height="3.4" fill="#1a6496"/>
<rect x="124.70" y="221.80" width="3.4" height="3.4" fill="#1a6496"/>
<rect x="132.70" y="221.80" width="3.4" height="3.4" fill="#1a6496"/>
<rect x="128.70" y="226.10" width="3.4" height="3.4" fill="#1a6496"/>
<rect x="120.70" y="229.20" width="3.4" height="3.4" fill="#1a6496"/>
<rect x="136.70" y="229.20" width="3.4" height="3.4" fill="#1a6496"/>
<rect x="128.70" y="231.20" width="3.4" height="3.4" fill="#1a6496"/>
<rect x="120.70" y="235.80" width="3.4" height="3.4" fill="#1a6496"/>
<rect x="128.70" y="235.80" width="3.4" height="3.4" fill="#1a6496"/>
<rect x="112.60" y="241.60" width="3.4" height="3.4" fill="#1a6496"/>
<rect x="120.70" y="243.90" width="3.4" height="3.4" fill="#1a6496"/>
<rect x="128.70" y="242.70" width="3.4" height="3.4" fill="#1a6496"/>
<rect x="112.60" y="246.10" width="3.4" height="3.4" fill="#1a6496"/>
<rect x="136.70" y="245.00" width="3.4" height="3.4" fill="#1a6496"/>
<rect x="120.70" y="249.60" width="3.4" height="3.4" fill="#1a6496"/>
<rect x="136.70" y="251.30" width="3.4" height="3.4" fill="#1a6496"/>
<rect x="112.60" y="254.20" width="3.4" height="3.4" fill="#1a6496"/>
<rect x="128.70" y="254.20" width="3.4" height="3.4" fill="#1a6496"/>
<line x1="55.5" y1="224.5" x2="90.5" y2="224.5" stroke="#1a1a1a" stroke-width="1.05"/>
<line x1="64.5" y1="221.5" x2="81.5" y2="221.5" stroke="#1a1a1a" stroke-width="1"/>
<line x1="64.5" y1="227.5" x2="81.5" y2="227.5" stroke="#1a1a1a" stroke-width="1"/>
<line x1="73.5" y1="221.5" x2="73.5" y2="227.5" stroke="#1a1a1a" stroke-width="1"/>
<line x1="109.0" y1="239.5" x2="144.0" y2="239.5" stroke="#1a1a1a" stroke-width="1.05"/>
<line x1="118.0" y1="237.5" x2="135.0" y2="237.5" stroke="#1a1a1a" stroke-width="1"/>
<line x1="118.0" y1="242.5" x2="135.0" y2="242.5" stroke="#1a1a1a" stroke-width="1"/>
<line x1="126.5" y1="237.5" x2="126.5" y2="242.5" stroke="#1a1a1a" stroke-width="1"/>
<line x1="220.5" y1="169.5" x2="220.5" y2="273.1" stroke="#222" stroke-width="1.3"/>
<line x1="219.9" y1="272.5" x2="343.5" y2="272.5" stroke="#222" stroke-width="1.3"/>
<line x1="217.5" y1="272.20" x2="220.5" y2="272.20" stroke="#222" stroke-width="1"/>
<text x="214.6" y="275.09999999999997" font-size="7.5" text-anchor="end" font-weight="normal" fill="#222" >0</text>
<line x1="217.5" y1="239.30" x2="220.5" y2="239.30" stroke="#222" stroke-width="1"/>
<text x="214.6" y="242.2" font-size="7.5" text-anchor="end" font-weight="normal" fill="#222" >5</text>
<line x1="217.5" y1="206.40" x2="220.5" y2="206.40" stroke="#222" stroke-width="1"/>
<text x="214.6" y="209.29999999999998" font-size="7.5" text-anchor="end" font-weight="normal" fill="#222" >10</text>
<line x1="217.5" y1="173.50" x2="220.5" y2="173.50" stroke="#222" stroke-width="1"/>
<text x="214.6" y="176.4" font-size="7.5" text-anchor="end" font-weight="normal" fill="#222" >15</text>
<line x1="256.5" y1="272.5" x2="256.5" y2="275.5" stroke="#222" stroke-width="1"/>
<line x1="310.2" y1="272.5" x2="310.2" y2="275.5" stroke="#222" stroke-width="1"/>
<text x="281.5" y="166.5" font-size="9.9" text-anchor="middle" font-weight="normal" fill="#111" >RBC</text>
<text transform="translate(199.7,221.4) rotate(-90) scale(0.82,1)" font-size="8" text-anchor="middle" fill="#111" font-weight="bold">10<tspan font-size="5.2" dy="-3">12</tspan><tspan dy="3">/L</tspan></text>
<path d="M256.5,207 L256.5,202.5 L310.5,202.5 L310.5,217.5" fill="none" stroke="#2a2a2a" stroke-width="1"/>
<text x="282.5" y="202.2" font-size="9.4" text-anchor="middle" font-weight="bold" fill="#111" >****</text>
<circle cx="256.3" cy="214.1" r="1.55" fill="#d1184a"/>
<circle cx="249.4" cy="218.3" r="1.55" fill="#d1184a"/>
<circle cx="254.2" cy="219.7" r="1.55" fill="#d1184a"/>
<circle cx="267.9" cy="218.5" r="1.55" fill="#d1184a"/>
<circle cx="272.5" cy="219.4" r="1.55" fill="#d1184a"/>
<circle cx="258.6" cy="222.6" r="1.55" fill="#d1184a"/>
<circle cx="263.2" cy="222.1" r="1.55" fill="#d1184a"/>
<circle cx="244.9" cy="223.8" r="1.55" fill="#d1184a"/>
<circle cx="254.2" cy="223.9" r="1.55" fill="#d1184a"/>
<circle cx="272.5" cy="223.5" r="1.55" fill="#d1184a"/>
<circle cx="240.6" cy="226.3" r="1.55" fill="#d1184a"/>
<circle cx="249.4" cy="227.3" r="1.55" fill="#d1184a"/>
<circle cx="263.2" cy="226.3" r="1.55" fill="#d1184a"/>
<circle cx="267.9" cy="225.2" r="1.55" fill="#d1184a"/>
<circle cx="254.2" cy="231.7" r="1.55" fill="#d1184a"/>
<circle cx="258.6" cy="230.8" r="1.55" fill="#d1184a"/>
<circle cx="254.2" cy="239.1" r="1.55" fill="#d1184a"/>
<circle cx="258.6" cy="237.7" r="1.55" fill="#d1184a"/>
<rect x="308.30" y="222.50" width="3.4" height="3.4" fill="#1a6496"/>
<rect x="303.00" y="225.90" width="3.4" height="3.4" fill="#1a6496"/>
<rect x="313.70" y="226.50" width="3.4" height="3.4" fill="#1a6496"/>
<rect x="303.00" y="229.40" width="3.4" height="3.4" fill="#1a6496"/>
<rect x="292.30" y="232.20" width="3.4" height="3.4" fill="#1a6496"/>
<rect x="308.30" y="232.20" width="3.4" height="3.4" fill="#1a6496"/>
<rect x="313.70" y="232.80" width="3.4" height="3.4" fill="#1a6496"/>
<rect x="319.10" y="232.20" width="3.4" height="3.4" fill="#1a6496"/>
<rect x="297.60" y="234.50" width="3.4" height="3.4" fill="#1a6496"/>
<rect x="303.00" y="235.10" width="3.4" height="3.4" fill="#1a6496"/>
<rect x="308.30" y="235.70" width="3.4" height="3.4" fill="#1a6496"/>
<rect x="324.40" y="235.10" width="3.4" height="3.4" fill="#1a6496"/>
<rect x="308.30" y="238.00" width="3.4" height="3.4" fill="#1a6496"/>
<rect x="313.70" y="240.30" width="3.4" height="3.4" fill="#1a6496"/>
<rect x="303.00" y="242.50" width="3.4" height="3.4" fill="#1a6496"/>
<rect x="308.30" y="243.70" width="3.4" height="3.4" fill="#1a6496"/>
<rect x="308.30" y="251.10" width="3.4" height="3.4" fill="#1a6496"/>
<rect x="313.70" y="252.90" width="3.4" height="3.4" fill="#1a6496"/>
<rect x="303.00" y="255.50" width="3.4" height="3.4" fill="#1a6496"/>
<line x1="239.0" y1="225.5" x2="274.0" y2="225.5" stroke="#1a1a1a" stroke-width="1.05"/>
<line x1="248.0" y1="223.5" x2="265.0" y2="223.5" stroke="#1a1a1a" stroke-width="1"/>
<line x1="248.0" y1="226.5" x2="265.0" y2="226.5" stroke="#1a1a1a" stroke-width="1"/>
<line x1="256.5" y1="223.5" x2="256.5" y2="226.5" stroke="#1a1a1a" stroke-width="1"/>
<line x1="292.7" y1="238.5" x2="327.7" y2="238.5" stroke="#1a1a1a" stroke-width="1.05"/>
<line x1="301.7" y1="237.5" x2="318.7" y2="237.5" stroke="#1a1a1a" stroke-width="1"/>
<line x1="301.7" y1="240.5" x2="318.7" y2="240.5" stroke="#1a1a1a" stroke-width="1"/>
<line x1="310.5" y1="237.5" x2="310.5" y2="240.5" stroke="#1a1a1a" stroke-width="1"/>
<line x1="396.5" y1="169.39999999999998" x2="396.5" y2="273.1" stroke="#222" stroke-width="1.3"/>
<line x1="395.9" y1="272.5" x2="519.5" y2="272.5" stroke="#222" stroke-width="1.3"/>
<line x1="393.5" y1="272.90" x2="396.5" y2="272.90" stroke="#222" stroke-width="1"/>
<text x="390.59999999999997" y="275.79999999999995" font-size="7.5" text-anchor="end" font-weight="normal" fill="#222" >0</text>
<line x1="393.5" y1="253.00" x2="396.5" y2="253.00" stroke="#222" stroke-width="1"/>
<text x="390.59999999999997" y="255.89999999999998" font-size="7.5" text-anchor="end" font-weight="normal" fill="#222" >100</text>
<line x1="393.5" y1="233.10" x2="396.5" y2="233.10" stroke="#222" stroke-width="1"/>
<text x="390.59999999999997" y="235.99999999999997" font-size="7.5" text-anchor="end" font-weight="normal" fill="#222" >200</text>
<line x1="393.5" y1="213.20" x2="396.5" y2="213.20" stroke="#222" stroke-width="1"/>
<text x="390.59999999999997" y="216.1" font-size="7.5" text-anchor="end" font-weight="normal" fill="#222" >300</text>
<line x1="393.5" y1="193.30" x2="396.5" y2="193.30" stroke="#222" stroke-width="1"/>
<text x="390.59999999999997" y="196.19999999999996" font-size="7.5" text-anchor="end" font-weight="normal" fill="#222" >400</text>
<line x1="393.5" y1="173.40" x2="396.5" y2="173.40" stroke="#222" stroke-width="1"/>
<text x="390.59999999999997" y="176.29999999999998" font-size="7.5" text-anchor="end" font-weight="normal" fill="#222" >500</text>
<line x1="432.4" y1="272.5" x2="432.4" y2="275.5" stroke="#222" stroke-width="1"/>
<line x1="485.4" y1="272.5" x2="485.4" y2="275.5" stroke="#222" stroke-width="1"/>
<text x="457.7" y="166.5" font-size="9.9" text-anchor="middle" font-weight="normal" fill="#111" >PLT</text>
<text transform="translate(372,221) rotate(-90) scale(0.8,1)" font-size="8" text-anchor="middle" fill="#111" font-weight="bold">10<tspan font-size="5.2" dy="-3">9</tspan><tspan dy="3">/L</tspan></text>
<path d="M432.5,-10 L432.5,-9.5 L485.5,-9.5 L485.5,-10" fill="none" stroke="#2a2a2a" stroke-width="1"/>
<text x="0" y="-9.8" font-size="9.4" text-anchor="middle" font-weight="bold" fill="#111" ></text>
<circle cx="432.5" cy="205.9" r="1.55" fill="#d1184a"/>
<circle cx="428.2" cy="212.7" r="1.55" fill="#d1184a"/>
<circle cx="436.5" cy="213.2" r="1.55" fill="#d1184a"/>
<circle cx="432.5" cy="219.9" r="1.55" fill="#d1184a"/>
<circle cx="420.5" cy="229.6" r="1.55" fill="#d1184a"/>
<circle cx="436.5" cy="231.7" r="1.55" fill="#d1184a"/>
<circle cx="428.2" cy="233.3" r="1.55" fill="#d1184a"/>
<circle cx="436.5" cy="236.5" r="1.55" fill="#d1184a"/>
<circle cx="428.2" cy="238.1" r="1.55" fill="#d1184a"/>
<circle cx="436.5" cy="242.9" r="1.55" fill="#d1184a"/>
<circle cx="428.2" cy="244.5" r="1.55" fill="#d1184a"/>
<circle cx="420.5" cy="247.7" r="1.55" fill="#d1184a"/>
<circle cx="436.5" cy="249.3" r="1.55" fill="#d1184a"/>
<circle cx="444.2" cy="248.9" r="1.55" fill="#d1184a"/>
<circle cx="428.2" cy="251.3" r="1.55" fill="#d1184a"/>
<circle cx="432.5" cy="258.0" r="1.55" fill="#d1184a"/>
<circle cx="440.5" cy="259.0" r="1.55" fill="#d1184a"/>
<circle cx="424.1" cy="260.1" r="1.55" fill="#d1184a"/>
<rect x="484.50" y="177.40" width="3.4" height="3.4" fill="#1a6496"/>
<rect x="479.60" y="215.20" width="3.4" height="3.4" fill="#1a6496"/>
<rect x="488.10" y="212.30" width="3.4" height="3.4" fill="#1a6496"/>
<rect x="484.50" y="221.70" width="3.4" height="3.4" fill="#1a6496"/>
<rect x="484.50" y="232.70" width="3.4" height="3.4" fill="#1a6496"/>
<rect x="484.50" y="238.00" width="3.4" height="3.4" fill="#1a6496"/>
<rect x="480.10" y="245.20" width="3.4" height="3.4" fill="#1a6496"/>
<rect x="488.10" y="249.60" width="3.4" height="3.4" fill="#1a6496"/>
<rect x="496.20" y="252.00" width="3.4" height="3.4" fill="#1a6496"/>
<rect x="480.10" y="253.60" width="3.4" height="3.4" fill="#1a6496"/>
<rect x="488.10" y="254.80" width="3.4" height="3.4" fill="#1a6496"/>
<rect x="472.20" y="258.40" width="3.4" height="3.4" fill="#1a6496"/>
<rect x="480.10" y="260.40" width="3.4" height="3.4" fill="#1a6496"/>
<rect x="488.10" y="260.40" width="3.4" height="3.4" fill="#1a6496"/>
<rect x="472.20" y="266.40" width="3.4" height="3.4" fill="#1a6496"/>
<rect x="480.10" y="265.70" width="3.4" height="3.4" fill="#1a6496"/>
<rect x="488.10" y="266.40" width="3.4" height="3.4" fill="#1a6496"/>
<rect x="496.20" y="265.70" width="3.4" height="3.4" fill="#1a6496"/>
<line x1="414.9" y1="238.5" x2="449.9" y2="238.5" stroke="#1a1a1a" stroke-width="1.05"/>
<line x1="423.9" y1="234.5" x2="440.9" y2="234.5" stroke="#1a1a1a" stroke-width="1"/>
<line x1="423.9" y1="241.5" x2="440.9" y2="241.5" stroke="#1a1a1a" stroke-width="1"/>
<line x1="432.5" y1="234.5" x2="432.5" y2="241.5" stroke="#1a1a1a" stroke-width="1"/>
<line x1="467.9" y1="246.5" x2="502.9" y2="246.5" stroke="#1a1a1a" stroke-width="1.05"/>
<line x1="476.9" y1="240.5" x2="493.9" y2="240.5" stroke="#1a1a1a" stroke-width="1"/>
<line x1="476.9" y1="251.5" x2="493.9" y2="251.5" stroke="#1a1a1a" stroke-width="1"/>
<line x1="485.5" y1="240.5" x2="485.5" y2="251.5" stroke="#1a1a1a" stroke-width="1"/>
<line x1="37.5" y1="318.9" x2="37.5" y2="422.1" stroke="#222" stroke-width="1.3"/>
<line x1="36.9" y1="421.5" x2="160" y2="421.5" stroke="#222" stroke-width="1.3"/>
<line x1="34.5" y1="421.90" x2="37.5" y2="421.90" stroke="#222" stroke-width="1"/>
<text x="31.099999999999998" y="424.79999999999995" font-size="7.5" text-anchor="end" font-weight="normal" fill="#222" >0</text>
<line x1="34.5" y1="402.10" x2="37.5" y2="402.10" stroke="#222" stroke-width="1"/>
<text x="31.099999999999998" y="404.99999999999994" font-size="7.5" text-anchor="end" font-weight="normal" fill="#222" >100</text>
<line x1="34.5" y1="382.30" x2="37.5" y2="382.30" stroke="#222" stroke-width="1"/>
<text x="31.099999999999998" y="385.19999999999993" font-size="7.5" text-anchor="end" font-weight="normal" fill="#222" >200</text>
<line x1="34.5" y1="362.50" x2="37.5" y2="362.50" stroke="#222" stroke-width="1"/>
<text x="31.099999999999998" y="365.4" font-size="7.5" text-anchor="end" font-weight="normal" fill="#222" >300</text>
<line x1="34.5" y1="342.70" x2="37.5" y2="342.70" stroke="#222" stroke-width="1"/>
<text x="31.099999999999998" y="345.59999999999997" font-size="7.5" text-anchor="end" font-weight="normal" fill="#222" >400</text>
<line x1="34.5" y1="322.90" x2="37.5" y2="322.90" stroke="#222" stroke-width="1"/>
<text x="31.099999999999998" y="325.79999999999995" font-size="7.5" text-anchor="end" font-weight="normal" fill="#222" >500</text>
<line x1="71.7" y1="421.5" x2="71.7" y2="424.5" stroke="#222" stroke-width="1"/>
<line x1="125.3" y1="421.5" x2="125.3" y2="424.5" stroke="#222" stroke-width="1"/>
<text x="98.6" y="312.5" font-size="9.9" text-anchor="middle" font-weight="normal" fill="#111" >Total BM#</text>
<text transform="translate(10.7,370.6) rotate(-90) scale(0.78,1)" font-size="8" text-anchor="middle" fill="#111" font-weight="bold">10<tspan font-size="5.2" dy="-3">6</tspan></text>
<path d="M71.5,331 L71.5,324.5 L125.5,324.5 L125.5,387.7" fill="none" stroke="#2a2a2a" stroke-width="1"/>
<text x="97" y="324.8" font-size="9.4" text-anchor="middle" font-weight="bold" fill="#111" >*</text>
<circle cx="72.3" cy="337.2" r="1.55" fill="#d1184a"/>
<circle cx="88.4" cy="390.1" r="1.55" fill="#d1184a"/>
<circle cx="63.1" cy="392.2" r="1.55" fill="#d1184a"/>
<circle cx="75.8" cy="393.8" r="1.55" fill="#d1184a"/>
<circle cx="57.0" cy="395.5" r="1.55" fill="#d1184a"/>
<circle cx="69.2" cy="396.0" r="1.55" fill="#d1184a"/>
<circle cx="88.4" cy="395.5" r="1.55" fill="#d1184a"/>
<circle cx="63.1" cy="397.7" r="1.55" fill="#d1184a"/>
<circle cx="82.3" cy="397.7" r="1.55" fill="#d1184a"/>
<circle cx="75.8" cy="399.2" r="1.55" fill="#d1184a"/>
<circle cx="69.2" cy="402.5" r="1.55" fill="#d1184a"/>
<circle cx="56.6" cy="405.1" r="1.55" fill="#d1184a"/>
<circle cx="63.1" cy="408.4" r="1.55" fill="#d1184a"/>
<circle cx="69.7" cy="410.8" r="1.55" fill="#d1184a"/>
<circle cx="75.8" cy="410.2" r="1.55" fill="#d1184a"/>
<circle cx="88.4" cy="410.8" r="1.55" fill="#d1184a"/>
<circle cx="82.3" cy="412.8" r="1.55" fill="#d1184a"/>
<circle cx="56.6" cy="412.3" r="1.55" fill="#d1184a"/>
<rect x="114.60" y="392.70" width="3.4" height="3.4" fill="#1a6496"/>
<rect x="134.10" y="392.50" width="3.4" height="3.4" fill="#1a6496"/>
<rect x="121.20" y="396.10" width="3.4" height="3.4" fill="#1a6496"/>
<rect x="127.30" y="399.50" width="3.4" height="3.4" fill="#1a6496"/>
<rect x="114.60" y="401.40" width="3.4" height="3.4" fill="#1a6496"/>
<rect x="121.20" y="400.60" width="3.4" height="3.4" fill="#1a6496"/>
<rect x="134.10" y="401.20" width="3.4" height="3.4" fill="#1a6496"/>
<rect x="121.20" y="406.70" width="3.4" height="3.4" fill="#1a6496"/>
<rect x="108.40" y="408.10" width="3.4" height="3.4" fill="#1a6496"/>
<rect x="114.60" y="409.10" width="3.4" height="3.4" fill="#1a6496"/>
<rect x="127.30" y="407.10" width="3.4" height="3.4" fill="#1a6496"/>
<rect x="134.10" y="409.60" width="3.4" height="3.4" fill="#1a6496"/>
<rect x="140.40" y="411.00" width="3.4" height="3.4" fill="#1a6496"/>
<rect x="108.40" y="412.00" width="3.4" height="3.4" fill="#1a6496"/>
<rect x="121.20" y="411.50" width="3.4" height="3.4" fill="#1a6496"/>
<rect x="127.30" y="412.00" width="3.4" height="3.4" fill="#1a6496"/>
<rect x="114.60" y="415.80" width="3.4" height="3.4" fill="#1a6496"/>
<rect x="127.30" y="415.30" width="3.4" height="3.4" fill="#1a6496"/>
<rect x="134.10" y="414.80" width="3.4" height="3.4" fill="#1a6496"/>
<line x1="54.2" y1="398.5" x2="89.2" y2="398.5" stroke="#1a1a1a" stroke-width="1.05"/>
<line x1="63.2" y1="394.5" x2="80.2" y2="394.5" stroke="#1a1a1a" stroke-width="1"/>
<line x1="63.2" y1="402.5" x2="80.2" y2="402.5" stroke="#1a1a1a" stroke-width="1"/>
<line x1="71.5" y1="394.5" x2="71.5" y2="402.5" stroke="#1a1a1a" stroke-width="1"/>
<line x1="107.8" y1="408.5" x2="142.8" y2="408.5" stroke="#1a1a1a" stroke-width="1.05"/>
<line x1="116.8" y1="406.5" x2="133.8" y2="406.5" stroke="#1a1a1a" stroke-width="1"/>
<line x1="116.8" y1="410.5" x2="133.8" y2="410.5" stroke="#1a1a1a" stroke-width="1"/>
<line x1="125.5" y1="406.5" x2="125.5" y2="410.5" stroke="#1a1a1a" stroke-width="1"/>
<text x="71.7" y="434.09999999999997" font-size="8.0" text-anchor="middle" font-weight="normal" fill="#111" >BMF</text>
<text x="126.1" y="434.09999999999997" font-size="7.9" text-anchor="middle" font-weight="normal" fill="#111" >Anti-Ly6G</text>
<line x1="220.5" y1="318.9" x2="220.5" y2="422.1" stroke="#222" stroke-width="1.3"/>
<line x1="219.9" y1="421.5" x2="343.5" y2="421.5" stroke="#222" stroke-width="1.3"/>
<line x1="217.5" y1="421.90" x2="220.5" y2="421.90" stroke="#222" stroke-width="1"/>
<text x="214.6" y="424.79999999999995" font-size="7.5" text-anchor="end" font-weight="normal" fill="#222" >0</text>
<line x1="217.5" y1="397.15" x2="220.5" y2="397.15" stroke="#222" stroke-width="1"/>
<text x="214.6" y="400.04999999999995" font-size="7.5" text-anchor="end" font-weight="normal" fill="#222" >5</text>
<line x1="217.5" y1="372.40" x2="220.5" y2="372.40" stroke="#222" stroke-width="1"/>
<text x="214.6" y="375.29999999999995" font-size="7.5" text-anchor="end" font-weight="normal" fill="#222" >10</text>
<line x1="217.5" y1="347.65" x2="220.5" y2="347.65" stroke="#222" stroke-width="1"/>
<text x="214.6" y="350.54999999999995" font-size="7.5" text-anchor="end" font-weight="normal" fill="#222" >15</text>
<line x1="217.5" y1="322.90" x2="220.5" y2="322.90" stroke="#222" stroke-width="1"/>
<text x="214.6" y="325.79999999999995" font-size="7.5" text-anchor="end" font-weight="normal" fill="#222" >20</text>
<line x1="256.5" y1="421.5" x2="256.5" y2="424.5" stroke="#222" stroke-width="1"/>
<line x1="310.2" y1="421.5" x2="310.2" y2="424.5" stroke="#222" stroke-width="1"/>
<text x="281.8" y="313" font-size="9.9" text-anchor="middle" font-weight="normal" fill="#111" >BM CD4</text>
<text transform="translate(198.6,370.5) rotate(-90) scale(1,1)" font-size="8.6" text-anchor="middle" fill="#111" font-weight="normal">%</text>
<path d="M256.5,364 L256.5,329.5 L310.5,329.5 L310.5,335" fill="none" stroke="#2a2a2a" stroke-width="1"/>
<text x="282.5" y="330.0" font-size="9.4" text-anchor="middle" font-weight="bold" fill="#111" >**</text>
<circle cx="253.3" cy="369.4" r="1.55" fill="#d1184a"/>
<circle cx="259.5" cy="372.8" r="1.55" fill="#d1184a"/>
<circle cx="253.3" cy="381.3" r="1.55" fill="#d1184a"/>
<circle cx="253.3" cy="385.9" r="1.55" fill="#d1184a"/>
<circle cx="259.5" cy="384.8" r="1.55" fill="#d1184a"/>
<circle cx="266.4" cy="384.4" r="1.55" fill="#d1184a"/>
<circle cx="259.5" cy="393.3" r="1.55" fill="#d1184a"/>
<circle cx="253.3" cy="395.1" r="1.55" fill="#d1184a"/>
<circle cx="240.5" cy="402.7" r="1.55" fill="#d1184a"/>
<circle cx="247.1" cy="401.6" r="1.55" fill="#d1184a"/>
<circle cx="253.3" cy="400.6" r="1.55" fill="#d1184a"/>
<circle cx="259.5" cy="402.7" r="1.55" fill="#d1184a"/>
<circle cx="266.4" cy="402.7" r="1.55" fill="#d1184a"/>
<circle cx="272.5" cy="400.9" r="1.55" fill="#d1184a"/>
<circle cx="247.1" cy="411.0" r="1.55" fill="#d1184a"/>
<circle cx="247.1" cy="416.5" r="1.55" fill="#d1184a"/>
<circle cx="259.5" cy="414.4" r="1.55" fill="#d1184a"/>
<circle cx="266.4" cy="413.7" r="1.55" fill="#d1184a"/>
<rect x="308.50" y="340.40" width="3.4" height="3.4" fill="#1a6496"/>
<rect x="308.50" y="358.40" width="3.4" height="3.4" fill="#1a6496"/>
<rect x="305.00" y="366.30" width="3.4" height="3.4" fill="#1a6496"/>
<rect x="312.20" y="366.30" width="3.4" height="3.4" fill="#1a6496"/>
<rect x="298.40" y="369.80" width="3.4" height="3.4" fill="#1a6496"/>
<rect x="312.20" y="371.20" width="3.4" height="3.4" fill="#1a6496"/>
<rect x="292.20" y="373.50" width="3.4" height="3.4" fill="#1a6496"/>
<rect x="324.60" y="372.30" width="3.4" height="3.4" fill="#1a6496"/>
<rect x="298.40" y="376.00" width="3.4" height="3.4" fill="#1a6496"/>
<rect x="305.00" y="376.00" width="3.4" height="3.4" fill="#1a6496"/>
<rect x="312.20" y="376.00" width="3.4" height="3.4" fill="#1a6496"/>
<rect x="318.00" y="376.00" width="3.4" height="3.4" fill="#1a6496"/>
<rect x="305.00" y="384.90" width="3.4" height="3.4" fill="#1a6496"/>
<rect x="312.20" y="383.60" width="3.4" height="3.4" fill="#1a6496"/>
<rect x="305.00" y="400.80" width="3.4" height="3.4" fill="#1a6496"/>
<rect x="312.20" y="398.10" width="3.4" height="3.4" fill="#1a6496"/>
<rect x="312.20" y="404.50" width="3.4" height="3.4" fill="#1a6496"/>
<rect x="305.00" y="408.00" width="3.4" height="3.4" fill="#1a6496"/>
<line x1="239.0" y1="396.5" x2="274.0" y2="396.5" stroke="#1a1a1a" stroke-width="1.05"/>
<line x1="248.0" y1="393.5" x2="265.0" y2="393.5" stroke="#1a1a1a" stroke-width="1"/>
<line x1="248.0" y1="399.5" x2="265.0" y2="399.5" stroke="#1a1a1a" stroke-width="1"/>
<line x1="256.5" y1="393.5" x2="256.5" y2="399.5" stroke="#1a1a1a" stroke-width="1"/>
<line x1="292.7" y1="379.5" x2="327.7" y2="379.5" stroke="#1a1a1a" stroke-width="1.05"/>
<line x1="301.7" y1="375.5" x2="318.7" y2="375.5" stroke="#1a1a1a" stroke-width="1"/>
<line x1="301.7" y1="383.5" x2="318.7" y2="383.5" stroke="#1a1a1a" stroke-width="1"/>
<line x1="310.5" y1="375.5" x2="310.5" y2="383.5" stroke="#1a1a1a" stroke-width="1"/>
<text x="256.5" y="434.09999999999997" font-size="8.0" text-anchor="middle" font-weight="normal" fill="#111" >BMF</text>
<text x="311.0" y="434.09999999999997" font-size="7.9" text-anchor="middle" font-weight="normal" fill="#111" >Anti-Ly6G</text>
<line x1="396.5" y1="318.9" x2="396.5" y2="422.1" stroke="#222" stroke-width="1.3"/>
<line x1="395.9" y1="421.5" x2="519.5" y2="421.5" stroke="#222" stroke-width="1.3"/>
<line x1="393.5" y1="421.90" x2="396.5" y2="421.90" stroke="#222" stroke-width="1"/>
<text x="390.59999999999997" y="424.79999999999995" font-size="7.5" text-anchor="end" font-weight="normal" fill="#222" >0</text>
<line x1="393.5" y1="402.10" x2="396.5" y2="402.10" stroke="#222" stroke-width="1"/>
<text x="390.59999999999997" y="404.99999999999994" font-size="7.5" text-anchor="end" font-weight="normal" fill="#222" >10</text>
<line x1="393.5" y1="382.30" x2="396.5" y2="382.30" stroke="#222" stroke-width="1"/>
<text x="390.59999999999997" y="385.19999999999993" font-size="7.5" text-anchor="end" font-weight="normal" fill="#222" >20</text>
<line x1="393.5" y1="362.50" x2="396.5" y2="362.50" stroke="#222" stroke-width="1"/>
<text x="390.59999999999997" y="365.4" font-size="7.5" text-anchor="end" font-weight="normal" fill="#222" >30</text>
<line x1="393.5" y1="342.70" x2="396.5" y2="342.70" stroke="#222" stroke-width="1"/>
<text x="390.59999999999997" y="345.59999999999997" font-size="7.5" text-anchor="end" font-weight="normal" fill="#222" >40</text>
<line x1="393.5" y1="322.90" x2="396.5" y2="322.90" stroke="#222" stroke-width="1"/>
<text x="390.59999999999997" y="325.79999999999995" font-size="7.5" text-anchor="end" font-weight="normal" fill="#222" >50</text>
<line x1="432.4" y1="421.5" x2="432.4" y2="424.5" stroke="#222" stroke-width="1"/>
<line x1="485.4" y1="421.5" x2="485.4" y2="424.5" stroke="#222" stroke-width="1"/>
<text x="461" y="313" font-size="9.9" text-anchor="middle" font-weight="normal" fill="#111" >BM CD8</text>
<text transform="translate(374.2,370.7) rotate(-90) scale(1,1)" font-size="8.6" text-anchor="middle" fill="#111" font-weight="normal">%</text>
<path d="M432.5,338.5 L432.5,329.5 L485.5,329.5 L485.5,335" fill="none" stroke="#2a2a2a" stroke-width="1"/>
<text x="458.7" y="330.0" font-size="9.4" text-anchor="middle" font-weight="bold" fill="#111" >*</text>
<circle cx="432.4" cy="349.0" r="1.55" fill="#d1184a"/>
<circle cx="420.4" cy="356.7" r="1.55" fill="#d1184a"/>
<circle cx="428.7" cy="359.4" r="1.55" fill="#d1184a"/>
<circle cx="436.6" cy="358.7" r="1.55" fill="#d1184a"/>
<circle cx="444.3" cy="358.7" r="1.55" fill="#d1184a"/>
<circle cx="432.4" cy="365.7" r="1.55" fill="#d1184a"/>
<circle cx="428.7" cy="373.1" r="1.55" fill="#d1184a"/>
<circle cx="436.6" cy="375.4" r="1.55" fill="#d1184a"/>
<circle cx="428.7" cy="379.1" r="1.55" fill="#d1184a"/>
<circle cx="436.6" cy="381.3" r="1.55" fill="#d1184a"/>
<circle cx="444.3" cy="379.6" r="1.55" fill="#d1184a"/>
<circle cx="428.7" cy="384.5" r="1.55" fill="#d1184a"/>
<circle cx="420.4" cy="393.3" r="1.55" fill="#d1184a"/>
<circle cx="436.6" cy="393.3" r="1.55" fill="#d1184a"/>
<circle cx="428.7" cy="395.7" r="1.55" fill="#d1184a"/>
<circle cx="420.4" cy="398.5" r="1.55" fill="#d1184a"/>
<circle cx="436.6" cy="397.5" r="1.55" fill="#d1184a"/>
<circle cx="444.3" cy="397.2" r="1.55" fill="#d1184a"/>
<rect x="484.30" y="339.60" width="3.4" height="3.4" fill="#1a6496"/>
<rect x="468.30" y="349.50" width="3.4" height="3.4" fill="#1a6496"/>
<rect x="492.10" y="348.40" width="3.4" height="3.4" fill="#1a6496"/>
<rect x="500.40" y="350.00" width="3.4" height="3.4" fill="#1a6496"/>
<rect x="476.30" y="351.60" width="3.4" height="3.4" fill="#1a6496"/>
<rect x="484.30" y="349.20" width="3.4" height="3.4" fill="#1a6496"/>
<rect x="484.30" y="353.70" width="3.4" height="3.4" fill="#1a6496"/>
<rect x="476.30" y="356.40" width="3.4" height="3.4" fill="#1a6496"/>
<rect x="492.10" y="356.00" width="3.4" height="3.4" fill="#1a6496"/>
<rect x="484.30" y="359.20" width="3.4" height="3.4" fill="#1a6496"/>
<rect x="480.30" y="365.30" width="3.4" height="3.4" fill="#1a6496"/>
<rect x="488.00" y="363.70" width="3.4" height="3.4" fill="#1a6496"/>
<rect x="476.30" y="380.60" width="3.4" height="3.4" fill="#1a6496"/>
<rect x="484.30" y="383.00" width="3.4" height="3.4" fill="#1a6496"/>
<rect x="492.10" y="384.30" width="3.4" height="3.4" fill="#1a6496"/>
<rect x="484.30" y="387.80" width="3.4" height="3.4" fill="#1a6496"/>
<rect x="492.10" y="389.10" width="3.4" height="3.4" fill="#1a6496"/>
<rect x="476.30" y="389.10" width="3.4" height="3.4" fill="#1a6496"/>
<line x1="414.9" y1="377.5" x2="449.9" y2="377.5" stroke="#1a1a1a" stroke-width="1.05"/>
<line x1="423.9" y1="374.5" x2="440.9" y2="374.5" stroke="#1a1a1a" stroke-width="1"/>
<line x1="423.9" y1="381.5" x2="440.9" y2="381.5" stroke="#1a1a1a" stroke-width="1"/>
<line x1="432.5" y1="374.5" x2="432.5" y2="381.5" stroke="#1a1a1a" stroke-width="1"/>
<line x1="467.9" y1="365.5" x2="502.9" y2="365.5" stroke="#1a1a1a" stroke-width="1.05"/>
<line x1="476.9" y1="362.5" x2="493.9" y2="362.5" stroke="#1a1a1a" stroke-width="1"/>
<line x1="476.9" y1="369.5" x2="493.9" y2="369.5" stroke="#1a1a1a" stroke-width="1"/>
<line x1="485.5" y1="362.5" x2="485.5" y2="369.5" stroke="#1a1a1a" stroke-width="1"/>
<text x="432.4" y="434.09999999999997" font-size="8.0" text-anchor="middle" font-weight="normal" fill="#111" >BMF</text>
<text x="486.2" y="434.09999999999997" font-size="7.9" text-anchor="middle" font-weight="normal" fill="#111" >Anti-Ly6G</text>
</svg>
</body></html>
